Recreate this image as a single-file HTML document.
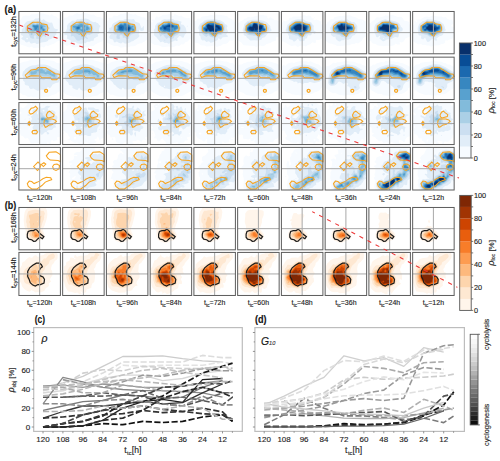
<!DOCTYPE html><html><head><meta charset="utf-8"><style>html,body{margin:0;padding:0;background:#fff;width:500px;height:461px;overflow:hidden}svg{display:block}text{stroke:#2a2a2a;stroke-width:0.14px}</style></head><body>
<svg width="500" height="461" viewBox="0 0 500 461" style="font-family:'Liberation Sans',sans-serif">
<rect width="500" height="461" fill="#fff"/>
<defs>
<clipPath id="cp0_0"><rect x="18.90" y="11.47" width="41.50" height="42.30"/></clipPath>
<clipPath id="cp0_1"><rect x="62.65" y="11.47" width="41.50" height="42.30"/></clipPath>
<clipPath id="cp0_2"><rect x="106.40" y="11.47" width="41.50" height="42.30"/></clipPath>
<clipPath id="cp0_3"><rect x="150.15" y="11.47" width="41.50" height="42.30"/></clipPath>
<clipPath id="cp0_4"><rect x="193.90" y="11.47" width="41.50" height="42.30"/></clipPath>
<clipPath id="cp0_5"><rect x="237.65" y="11.47" width="41.50" height="42.30"/></clipPath>
<clipPath id="cp0_6"><rect x="281.40" y="11.47" width="41.50" height="42.30"/></clipPath>
<clipPath id="cp0_7"><rect x="325.15" y="11.47" width="41.50" height="42.30"/></clipPath>
<clipPath id="cp0_8"><rect x="368.90" y="11.47" width="41.50" height="42.30"/></clipPath>
<clipPath id="cp0_9"><rect x="412.65" y="11.47" width="41.50" height="42.30"/></clipPath>
<clipPath id="cp1_0"><rect x="18.90" y="57.15" width="41.50" height="42.41"/></clipPath>
<clipPath id="cp1_1"><rect x="62.65" y="57.15" width="41.50" height="42.41"/></clipPath>
<clipPath id="cp1_2"><rect x="106.40" y="57.15" width="41.50" height="42.41"/></clipPath>
<clipPath id="cp1_3"><rect x="150.15" y="57.15" width="41.50" height="42.41"/></clipPath>
<clipPath id="cp1_4"><rect x="193.90" y="57.15" width="41.50" height="42.41"/></clipPath>
<clipPath id="cp1_5"><rect x="237.65" y="57.15" width="41.50" height="42.41"/></clipPath>
<clipPath id="cp1_6"><rect x="281.40" y="57.15" width="41.50" height="42.41"/></clipPath>
<clipPath id="cp1_7"><rect x="325.15" y="57.15" width="41.50" height="42.41"/></clipPath>
<clipPath id="cp1_8"><rect x="368.90" y="57.15" width="41.50" height="42.41"/></clipPath>
<clipPath id="cp1_9"><rect x="412.65" y="57.15" width="41.50" height="42.41"/></clipPath>
<clipPath id="cp2_0"><rect x="18.90" y="102.55" width="41.50" height="42.00"/></clipPath>
<clipPath id="cp2_1"><rect x="62.65" y="102.55" width="41.50" height="42.00"/></clipPath>
<clipPath id="cp2_2"><rect x="106.40" y="102.55" width="41.50" height="42.00"/></clipPath>
<clipPath id="cp2_3"><rect x="150.15" y="102.55" width="41.50" height="42.00"/></clipPath>
<clipPath id="cp2_4"><rect x="193.90" y="102.55" width="41.50" height="42.00"/></clipPath>
<clipPath id="cp2_5"><rect x="237.65" y="102.55" width="41.50" height="42.00"/></clipPath>
<clipPath id="cp2_6"><rect x="281.40" y="102.55" width="41.50" height="42.00"/></clipPath>
<clipPath id="cp2_7"><rect x="325.15" y="102.55" width="41.50" height="42.00"/></clipPath>
<clipPath id="cp2_8"><rect x="368.90" y="102.55" width="41.50" height="42.00"/></clipPath>
<clipPath id="cp2_9"><rect x="412.65" y="102.55" width="41.50" height="42.00"/></clipPath>
<clipPath id="cp3_0"><rect x="18.90" y="147.40" width="41.50" height="42.60"/></clipPath>
<clipPath id="cp3_1"><rect x="62.65" y="147.40" width="41.50" height="42.60"/></clipPath>
<clipPath id="cp3_2"><rect x="106.40" y="147.40" width="41.50" height="42.60"/></clipPath>
<clipPath id="cp3_3"><rect x="150.15" y="147.40" width="41.50" height="42.60"/></clipPath>
<clipPath id="cp3_4"><rect x="193.90" y="147.40" width="41.50" height="42.60"/></clipPath>
<clipPath id="cp3_5"><rect x="237.65" y="147.40" width="41.50" height="42.60"/></clipPath>
<clipPath id="cp3_6"><rect x="281.40" y="147.40" width="41.50" height="42.60"/></clipPath>
<clipPath id="cp3_7"><rect x="325.15" y="147.40" width="41.50" height="42.60"/></clipPath>
<clipPath id="cp3_8"><rect x="368.90" y="147.40" width="41.50" height="42.60"/></clipPath>
<clipPath id="cp3_9"><rect x="412.65" y="147.40" width="41.50" height="42.60"/></clipPath>
<clipPath id="cp4_0"><rect x="18.90" y="207.47" width="41.50" height="42.35"/></clipPath>
<clipPath id="cp4_1"><rect x="62.65" y="207.47" width="41.50" height="42.35"/></clipPath>
<clipPath id="cp4_2"><rect x="106.40" y="207.47" width="41.50" height="42.35"/></clipPath>
<clipPath id="cp4_3"><rect x="150.15" y="207.47" width="41.50" height="42.35"/></clipPath>
<clipPath id="cp4_4"><rect x="193.90" y="207.47" width="41.50" height="42.35"/></clipPath>
<clipPath id="cp4_5"><rect x="237.65" y="207.47" width="41.50" height="42.35"/></clipPath>
<clipPath id="cp4_6"><rect x="281.40" y="207.47" width="41.50" height="42.35"/></clipPath>
<clipPath id="cp4_7"><rect x="325.15" y="207.47" width="41.50" height="42.35"/></clipPath>
<clipPath id="cp4_8"><rect x="368.90" y="207.47" width="41.50" height="42.35"/></clipPath>
<clipPath id="cp4_9"><rect x="412.65" y="207.47" width="41.50" height="42.35"/></clipPath>
<clipPath id="cp5_0"><rect x="18.90" y="252.42" width="41.50" height="43.05"/></clipPath>
<clipPath id="cp5_1"><rect x="62.65" y="252.42" width="41.50" height="43.05"/></clipPath>
<clipPath id="cp5_2"><rect x="106.40" y="252.42" width="41.50" height="43.05"/></clipPath>
<clipPath id="cp5_3"><rect x="150.15" y="252.42" width="41.50" height="43.05"/></clipPath>
<clipPath id="cp5_4"><rect x="193.90" y="252.42" width="41.50" height="43.05"/></clipPath>
<clipPath id="cp5_5"><rect x="237.65" y="252.42" width="41.50" height="43.05"/></clipPath>
<clipPath id="cp5_6"><rect x="281.40" y="252.42" width="41.50" height="43.05"/></clipPath>
<clipPath id="cp5_7"><rect x="325.15" y="252.42" width="41.50" height="43.05"/></clipPath>
<clipPath id="cp5_8"><rect x="368.90" y="252.42" width="41.50" height="43.05"/></clipPath>
<clipPath id="cp5_9"><rect x="412.65" y="252.42" width="41.50" height="43.05"/></clipPath>
</defs>
<g clip-path="url(#cp0_0)"><g transform="translate(18.9 11.5)"><path d="M21 36.6l-.5 .2-2-.9-2 .7-2 0-2-1.5-2 .9-1-.2-4.6-1.8-2.9-.8-2-3.3-.3-3.9 .1-11.5 .4-2-.2-2.9 .5-.8 1.4-.8 1.3-2.5 .9-1 2.4-.6 4 .3 2-1.4 4 0 4-1 4.1 .2 2.2 1 2.7 .2 .7 .3 .8 1 .9-1.5 1.1-.3 2 1.9 2.5 .5 1.5 1.8 .5 .2 1.5-.2 .5 1.1 1.5 .9 0 2.9-.7 .7 .7 .4 .2 1.6-.2 12.5-1.1 2-4 1-2.4 2-5.5 1.9-1 .9-2-1-1 1.4-1 .7-1-.2-1.5-.7z" fill="#f7fbff"/><path d="M18.5 32.5l-1.5-.3-.5-1-2 .2-1.5 .5-1 0-.6-.4-.9-1.4-.5 0-2 .8-1.5-.3-.7-1.6-1.8-.5-1.6-1.5 .1-.5 1.5-.9 .3-.6-.3-.7-1.5-.6-.7-.7 0-.5 1.1-1.5-.1-2.5 .2-.9 1.2-1.1 .8-3.3 2.2-2.7 1.3-.8 6-1 2-1.6 2.5-.1 1.5-.8 .7 .3 .6 1.5 .7 .7 .5 0 1-.8 1-.2 1.9 1.8 3.2 1.5 .9 .3 2-.4 .4 .6 1.5 4.5 1.1 1.2 2.5 .5 .5 .3 .2 .5-2.1 2 .4 2-.2 .5-5.1 4.5-2.2 .5-.5 .3-.5 1.1-2.5 1.2-4 .3zM8.9 27.5l.2-.5-.6-.8-.5 0-.8 .8 .8 1 .5-.1z" fill="#e1edf8"/><path d="M20.5 28.1l-1.2-.6-2.2-.5 .5-2-.5-1-.6-.3-1 .3-.5 .5-.1 .5 .5 2-1.4 .2-2.2-.7-.5-.5-1.3-3.5-.5-.1-.3-1.4-.7-.6-2 .3-.4-.2 .5-1-.3-3 .3-1 3.3-3.5 2.1-1.5 2.5-.4 1 .2 1 .6 2-1.3 3 1.1 3.5 .4 2 .8 1 .7 1.3 1.4 .7 1.5 1.2 1-.2 .6-2 .9-.3 .5 .3 .5 1.1 .5 .5 1-1.6 1.8-2 .2 0 3-.5 .1-.5-.6-1-.4-1.6 .4-1.3 2-1.1 1zM16.6 21l-.1-.5-.1 .5z" fill="#ccdff1"/><path d="M19.5 24.1l-.5 0-.5-1.1-.6-.5 0-1.5-.2-.5-.7-.4-.5-.1-1 .3-1 .8-.9-.6-2.2-.5-.9-.5-2 0-.7-.5-.2-.5 .2-1 1.8-3 .9-1.1 2-1.5 2-.4 2 1.2 2-1.5 2 .7 2.5-.1 2 1 2 .5 1.2 1.2 .1 1.5-.8 3.8-1 .7-1.5 2.1-3 1.1zM12.5 23.7l-.9-.7 .1-1 .8-.6 .9 .1 .4 1-.2 .5z" fill="#abd0e6"/><path d="M21 22.6l-1.4-.6-.9-1.5-.7-.6-1.5-.4-2 .2-2-.3-1-.4-.4-.5 .4-.8 2-.6 .8-.6-.8-.5-.5-1 0-1 .5-.9 1-.4 2 .6 2-.9 2 .7 2-.7 .5 .1 1.5 1.2 2.2 .8-.2 1-1.5 .3-.5 .7 2 .8 .3 1.2-.5 1-1.3 1.3-2 .2-1 1.2z" fill="#82bbdb"/><path d="M21 21.6l-.5 0-.5-.4-1-1.9-3-.3-1.2-.5 .3-2-1.4-1.5-.1-.5 .4-.8 .5-.3 2 .4 2-.5 2 .9 2-.5 1.3 .8 .2 2.3 1.5 .8 .6 .9-.6 1-.5 .5-.5 0-.8-.5-.7-1.4-2.5-.1-.3 .5 1.2 1 .4 1zM13 18.5l-.6 0 .9 0z" fill="#58a1cf"/><path d="M16.5 18.5l-.5-.7-.5-2-1-.7-.4-.6 .4-.4 2 .2 2-.2 .8 .4-.2 1-.9 1-.2 1-.5 .6zM23 17l-.5 .1-.8-.6 .8-1.2 .5 .3 .1 .4zM25 19.3l-.8-.3-.2-.5 .3-.5 .7 0 .5 .5z" fill="#3787c0"/></g></g>
<polygon points="27.4,26.1 32.8,22.2 40.1,22.2 41.5,23.7 46.9,24.7 47.9,28.1 47.4,31.0 42.5,32.0 40.1,36.4 38.1,34.9 36.2,32.5 28.9,32.0 27.4,30.5" fill="none" stroke="#f7a41f" stroke-width="1.05" stroke-linejoin="miter"/>
<line x1="39.65" y1="11.47" x2="39.65" y2="53.77" stroke="#a8a8a8" stroke-width="1"/><line x1="18.90" y1="32.62" x2="60.40" y2="32.62" stroke="#a8a8a8" stroke-width="1"/><rect x="18.90" y="11.47" width="41.50" height="42.30" fill="none" stroke="#5c5c5c" stroke-width="1.0"/>
<g clip-path="url(#cp1_0)"><g transform="translate(18.9 57.1)"><path d="M24.5 40.5l-4 .4-4-.7-2 .2-2-.9-2 .4-2-.3-2.5-1.7-2 0-2-1.7-2-.5-.3-16.7 .3-12.5 5-1.8 3.5-.6 2-1 6-.3 8.5-.8 2 .7 8 1.2 2.5 1.7 4 .7 1.5 .9 .4 11.8-.4 14.3-3.8 1.7-2.2 1.9-4.8 1.6-3 1.5-2.2-.5-1.5 .8z" fill="#f7fbff"/><path d="M25 33.5l-1.8-1-.7-.1-2.5 1-1.5 .2-4-2.3-2 .7-1-.2-1-.8-.6-2-1.1-.5-1.8-.3-1-.7-.3-1 .2-1.5-1.4-1.2-.5-.8 .4-2.5-1.1-2 .7-3.8 1.5-1.2 1-1.6 3.5-2.3 3-1.1 3.5-.4 2.5-.7 6-.1 2 .3 4 1.4 1.9 1.5 4.6 1.7 2.7 1.8 2.8 3.3 0 3.8-2.2 1.9-1.3 2.3-2.5 .6-3.3 1.6-.8 1.5-1.6 2-.3 .2-.5-.2-1.5-1.4-2 2.7z" fill="#e1edf8"/><path d="M25 23.1l-2.5-.6-2 .3-2-2.1-2 .9-4-1.1-2 .6-.5-.1-1.1-1-.7-2-.1-1 .5-2 .6-1 1.2-1 6.1-2.7 6.5-.9 3 .6 5.5 1.8 6.7 4.2 1.2 1.5 .3 1.5-.4 1.5-1.2 1.5-1.1 .8-3 0-7-.9z" fill="#ccdff1"/><path d="M37 21.1l-1.5 .1-2.5-1.1-4-.8-4 .1-2-.2-2.5-1-2 .1-2 .6-5-.1-1-.8-.3-2.5 .4-1 .9-.8 5-2 6.5-1.3 2 1 2 .2 3.5 1 5 2.9 2.3 2.5 .2 1-.1 1z" fill="#abd0e6"/><path d="M36 19.7l-1-.1-2.7-1.1-3.3-1.9-2 .7-2.5-.8-4-.3-.8-.7 .5-1-1.2-.4-1.3 .4 .3 .5-.1 1-.4 .5-1.5 .6-3.5 .5-.8-.6-.3-1.5 .4-1 .7-.4 2 .2 4-2.2 2 .1 2.5-.8 2 2 1.4 .1-.7 1 .8 .5 .5 0 .7-.5-.2-1 1.5 0 1.5 .5 1.5 .9 1 2.1 1-.7 1-.1 .5 .4 .8 1.4 .1 1z" fill="#82bbdb"/><path d="M22.5 13.5l0-.7 .4 .2z" fill="#58a1cf"/></g></g>
<polygon points="25.3,75.2 31.1,70.0 36.3,69.2 38.3,67.5 45.5,67.5 49.4,70.0 55.2,73.7 59.5,74.3 60.4,76.5 58.5,77.8 56.5,79.8 52.0,79.8 50.7,77.8 41.6,77.5 40.3,75.9 31.1,75.7 26.6,77.5" fill="none" stroke="#f7a41f" stroke-width="1.05" stroke-linejoin="miter"/>
<ellipse cx="46.1" cy="90.8" rx="1.5" ry="1.5" fill="none" stroke="#f7a41f" stroke-width="1.3"/>
<line x1="39.65" y1="57.15" x2="39.65" y2="99.56" stroke="#a8a8a8" stroke-width="1"/><line x1="18.90" y1="78.35" x2="60.40" y2="78.35" stroke="#a8a8a8" stroke-width="1"/><rect x="18.90" y="57.15" width="41.50" height="42.41" fill="none" stroke="#5c5c5c" stroke-width="1.0"/>
<g clip-path="url(#cp2_0)"><g transform="translate(18.9 102.5)"><path d="M31 42l-.9-.5-.6-1.4-.5-.3-.5 .3-.7 1.4-.8 .4-4 .2-.5-.2-1-1.1-1-.2-4-.2-4 .7-1.5-1.5-.5-1.6-1.5-2.2-.5-.2-1.5 .3-1 0-2-2.4-2.2-.5-.4-2-1.4-1.4-.1-.6 .1-.4 2-1.6-.5-.9-1.1-1.1-.2-.5 .4-3 .4-.8 1.1-.2-2.1 0-.2-6 .2-1.3 2.6-2.7-.6-1.5-2 .7-.1-1.2 .1-1.2 1-.4 .5-.9 .5-2 0-2.1 .1 2.1 .7 1 1.2 .7 2-1.1 2.7-2.6-.7-2 .9 0 2.1 .6 .5 .5 .2 .9 .8 .4 .5-.4 .3-1.5 .8-.5 4.4-.3 18.2 .3 2.3 .7 .5 .5 .8 1.8 1.3 1 .4 1 1 .6 .1 8.9 .2 2-.3 17.3-.8-.3-.7-3.3-.5 .3-.2 .5 .4 3 .5 1-.2 .4-.9-.9-1.1-.1-1 .3-.5 .3-.1 .5 .7 1.5-.2 .5-2.4 .8-1 .6-2-1.7-.5 1.1-1.1 1.2 .5 1 0 1zM33.2 2.5l.6-.5-.8-.7-.8 .7zM20.9 2l-.4-.2-.2 .2zM37.7 4.5l.2-.5-.4-.3-.5 0-.3 .3 .3 .7zM10.5 8l0-.2-.5-.1-.2 .3 .2 .4zM41.8 12.5l-.3-.5-.6 .5 .6 .5zM10.7 27l-.2-2.2-1 2.2 1 .3zM35.8 33l-.8-.3-.2 .3 .2 .3zM17.5 35l-1.1 0 .1 .4z" fill="#f7fbff"/><path d="M25 2.5l-1-.5 1.5 0zM29 32l-1-.5-.2-1.5-.3-.4-.5 0-1.5 .4-1.5 1.7-1.5 .5-.5-.2-.8-2-.7-.5-1 .5-.5 1.3-.5 .5-2 .6-.8-.9-.6-2-1-.5 .6-2-.2-.5-.7-.5-.2-1 .3-1 1-1-.1-.5-.3-.2-3-.1-.9-.7 0-1 1.3-2.5 .7-.5 .5-1-.1-1-1.1-1 .2-.5 1.4-.7 .5-1.8 0-1.5-.8-1.5 1.8-1.7 3.5-.5 1-.6 .6-1.7 .4-.2 1.2 .2 .8 2 3.4-1 1.1-1.5 .5-.1 1.5-.1 2.5 .7-2.7 2-.1 .5 2.3 2.7 .7-1.2 1.3-.6 1 .3 1 1 1 .4 .5 .7 0 1.3-.5 .8-.9 .6 2.4 .6 1.1 1.4-.6 3-.7 1 .8 2-1.8 2.5 .7 1 0 1-2 .3-2 2.3-4 .1-.3 .3-.8 1 .1 .3 1.5 .5 .9 1.2-.4 .6zM25.3 9l.4-.5-.2-.8-.5-.4-1 .2-.3 .5 .1 .5 .7 .6zM18.9 11.5l.3-1.5-.2-.8-.5-.6-.5 2.4 .5 .9zM33.7 10.5l-.1-.5-.6-.3-1 .3 0 .5 1 .5zM11 13.3l-2-.2-.8-.6 2.3-1 1 1zM10.5 17.1l-.8-.6 .8-.7 .6 .7zM6.5 16.8l-.5 .1-.3-.4 .8-.2 .2 .2zM19.1 18.5l-.6-.2-.3 .2 .3 .3zM9 23l-.5 .4-.5-.6 0-2.2 .5-.5 1.4 .9-.2 1.5zM21.3 27.5l.4-.5-.7-.9-.5-.1-.5 1 .2 .5 .3 .5zM27 33.5l-.2-.5 .2-.1z" fill="#e1edf8"/><path d="M23 25l-.6-.5-.1-1.5-1.3-1.4-.5-.4-2-.1-.3-.6 1.7-.5 .6-.7 .2-.8-.2-1.3-2.1-.7 .6-.5 1.5 .2 1.2-3.7-.2-1.1-.6-.9 .6-.4 1-.1 1.1 .5 .4 2 2 1.3 .5 .7 4 .5 1 .4 .6 2.1 .9 1-2 1-.3 1.5 .3 .6 2 .8 .2 .6-.5 .5-1.7 .7-3-.8-1-.7-.5 .1-2.2 .7zM29 13.8l-.5-.4-.2-.9 .7-.7 .5 .7z" fill="#ccdff1"/><path d="M29 22.1l-2-1.1-4 .6-1-.6-.3-.5 .2-2-.6-2 .4-1 1.3-1.5 2 .2 1.1 .8 1.9 .6 2.2 1.4 .3 1.5-1 2.9z" fill="#abd0e6"/><path d="M29 20.6l-2.6-1.1-.6-1-.8-.7-2 .5-.5-.2-.6-1.6 .6-1 .5-.3 1.5-.1 3.5 1.4 1.1 1 .6 1z" fill="#82bbdb"/><path d="M29 18.6l-.5 .3-1-.3-2.5-1.9-2 .7-.6-.9 .6-.5 3.9 .5 .6 1.4z" fill="#58a1cf"/></g></g>
<polygon points="29.2,110.8 31.2,108.3 33.6,107.8 35.6,106.3 37.5,108.3 36.5,110.2 32.6,113.6 30.7,114.1 29.2,112.8" fill="none" stroke="#f7a41f" stroke-width="1.05" stroke-linejoin="miter"/>
<polygon points="46.3,115.1 47.8,112.2 49.7,111.2 51.7,112.8 54.1,114.6 53.6,116.6 50.2,117.5 48.2,118.0 46.8,117.0" fill="none" stroke="#f7a41f" stroke-width="1.05" stroke-linejoin="miter"/>
<polygon points="44.3,120.5 45.8,119.0 49.2,119.0 52.1,119.0 55.1,120.0 56.5,121.4 54.6,122.9 52.1,124.4 49.2,124.9 46.8,126.8 45.3,127.3 43.9,124.4" fill="none" stroke="#f7a41f" stroke-width="1.05" stroke-linejoin="miter"/>
<polygon points="27.8,123.4 29.2,121.4 30.7,123.4 29.2,125.3" fill="none" stroke="#f7a41f" stroke-width="1.05" stroke-linejoin="miter"/>
<polygon points="31.9,132.1 32.9,130.6 36.4,130.3 37.5,132.1 36.4,133.8 32.9,133.8" fill="none" stroke="#f7a41f" stroke-width="1.05" stroke-linejoin="miter"/>
<line x1="39.65" y1="102.55" x2="39.65" y2="144.55" stroke="#a8a8a8" stroke-width="1"/><line x1="18.90" y1="123.55" x2="60.40" y2="123.55" stroke="#a8a8a8" stroke-width="1"/><rect x="18.90" y="102.55" width="41.50" height="42.00" fill="none" stroke="#5c5c5c" stroke-width="1.0"/>
<g clip-path="url(#cp3_0)"><g transform="translate(18.9 147.4)"></g></g>
<polygon points="46.3,155.8 49.2,152.3 56.0,151.9 60.0,154.3 60.5,154.9 60.5,161.6 58.0,160.6 50.2,160.1 47.8,158.2" fill="none" stroke="#f7a41f" stroke-width="1.05" stroke-linejoin="miter"/>
<polygon points="27.3,183.6 29.2,181.1 31.7,181.6 34.1,183.6 37.5,182.1 39.5,181.1 42.9,178.7 46.3,177.2 50.7,177.7 51.7,179.7 49.2,180.6 45.3,182.1 41.9,185.5 39.0,187.5 37.0,188.9 31.7,188.9 28.3,186.5" fill="none" stroke="#f7a41f" stroke-width="1.05" stroke-linejoin="miter"/>
<polygon points="33.6,166.5 38.0,162.1 40.9,165.0 39.9,168.0 37.5,170.4" fill="none" stroke="#f7a41f" stroke-width="1.05" stroke-linejoin="miter"/>
<polygon points="41.4,164.5 43.9,162.6 45.8,164.0 43.4,166.5" fill="none" stroke="#f7a41f" stroke-width="1.05" stroke-linejoin="miter"/>
<polygon points="52.6,166.5 54.1,164.5 57.0,164.0 59.5,165.5 59.0,168.9 56.0,170.4 53.6,169.4" fill="none" stroke="#f7a41f" stroke-width="1.05" stroke-linejoin="miter"/>
<line x1="39.65" y1="147.40" x2="39.65" y2="190.00" stroke="#a8a8a8" stroke-width="1"/><line x1="18.90" y1="168.70" x2="60.40" y2="168.70" stroke="#a8a8a8" stroke-width="1"/><rect x="18.90" y="147.40" width="41.50" height="42.60" fill="none" stroke="#5c5c5c" stroke-width="1.0"/>
<g clip-path="url(#cp4_0)"><g transform="translate(18.9 207.5)"><path d="M17 34.5l-2 .2-3.5-.9-3.2-2.3-1.1-1.5-.6-3 .2-4-1.5-5-.5-5 .4-4.5 .6-4 1.2-2.6 2.3-1.9 5.2-.3 12 .3 1.6 3 .4 3.5-.4 3.5-.8 3-1.6 5-1.3 2.5-.2 1 .1 2 1.7 4.5 0 1.5-.8 1.5-1.2 .9z" fill="#fff5eb"/><path d="M17.5 32.6l-2 .2-3-.5-1.5-1.3-1-1.6-1.2-.9-.5-2 1-4-1.5-4 .1-2-.7-2 .6-6 1.4-4.5 1.3-.8 6-1.2 5.4 1 1.1 .6 .5-.3 1 0 .5 .5 1 2.2-.8 2.5 .1 1.5-.3 2-1.2 2.5-1.9 6.5 .2 2 1.6 3.5 .4 1.5 0 1-.7 1-1.9 1.2z" fill="#fee8d2"/><path d="M18 31l-3 .1-1.5-.5-1-.6-2-3 .2-1.5 1.5-3-.2-1-.8-1 .2-1.5-.2-2.5-.8-2 .8-2-1.3-4 .6-1.2 2-.3 4-1.4 2-.2 1.3 .6 .3 .5-.5 1.5 .1 .5 .8 .4 2-.7 .1 .3-1 3.5-.1 2.5-.6 2-2.4 3.9 0 .6 1.2 1.5 .9 2 1.4 1.5 .5 2-.2 1-1.1 1-1.2 .6zM19 14.5l-.5-1.4-.4 1.4 .4 .2z" fill="#fdd5ad"/><path d="M14.5 17.1l-.5-.6 .5-.6 .4 .6zM19 30l-2 .3-1.5-.3-2.1-2-.5-1 0-1 .4-1.5 .9-1 .3-.2 3 .6 1.2 1.1 1.3 .5 1 .8 .4 1.2-.2 1-1 1z" fill="#fdb97d"/><path d="M18 29.5l-1.5 .1-1-.6-.3-1 .2-1-.9-2 1-.4 1 0 3.8 2.4 .1 .5-.5 1-.5 .5z" fill="#fd9c51"/><path d="M18 28.6l-1.5 .3-.3-.9 .3-1 .5-.2 1.3 .7 .1 .5z" fill="#f87d29"/></g></g>
<polygon points="27.3,234.3 28.2,231.4 30.7,230.6 33.6,230.6 35.6,229.2 37.5,230.6 39.5,233.3 43.9,236.7 42.4,238.7 40.0,237.2 38.0,238.7 35.6,241.1 33.6,241.3 31.7,239.7 28.7,239.2 27.3,237.2" fill="none" stroke="#1a1a1a" stroke-width="1.2" stroke-linejoin="miter"/>
<line x1="39.65" y1="207.47" x2="39.65" y2="249.82" stroke="#a8a8a8" stroke-width="1"/><line x1="18.90" y1="228.65" x2="60.40" y2="228.65" stroke="#a8a8a8" stroke-width="1"/><rect x="18.90" y="207.47" width="41.50" height="42.35" fill="none" stroke="#5c5c5c" stroke-width="1.0"/>
<g clip-path="url(#cp5_0)"><g transform="translate(18.9 252.4)"><path d="M21 40l-2.5-.3-2 .4-2-1.4-1.5-.5-.5-.5-1 1.1-1 .5-2-.6-3.2-2.2-2.1-2.5-.9-3-1.2-2-.9-4 .9-4.5-.4-2 .1-2 2.3-4 .1-2 .8-.8 1.5-.7 2.8-3 2.2-1.5 1.5 .8 1 .1 .7-.4 1-1.5 1.8-.7 1 .2 1 1.4 2-.1 .7-.3 .3-.9 3-.6 2.5-1.6 3.1-.9 4.4-.3 3.5 .3 .8 2.5-.2 3.5-.6 1-2.1 1.5-.9 2-2 2-.8 3 0 1.5 1 1.5 .4 4-.1 .7-1.2 1.3-1.4 2.5 1.3 2-2.4 2 .3 2-.2 .5-.9 1-2 1.1-1.5 2.7-2.5 1.4zM21 3l-.5-.1-.5-.4 0-.5 .8 0zM21 37.5l-.5-.5 0 .6z" fill="#fff5eb"/><path d="M18 34.5l-2 .4-3.5-.8-1-.5-1-1.2-3.5-1.4-1-.6-.8-1.4-.9-5-.1-1 .8-4 1.3-2.5 3.4-2.5 2.3-.9 1.5-1.3 4-2.1 2-.5 3-.2 .5-.3 2-2.6 2 0 2.5-3.3 4-1.7 1 0 .5 .4 1.1 2-.4 1.5-.8 1-4 2-.9 3-1.4 1.5-2.4 2-.2 2-2.6 3.5-.2 1.5 .2 1 1.6 1.2 .9 1.3 .3 4-1 2-1.7 1.6-3 .8z" fill="#fee8d2"/><path d="M18 32.6l-2.5 .3-2.5-.9-.4-1-1.1-.6-.9-.9-1.1-2.4-1.5-1.1-1.1-3.5 1.7-2 .6-2 1.3-.7 2.7-2.3 1.7-3 1.6-.9 1 .2 .6 .7 .4 2.2 .4-.2-.1-1 .5-1.5 .7-.6 1-.1 1 .5 1.6 2.2-.2 1-1.6 1.5-.5 1-.6 2 .6 3.5 2.2 2 .1 1-.5 1-.2 2 .4 .5 .1 1-.1 .5-.8 .4-2 .2z" fill="#fdd5ad"/><path d="M16.5 31.7l-4.6-2.7 0-1 .3-1-1.3-1.5-.8-2.5 1.9-2.4 .4-1.6 .4-.5 3.7-1.2 1.2 1.2 .5 2-.2 1.5-1.1 1 1.1 .6 .5 1.4 .5 .5 1.5 .6 .6 1.4 .2 1.5-.3 .6-.5 .2-.5-.2-.6-.6-.4-1.1-.5-.3-1.1 1.4 .3 1-.1 1z" fill="#fdb97d"/><path d="M14.5 22.3l-.4-.8 .1-1 .3-.3 2-.2 .3 .5-.2 .5-1.6 .7zM12.5 25.2l-.3-.7 .3-.6 .6 .6-.1 .5z" fill="#fd9c51"/></g></g>
<polygon points="27.7,271.4 29.7,267.8 32.8,265.3 36.3,263.2 39.4,263.2 41.4,264.7 42.4,266.8 40.4,268.3 38.9,271.3 38.9,273.9 40.4,275.9 43.0,277.0 44.5,279.5 44.0,283.1 40.4,284.6 37.9,284.6 35.3,286.1 32.8,285.1 30.2,282.6 29.2,279.5 27.7,276.5" fill="none" stroke="#1a1a1a" stroke-width="1.2" stroke-linejoin="miter"/>
<line x1="39.65" y1="252.42" x2="39.65" y2="295.47" stroke="#a8a8a8" stroke-width="1"/><line x1="18.90" y1="273.94" x2="60.40" y2="273.94" stroke="#a8a8a8" stroke-width="1"/><rect x="18.90" y="252.42" width="41.50" height="43.05" fill="none" stroke="#5c5c5c" stroke-width="1.0"/>
<g clip-path="url(#cp0_1)"><g transform="translate(62.6 11.5)"><path d="M25 36.1l-2.5-.6-2 .3-2-.4-.7 .6-1.3 .3-2-.7-2 .3-2-.2-2-1.3-2-.8-1.5 .6-1 0-4-2.3-.3-13.4 .3-9.8 .8-.7 1.2-1.9 2.5-.1 1.4-1.5 1.1-.5 3.5 0 1-1 3-1.6 1.6 1.1 .9 .2 1.5-.1 1-1 1.5-.4 4 .7 1.5 .8 2 .6 2.5-.2 2 1.4 2 .9 2 .1 2.5 .9 2 2.1 1 .5 .4 .5 .3 7-.2 10.5-1 .8-1.5 .6-1 1.5-4 1.5-1 .7-1.5 .6-2 1.8-2 .2-2-.2z" fill="#f7fbff"/><path d="M18.5 32.6l-4-.8-2-1.6-2.5 .9-1.7-.1-.3-1 .1-1-3.8-2 .4-2-.2-1-.5-.5-2 .2-.3-1.2 .1-1.5 1.7-1.7 1.1-2.8-.3-2 1.5-2.5 1.7-1 1-1.1 1-.6 1-.3 2 .5 2-1.8 2 .4 2-.9 2 .4 2.5-.5 2 .3 1.4 .6 1.7 1.5 2.9 1.2 2-.4 .5 .8 2 .7 1 1.6 1.6 1.1-1.1 1.3-.3 .7-.4 2 .4 1.5 0 1.5-.2 .5-1.7 1 .8 1 .1 .5-.4 .5-1.4 .5-2.5 1.5-.4 2.3-2 0-2 .9-2.5 .1-1.5 1.4-.5 .1-2-.4z" fill="#e1edf8"/><path d="M17 29l-.5 .2-2-.2-1.4-1.5-.6-1.2-1.8-1.8-.7-.1-1.5 .6-.4-.5 .3-1-.1-1-.8-2.6-.7-1.4 .3-1 .9-1-.6-.5-.1-1.5 3.2-3.2 4-.2 1.5-1.3 2.5-.9 1 .3 1.5 1.3 1.5 .6 2.5-.5 4.4 2.9 .8 1 .5 4-.8 3.5-1.9 .8-1 .7-2-.6-.5 .5-.9 1.6 .4 .8 1 .4 .2 .3-.2 .9-.5 0-.9-.4-.6-.7-2.5 2-2-.2z" fill="#ccdff1"/><path d="M21 25.1l-1 .4-1.6-.5-.1-1 .9-1-.1-.5-.6-.3-.9 1.3-1.1 .1-1.5-1.2-2-.9-.5-1-2 1.1-.9-.6-.4-.5-.3-1 .2-3-.5-2 .4-.5 3-2 2.5-.1 2-1.4 2-.8 4 2.7 .5 .1 2-.6 1 1 .5 1.6 .5 .4 1-.4 1 0 .4 3.5-.4 2.8-2-1.2-.5 .3z" fill="#abd0e6"/><path d="M22.5 22.1l-1 .2-1-.2-2-1.4-2 0-.5 .4-1.5 .2-2-2-2-.2-.5-1.2-.6-3.4 1.1-.9 2-.9 2 0 1.5-.5 2.5-1.7 4 2.9 2-.3 .5 .1 .5 1.3 1.5 1.4 1 .5 0 1.1-.3 .5-1.7 1.1-1.3 1.4-1.2 .6zM18.9 17l.4-.5-.8-.5-.3 .5 .1 .5 .2 .2z" fill="#82bbdb"/><path d="M21 21.1l-.5-.1-1.5-1.5-2-1.2-1.2 .2-1.3 1.8-.6-1.3-1-1-.5-1.5-1.9-.7-.2-1.3 1.2-.3 3 .4 1.5-1.1 2.5-.9 1.5 .3 3 1.6-.5 .4-.8 1.6 .5 1.5 .8 .5 .5-.6 .1-2.9 .9-.2 .5 .2 1.4 1.5-.4 1-1 .9-2 .2-1.1 1.9zM19 18l.5-.5 .4-1-.7-1-.7-.3-.8 1.3 .1 1 .2 .5z" fill="#58a1cf"/><path d="M14.5 18.1l-1-1.1 0-1 1-.7 2-.6 .5 .2 .3 1.1-.3 1.3-.5 .3zM25 16.8l-.3-.3 .3-.2z" fill="#3787c0"/><path d="M16 17l-1.5 .1-.4-.6 .4-.4 2-.3 .3 .7-.3 .5z" fill="#1b69af"/></g></g>
<polygon points="71.2,26.1 76.5,22.2 83.8,22.2 85.2,23.7 90.7,24.7 91.7,28.1 91.2,31.0 86.2,32.0 83.8,36.4 81.8,34.9 80.0,32.5 72.7,32.0 71.2,30.5" fill="none" stroke="#f7a41f" stroke-width="1.05" stroke-linejoin="miter"/>
<line x1="83.40" y1="11.47" x2="83.40" y2="53.77" stroke="#a8a8a8" stroke-width="1"/><line x1="62.65" y1="32.62" x2="104.15" y2="32.62" stroke="#a8a8a8" stroke-width="1"/><rect x="62.65" y="11.47" width="41.50" height="42.30" fill="none" stroke="#5c5c5c" stroke-width="1.0"/>
<g clip-path="url(#cp1_1)"><g transform="translate(62.6 57.1)"><path d="M21.5 40.6l-1.5 .3-3.5-.5-2 .1-2-1.1-2 .2-.7-.1-4.8-1.7-3-1.5-2-2.2-.3-13.6 .3-13.4 2-1.6 2-.7 2-.2 2.5-1.1 6-1.1 4 .3 2-.5 2-.1 2.5 .6 2-.2 2 .2 7 1.7 2.5 1 3 .5 1.5 .6 .4 14-.5 12-1.9 2.5-1.5 .9-2.1 .6-2.4 2-5.7 1-2.3 .9-4-.2z" fill="#f7fbff"/><path d="M21.5 33.6l-1 .2-1-.4-2-1.2-.5-1.2-.5-.3-.4 .3-.4 1-.7 .6-.5 .2-2-.6-2.6-1.2-.1-2-.5-.5-2.8-.5-.9-2.5-2.3-2-1.3-3 1.5-3.8 .5-2.2 6.5-4.9 8-2.1 6-.3 2.5 .8 3.5 .7 2.5 1.7 2 .3 4 2.3 3.6 3.5 .2 1-.2 1 .4 .7 0 2-2.5 1.8-1.1 2-2.4 .5-2 1.4-1 1.4-1 .8-1 .5-3 .8-2 2.1-2 .8-2-.2z" fill="#e1edf8"/><path d="M35.5 23.1l-.5 .1-2-.6-4 .6-2-1-4 .9-1.5-.9-1-.2-2 1-2-1.7-2 .3-2-.1-1.3-1-2.2-.8-1.3-2.2 0-1.5 .8-1.5 1-.9 2.5-1.5 2.5-1.1 6-1.6 4.5 0 4 1.1 5.5 2.8 4.7 3.2 .4 1.5 0 2.5-2.1 1.7z" fill="#ccdff1"/><path d="M35.5 21.6l-1.5-.2-2.5-1.2-1.5-.5-3-.5-2.5 .1-1.5-.5-2.5 .5-2-.1-4-.8-2 .5-1.5 0-1-.6-.6-1.8 .4-1 1.5-1.5 4.7-2.2 5-1.3 4 .1 4 1.1 1.5 .8 5 3.3 2 1.1 .6 1.1-.1 1.6-1.2 1.4z" fill="#abd0e6"/><path d="M36 20.1l-1 .3-.8-.9-.1-1-.6-.4-.5-.2-2 .2-2-1.9-2 1.2-1-.4-1-1-.5-.1-2 .4-2-.3-4 1.3-2-.5-2.5 .4-.5-.2-.3-1 1.3-1.5 4-1.9 2-.2 2 .2 2.5-1.1 2 .2 3.3 .8 5.1 3 1.3 1.5 1.6 1 .3 1z" fill="#82bbdb"/><path d="M27 15.6l-1.5-1-4.5 .1-1.1-.2 .5-.5 2.6-.9 3.5 .2 1.1 .7-.1 1z" fill="#58a1cf"/></g></g>
<polygon points="69.0,75.2 74.8,70.0 80.0,69.2 82.0,67.5 89.2,67.5 93.2,70.0 98.9,73.7 103.2,74.3 104.2,76.5 102.2,77.8 100.2,79.8 95.8,79.8 94.5,77.8 85.3,77.5 84.0,75.9 74.8,75.7 70.3,77.5" fill="none" stroke="#f7a41f" stroke-width="1.05" stroke-linejoin="miter"/>
<ellipse cx="89.8" cy="90.8" rx="1.5" ry="1.5" fill="none" stroke="#f7a41f" stroke-width="1.3"/>
<line x1="83.40" y1="57.15" x2="83.40" y2="99.56" stroke="#a8a8a8" stroke-width="1"/><line x1="62.65" y1="78.35" x2="104.15" y2="78.35" stroke="#a8a8a8" stroke-width="1"/><rect x="62.65" y="57.15" width="41.50" height="42.41" fill="none" stroke="#5c5c5c" stroke-width="1.0"/>
<g clip-path="url(#cp2_1)"><g transform="translate(62.6 102.5)"><path d="M20.5 43l-.8-.5-.7-1-.1-2-.4-.4-.4 .4-.2 2-1.4 .5-1-1.5-.5-.3-1-.1-1.5 .5-2.3-1.1-2.2-1.7-2-.6-2-.2 2.5-.4 .9-1.1 0-.5-1.4-1.5-1-2.4-2-.8-.8-1.3-1.5-1-.5-1-.3-4.5 0-6 .1-.9 .7-1.1-.7-.5 0-3.5 .6-1 1.8-1 .6-1.1 1.5-1.1-.2-3.8 1.2-.5 .3-.5 .1-1.5 1.7 0 1.9 .7 1 .7 1-.9 1-.3 5.5-.4 5-.1 2 .4 4-.4 5 0 2.6 .3 .9 .5 .8-.5 2 0 1.4 2 .5 2-.1 2 .9 1.2 .1 .8-.1 1.7-.3 .8 .4 .5 .2 2-.3 19.4-1.9 .6 .6 2-.2 .3-2.5 .8-1.5 1.7-.5 .2-1.2-3.5-.3-.4-.5-.1-1 2.1-2.1 .9-.3 .5 2.3 1.5 0 .5-.9 .7-2 .8-2 0-2 1.5-.7-.5-.4-1.5-.4-.3-2.5-.2-1 .5-1 2.1zM27.1 8.5l-.3 0 .2 .2zM0 32.1l0-2.4 1.1 .3 .4 1zM12.5 37.5l.5-1.5 .7-1-1.2-1-1.1 1 .5 2zM25.3 37.5l-.3-.6-.5 .2-.1 .4 .6 .4zM27.4 39.5l-.4-.6-.5 .1-.2 .5 .7 .3z" fill="#f7fbff"/><path d="M27.5 33.5l-2 .1-2.5-1.1-2.5 .5-2-.3-1 .6-1 0-.3-.3 .2-2-.4-.7-1.5-.7-2 .3-1-.9 .3-1 1.4-1.5 .7-1.5-.9-1.4-2.5-1.5-1-1.6 .4-2 1.9-.5 .3-1-.9-3-1.1-1.5 .4-.6 2-.2 2.5-1.2 0-.6-1.2-.9-.3-1 .5-1 1.6-1.5 .9-1.4 2 2.7 2-.4 2-1.4 1.4 0 .9 3 2.2 2.8 2.2-.3 .4-.5 0-1.5-.3-.5-.8-.4-3.1-.6-.3-1 .4-.9 5.5-.2 2 1.7 2.5-.2 1.1 1.1 .2 1-.4 1-3.4 .4-.5 .6 1.8 .5 .7 .7 2-1.1 .5 .3 .6 1.1 .5 2.5-.8 1-.8 .4-2-.8-.8 .4-.2 1 2 1.7 .5 1.3 .9 1-.3 2-.6 1.1-1.5 1.4-.5 2 0 2-1.5 .9-2 .1-.5 .4-1.5 0-.4 .6 0 2zM17.3 9l1-1-.3-.7-1.5-.2-.9 .4-.3 1 .2 .7 1 .3zM14.8 20l.7-1 0-.5-.6-.5-1.9-.1-.8 .6 2.3 1.6zM19.1 25.5l.5-.5-.2-.5-.9-.6-.5 1.1 .5 .8zM27 25l0-.6-.2 .6zM31.2 25l-.2-.7 0 1.2zM37 27.5l-.5-.5 .5-.8 .5 .8zM19 29.5l.3-.5-.8-.8-1.1 .8 1.1 .9z" fill="#e1edf8"/><path d="M23.5 25.1l-1 .1-2-2.2-.2-.5 .4-.5 1.9-1.5-2.6-1.5-.4-.5 .2-2-.2-1-.2-.5-.8-.5 1.9-.3 2.3-1.7-.3-1.2-1-.8 1-1.4 .5 0 .4 .4 1.6 .4 1 1.6 .6 .5 3.4 1 .5 .5 1.6 3.5 0 1-.5 .5 .1 2-.2 .6-2.4 1.4-.1 .4-2-.8-2 2.2zM16.5 17.2l-.5-.4-1.6-.3 2.1-.4 .3 .4zM29 25.2l-.4-.7 .4-1.4 .3 1.4z" fill="#ccdff1"/><path d="M25 23.1l-2.2-.1-.1-.5 .9-1 .4-1-.5-.9-1.6-1.1-1-2 1.1-2 3-1.7 2 .8 2 .3 .6 .6-.2 1-.9 1 .8 2-.3 1.5-.5 .4-2 .3z" fill="#abd0e6"/><path d="M27.5 19.1l-1 .2-1.5-1.5-2-.1-.6-1.2 .6-1.2 1-.6 1-.2 2 .7 .3 .3 .5 2.5 .1 .5z" fill="#82bbdb"/><path d="M25.5 16.7l-1.3-.2 .8-.4 .7 .4z" fill="#58a1cf"/></g></g>
<polygon points="73.0,110.8 75.0,108.3 77.3,107.8 79.3,106.3 81.2,108.3 80.2,110.2 76.3,113.6 74.5,114.1 73.0,112.8" fill="none" stroke="#f7a41f" stroke-width="1.05" stroke-linejoin="miter"/>
<polygon points="90.0,115.1 91.5,112.2 93.5,111.2 95.4,112.8 97.8,114.6 97.3,116.6 94.0,117.5 92.0,118.0 90.5,117.0" fill="none" stroke="#f7a41f" stroke-width="1.05" stroke-linejoin="miter"/>
<polygon points="88.0,120.5 89.5,119.0 93.0,119.0 95.8,119.0 98.8,120.0 100.2,121.4 98.3,122.9 95.8,124.4 93.0,124.9 90.5,126.8 89.0,127.3 87.7,124.4" fill="none" stroke="#f7a41f" stroke-width="1.05" stroke-linejoin="miter"/>
<polygon points="71.5,123.4 73.0,121.4 74.5,123.4 73.0,125.3" fill="none" stroke="#f7a41f" stroke-width="1.05" stroke-linejoin="miter"/>
<polygon points="75.7,132.1 76.7,130.6 80.2,130.3 81.2,132.1 80.2,133.8 76.7,133.8" fill="none" stroke="#f7a41f" stroke-width="1.05" stroke-linejoin="miter"/>
<line x1="83.40" y1="102.55" x2="83.40" y2="144.55" stroke="#a8a8a8" stroke-width="1"/><line x1="62.65" y1="123.55" x2="104.15" y2="123.55" stroke="#a8a8a8" stroke-width="1"/><rect x="62.65" y="102.55" width="41.50" height="42.00" fill="none" stroke="#5c5c5c" stroke-width="1.0"/>
<g clip-path="url(#cp3_1)"><g transform="translate(62.6 147.4)"><path d="M43 43l-16 .3-4-.2-2.5 .2-12.6-.3 .1-1.5-.7-2.5 .4-4-.2-2 .2-2-.8-2 .8-2-.3-1-1.4-1 0-.4 2.9-3.6 0-.5-1.3-1-.3-.5 .2-1.5 2.7-1-1.7-.7-1.5 .1-.4-.4 0-1 .9-1.2 3.1-.8 .8-2 .1-1.8 3 .1 .3-.3-.3-1-2.5 .4-.5-.4 .2-1.5 .8-.6 2-.7 2 .1 .6-.3 2.4-2.1 .2-.4 .2-2 4.1 0 1 .5 .5-.5 4.1 0 .9 .6 1.9 .4 .1 1 .5 .7 2 .3 2.5-1.2 1.5 0 .6 .2 .7 1 2.7 .7 0 1.6-.9 .7 .9 .6 .2 1.9 0 28.5-.2 1.3-1 .5-.3 .7 .3 .8 1 .5zM33 .7l-.4-.2 0-.5 1.2 0zM11 8.6l-.6-.1 .6-.2 .3 .2zM14.6 22.5l-.1-.2 0 .5zM11.1 31.5l1-.5 .9-1.5 .2-.5-.7-.6-.5 .2-.5 1-1.5 .6-.9 .8 .9 .8z" fill="#f7fbff"/><path d="M25 41.7l-.5 0-1.5-1.1-1.5-.2-1-1.5-.3 .6 .3 1.5-.5 .4-1.5 .1-1.4-1.5-.2-.5 .3-.5 2.3-.7 .4-1.3-.4-.7-2-.6-.7-.7 2.2-1.5 .2-.5-1.7-2 1-2-.1-.5-.9-.9-1-.4-1.4-2.2 1-1.5 .4-1.7 .9-1.3 .4-2 1.7-1.4 1-2.1 2.5 .2 .7-.7 .3-1 1.3-1-.5-.5-1.9-.5-.5-1 .3-.5 1.8-.4 3.5-.1 1-2.3 4-.8 2 .6 2-1 .5 0 1.5 .9 1.7 2.1 .6 9.5-1 2 .3 .5 1.9 1 .3 .5-.2 .5-1.9 2.5-.4 2.5-.9 1-1.9 3.2-.5 .2-2-.2-1.5 2.3-1.2 .5 .2 .5 1 .8 .4 .7-.4 1.2-.5 .4-1.3 .4-5.2 1-.8 .5zM29.3 10.5l-.3-.5-.2 .5 .2 .4zM20.5 14l-2-1.5 1.5-.4 1.5 .2 .2 .2-.7 1.2zM29.1 16.5l.6-1 .8-.6 .5-.2 2 .3 .4-.5-1.4-.5-.5-.4-.5-1.4-4.5 2 0 .7 .5 .6 1.6 1 .4 .2zM22.6 19l.2-.5-.6 0 .2 .5zM20.5 23.5l.4-.5-.4-.8-.3 .8zM11.5 38l-.5-.1-.2-.4 .7-.2 .6 .2zM14.5 42.2l-.7-.7-.2-1 .2-2 .2-.4 .5-.2 1.1 1.6 .1 .5-.5 1.5z" fill="#e1edf8"/><path d="M35.5 29.6l-.5 .2-.3-.3-1.5-2.5 1-1 1.8-.6 .6-1.4 .4-.4 .5 .6 .1 .8-1 1-.3 2.5-.1 .5zM27 35.4l-.5-.4-.4-1.5 0-1.5 .3-1 3.1-1.3 .6-.7 1-.5 .5 .5-.1 1.3-.7 .2-.8 1.2-1.9 1.3zM23 31.7l-.5-.2-.4-.5 .9-.6 1 .6zM33 32.3l-1.1-1.3 .1-.3 1-.1 .7 .4z" fill="#ccdff1"/></g></g>
<polygon points="90.0,155.8 93.0,152.3 99.8,151.9 103.8,154.3 104.2,154.9 104.2,161.6 101.8,160.6 94.0,160.1 91.5,158.2" fill="none" stroke="#f7a41f" stroke-width="1.05" stroke-linejoin="miter"/>
<polygon points="71.0,183.6 73.0,181.1 75.5,181.6 77.8,183.6 81.2,182.1 83.2,181.1 86.7,178.7 90.0,177.2 94.5,177.7 95.4,179.7 93.0,180.6 89.0,182.1 85.7,185.5 82.8,187.5 80.8,188.9 75.5,188.9 72.0,186.5" fill="none" stroke="#f7a41f" stroke-width="1.05" stroke-linejoin="miter"/>
<polygon points="77.3,166.5 81.8,162.1 84.7,165.0 83.7,168.0 81.2,170.4" fill="none" stroke="#f7a41f" stroke-width="1.05" stroke-linejoin="miter"/>
<polygon points="85.2,164.5 87.7,162.6 89.5,164.0 87.2,166.5" fill="none" stroke="#f7a41f" stroke-width="1.05" stroke-linejoin="miter"/>
<polygon points="96.3,166.5 97.8,164.5 100.8,164.0 103.2,165.5 102.8,168.9 99.8,170.4 97.3,169.4" fill="none" stroke="#f7a41f" stroke-width="1.05" stroke-linejoin="miter"/>
<line x1="83.40" y1="147.40" x2="83.40" y2="190.00" stroke="#a8a8a8" stroke-width="1"/><line x1="62.65" y1="168.70" x2="104.15" y2="168.70" stroke="#a8a8a8" stroke-width="1"/><rect x="62.65" y="147.40" width="41.50" height="42.60" fill="none" stroke="#5c5c5c" stroke-width="1.0"/>
<g clip-path="url(#cp4_1)"><g transform="translate(62.6 207.5)"><path d="M17.5 34.5l-3 .5-4.5-1.9-2-1.6-1.1-2-.2-1.5 .1-5-.9-2.5-1-4-.2-3.5-.1-2.5 .9-6 .8-1.5 2.7-3 13.5-.3 4.1 .3 1.9 4-.2 4-.6 3-3.2 9.6-.3 1.9 .3 1.2 1.3 2.8 .4 2.5-.7 1.5-2 1.7-1 .5-2 .3z" fill="#fff5eb"/><path d="M17 33.1l-2 0-4.5-1.8-1-1.3-.6-1.5-.4-2 .5-4-.4-2 0-2-1.1-2-.1-1.5 .1-1.6 .6-.9-.6-2 .4-4 .7-1.5 1.4-1 .4-1 .6-.3 5.5-.6 4 .6 1.5-.6 1-.1 1 .5 .9 1 .7 2.5-.2 2.5-.6 2-.1 2-1.2 2 .3 2-.5 1-1 1-.4 3.5 .2 1 1.8 3.5 .4 2-.4 1-.9 .9z" fill="#fee8d2"/><path d="M16 31.6l-1.5 0-1.4-.6-.5-.5-1.2-2-.7-2.5 .3-3.5 1.6-2-1.1-1-.6-1-.8-2-.2-2 .9-2 .1-2 .6-1.3 1-.5 2.5-.2 .1-.5-.6-.4-2 0-1-.6-.4-.5 .4-.5 1-.4 2 .4 2-.2 .4 .2 .3 .5-.1 1-.6 .8-.6 .2 .6 2 .5-1.7 1-.2 .5 .1 1.4 .8 .7 .5 .2 .5-1.1 1.5-.5 1.5-1.2 1-.1 2 .3 1 .9 1 .2 2-.1 2 2.5 2.5 .9 3.5-.6 .9-.9 .6-2.6 1.1zM12.7 15l.3-.5-.2-.5-.3-.4-.5 0-.7 .9 .7 .6 .5 .1z" fill="#fdd5ad"/><path d="M18.5 30.1l-3 .2-1.1-.3-1.4-2.5-.3-2 .3-2.3 1.5 0 1-.7 1-.4 1 .8 1 1.5 1.8 .6 .4 1 0 1 .6 1-.1 1z" fill="#fdb97d"/><path d="M19 29.1l-2.5 .2-1.5-1-.6-.8-.3-1 0-1 .4-.7 2-.5 2.7 1.7 .8 2 0 .5z" fill="#fd9c51"/><path d="M18 28.2l-1 .1-.7-.3-.8-1 .1-.5 .9-.6 1.7 .6 .5 .5 0 .5z" fill="#f87d29"/></g></g>
<polygon points="71.0,234.3 72.0,231.4 74.5,230.6 77.3,230.6 79.3,229.2 81.2,230.6 83.2,233.3 87.7,236.7 86.2,238.7 83.8,237.2 81.8,238.7 79.3,241.1 77.3,241.3 75.5,239.7 72.5,239.2 71.0,237.2" fill="none" stroke="#1a1a1a" stroke-width="1.2" stroke-linejoin="miter"/>
<line x1="83.40" y1="207.47" x2="83.40" y2="249.82" stroke="#a8a8a8" stroke-width="1"/><line x1="62.65" y1="228.65" x2="104.15" y2="228.65" stroke="#a8a8a8" stroke-width="1"/><rect x="62.65" y="207.47" width="41.50" height="42.35" fill="none" stroke="#5c5c5c" stroke-width="1.0"/>
<g clip-path="url(#cp5_1)"><g transform="translate(62.6 252.4)"><path d="M18.5 41.7l-2 .1-1-1.2-1-.4-2 .3-4-1.1-2-.1-.8-.3-.9-1-2.4-4.5-.8-3.5-.9-1.5-.3-1-.4-2.6 0-3.9 1-1.5 .2-1 .3-2-.3-2 .8-1 1.5-1 0-2 .5-.8 3.2-1.7 .1-2 .7-.9 .5-.1 2.5 .7 .9 .8 .8 0 .2-.5-.4-.4-.8-.1-.2-.5 .2-1.5 .8-1.1 2 2.2 1.5-.8 2.5-.8 2 .7 3.5-.8 1-.5 2-2 1.3-.4 5.2-.3 4.7 .3 .4 1 .3 2.5-.4 2-1.5 3-2 1.6-1.8 2.4-.4 2-.5 1-1.3 1 .8 1 .4 2 .7 1.5-.5 1.5 0 2.5-.6 4-.6 1-1 .5-.4 .5-.9 2-.1 2-.4 .5-4.3 1.5-.3 .5-.3 2-1 .9-2.5-.1-.5-.3-.6-1-.8 0-.5 .5 1.5 1.5-.1 .5zM16.6 6l-.1-.2-.1 .2z" fill="#fff5eb"/><path d="M19 35l-1 .2-3.5-.3-2.7-.9-1.4-1-1.9-.8-2 .1-.5-.4-.7-1.4-1.8-5.5 .1-2.5 1.4-4.5 2.1-3.5 .9-.5 2.5-.6 2-1.5 2.8-1.4 1.2-1 6-1.4 2.5-1.3 2 .1 .8-1.9 .5-.5 .7-.4 2 .1 .3-.2 1.7-3.6 1.5 .2 2.2 1.4 0 1-.7 .7-1.1 .3 .1 1.5-.5 .9-2 1.3-4.9 5.3-.6 1.5-1.8 2-.2 2-.6 1 .1 2 1.3 3.5 1.2 2-.8 3.5-.7 1-1.5 1.2z" fill="#fee8d2"/><path d="M19 33.1l-.5 .3-2-.3-1 .4-1.5-.1-1-.5-1.4-1.4-1.3-.5-.8-1-1.9-1-1.1-2.3-.1-1.7-1-2 .3-1 .8-1 2-3.5 2.3-1 1-1.5 1.4-1 .7-1.5 3.6-1.6 1.5-.4 3 .6 1 .6 .7 1.3 .2 1.5-.5 2-1.9 1.7-.6 2.3 3.6 5.6 .5 1.4-.3 2-.7 1.2-2 1.3z" fill="#fdd5ad"/><path d="M16 32.2l-1.5 .3-.7-.5-1.2-1.5-1.6-1-1.1-3-1.2-1.5 .2-2.5-.6-2 1.9-2 1.3-.8 1.9-.7 .3-.5 1.8-1.2 .8-.8 .5-1.5 .7-.5 1.5-.7 1.5 0 1 .5 .5 .7-.1 2-.4 .3-1 0-.8 .7-1.3 .5 1.3 1.5 .1 3 2 3.5 .2 1.5-.3 1 1.3 1.1 .3 .9-.7 1-1.6 1.3-1 .1-1.5-.8-1 1zM14.5 19.5l.5-1-.5-1-.5 .3-.1 .7z" fill="#fdb97d"/><path d="M18.5 15.1l-.6-.6 .6-.9 .5-.1 .5 .5 0 .5zM15.5 31.2l-1 .2-.9-1.4-1.1-.4-.8-.6-.9-4-1-1.5-.2-1 .4-1.3 1-.3 1.5 .6 1.2 1.5 .8 .4 .5-.4 .5-1.5 1.9-1-.9-.9-.2-.6-.2-2.5 .4-.4 .4 .4 .4 1.5 .6 .5 .4 2 2.5 4.5-.3 .5-2 .5-.5 2-.5 .5-3 .2-.4 .3 .3 .5 1.2 .5 .2 1z" fill="#fd9c51"/><path d="M11 23l-.5 0 0-.5zM12.5 28.6l-.9-3.1 0-2 .9-.1 2 .7 .5 0 1-.4 .5-1.4 1.9 .2 .2 .5-.4 .5-1.9 1 .9 1.5 .1 1-.3 .4-.5 .4z" fill="#f87d29"/><path d="M16 27l-1.5 .3-1-.3-1-1.5 0-.9 2 .4 1.6 1.5z" fill="#e95e0d"/></g></g>
<polygon points="71.5,271.4 73.5,267.8 76.5,265.3 80.0,263.2 83.2,263.2 85.2,264.7 86.2,266.8 84.2,268.3 82.7,271.3 82.7,273.9 84.2,275.9 86.8,277.0 88.2,279.5 87.8,283.1 84.2,284.6 81.7,284.6 79.0,286.1 76.5,285.1 74.0,282.6 73.0,279.5 71.5,276.5" fill="none" stroke="#1a1a1a" stroke-width="1.2" stroke-linejoin="miter"/>
<line x1="83.40" y1="252.42" x2="83.40" y2="295.47" stroke="#a8a8a8" stroke-width="1"/><line x1="62.65" y1="273.94" x2="104.15" y2="273.94" stroke="#a8a8a8" stroke-width="1"/><rect x="62.65" y="252.42" width="41.50" height="43.05" fill="none" stroke="#5c5c5c" stroke-width="1.0"/>
<g clip-path="url(#cp0_2)"><g transform="translate(106.4 11.5)"><path d="M16 36l-1.5 .2-1-.5-1-.8-2-.5-2.5 .1-3-.9-5-2.7-.3-5.9 .3-15.7 2-.4 .3-.4 .1-.5-.4-1.5 4-.5 .5-1.5 .9-.5 1.1 0 2 .8 4-2.5 2 .3 2-.8 2 0 4.5 .7 2 .8 2-.7 2 1.3 3 1 1 .9 2-.1 2 .5 .3 .3 .2 1.7 1.5 .1 1 1 1 .3 .2 13.4-.2 1.1-1.1 .9 .5 1.5-.4 1-.5 .5-2 .8-1 1.2-2.4 1-.6 .7-2.5 .3-2 .7-2 1.6-2 .5-2.5-.1-3.5 1.2-1-.1-1.5-.7-1 .6z" fill="#f7fbff"/><path d="M22 31.5l-1.5 .4-2 .1-1-.4-1-1.2-1 1.1-1 .4-2.7-.9-1.3-.9-2 .8-.5-.1-.8-.8-.1-1-.6-.9-2-.6-1.5-.8 .1-2.2 1.2-1.5 0-.5-2.3-.7-.6-.8-.1-.5 1.7-2-.3-2 1.8-.5 .5-.5 1-2.7 1.4-1.3 5.6-2.9 1.5-.2 2 .1 2-.8 1.5-.2 5 .4 2-.5 1.3 1.1 .2 1.5 4.5 1.5 2 5 .6 0 1.4-2 .5 .3 0 3.2-.5 1.2-2 .4-1-.4-.5-.9-.5-.1-.4 .3 .3 3-.4 .8-.5 .2 .9 1 0 1.5-.4 .6-2.5 1.8-2 1-1 1.1-2 .4-1.4 1.1zM35 24.8l-.9-.3 .9-.3 .2 .3z" fill="#e1edf8"/><path d="M21.5 27.6l-1 .1-.5-.3-1.5-1.4-1 .1-1 .4-.2-2-.3-.5-1.5-.4-1 .3-.3 .6 .3 2.5-.5 .4-.5 .2-2.3-.6-.2-2 .6-2-2.1 0-1.4-.5 .3-1.5-.6-1.5-.1-1.5 .4-3 2.7-3 3.7-2 5.5-.7 4.5 1.4 1.5 .8 2 .2 2.3 1.8 .8 2 .4 3-.5 2-1 1-4 1.6-2 1.9-.3 2z" fill="#ccdff1"/><path d="M19.5 24.1l-1 .2-2-2.4-2 .6-2-2.2-2 1.2-1-.5-1.5-2.5-.2-2 .4-1 2.3-2.9 2-.1 .6-1 1.4-.8 2-.5 2-.1 2.3 .9 2.2 .3 2 1.6 2-.3 2 1.9 .6 2.5-.2 1.5-.5 1.5-.9 .7-3 .9-2.5 1.9-2 0z" fill="#abd0e6"/><path d="M19.5 23l-1 .2-.8-1.7-.7-.5-2.5 .3-.8-.8-1.2-.7-2 .7-.5-.5-.7-2 .2-.4 1-.3 .4-.8-.7-1.5 .3-1 .5-.5 1.6-.5 1.9-1.6 2-.1 2-.6 2 1 2.5 .3 2 2 1.5-.6 .5 .1 .6 .5 1.5 2.5-.4 2-.6 1-1.1 .6-2 .5-2.5 1.7-1-.1-1-.7-.4 1z" fill="#82bbdb"/><path d="M23 21.1l-.5 .2-1.5-.9-2.5-.8-1 .4-3 .4-1.5-.9-2-.4-.3-.6 .7-2-.4-2 3.5-2.4 2 .7 1-1.1 1-.4 2 1.3 2.1-.1 1.5 2 .9 .6 1-.6 1-.1 0 .6-.6 .5-.5 1 .5 .5 1.3 .5 .3 1-.3 .5-.7 .5-1-.1-1-1.5-.7 .6-.5 2z" fill="#58a1cf"/><path d="M23 20.2l-.5 .1-2.6-.8-.7-.5-.7-1.1-.9 1.1-1.1 .4-2 .1-2.5-.8-.3-.2 .3-2-.2-2 2.7-1.7 2 .7 .5-.1 1.5-1.5 1 .5 1 1.1 2 .1 2.5 2.9zM18.6 15l.6-.5-.7-.3-.3 .3zM27 18.9l-.8-.4 .3-.4 .5-.1 .3 .5z" fill="#3787c0"/><path d="M16.5 18.7l-2.5-.3-1.2-.4-.3-2.5 .4-1 1.6-.7 2.5 .7 .4 1.5-.1 1-.3 1.1zM23 19.1l-.5 .4-1.5-.2-1.4-.8-.2-2 1.1-1.8 2.5 .4 1.2 1.4z" fill="#1b69af"/><path d="M14.5 17.2l-.5-.7 .5-1.2 .5 .3 .3 .9zM22.5 18.5l-1.5 .2-.6-.2 .1-1.2 .5-1 1.5-.6 1 .8z" fill="#084d96"/></g></g>
<polygon points="114.9,26.1 120.3,22.2 127.6,22.2 129.0,23.7 134.4,24.7 135.4,28.1 134.9,31.0 130.0,32.0 127.6,36.4 125.6,34.9 123.7,32.5 116.4,32.0 114.9,30.5" fill="none" stroke="#f7a41f" stroke-width="1.05" stroke-linejoin="miter"/>
<line x1="127.15" y1="11.47" x2="127.15" y2="53.77" stroke="#a8a8a8" stroke-width="1"/><line x1="106.40" y1="32.62" x2="147.90" y2="32.62" stroke="#a8a8a8" stroke-width="1"/><rect x="106.40" y="11.47" width="41.50" height="42.30" fill="none" stroke="#5c5c5c" stroke-width="1.0"/>
<g clip-path="url(#cp1_2)"><g transform="translate(106.4 57.1)"><path d="M21.5 40.1l-1 .1-2-.7-2 .5-6-.5-4-1.8-2.5 0-4-3.7-.3-13.5 .3-12.9 2-1.2 4-1.8 2.5-.4 2-.8 4.5-.5 8-.3 4 .1 2 .5 4 .4 2 1.2 4.5 1.1 2 1.4 1.5 .2 .4 11-.4 13.2-2 2.3-2 .8-2 2.1-2 .2-2 1.4-2 .7-2-.2z" fill="#f7fbff"/><path d="M22.5 32.5l-4.5-.4-.5-.3-.3-.8-.7-.4-.8 .4-.2 .8-.5 .5-.5 .1-1.5-.7-2.5-1.7-1.5-1.9-1.5-.7-1.4-2.4-2.5-2-.2-.5 .3-5 1-3 1.3-1.7 2.5-1.4 2-1.6 4-1 2 0 4.5-1.5 3 0 3 .5 3 .8 3 1.7 2 .7 1 1 2.5 1.2 1 1.3 2.7 2 .8 .9 0 2.6-3.5 4.3-2 1.6-.5 .2-2-.3-4.5 2.3-.7 .9-.5 2-.3 .4-2.5 .1z" fill="#e1edf8"/><path d="M31.5 23.1l-4.5-.2-1-.9-1-.3-2.5 .9-2 .1-.3-.2-.4-1.5-.5-.5-.8-.2-2 1.6-2-1.1-2 .1-2.5-.5-1-.5-.9-.9-.6-1.5 .1-1.5 .9-1.5 2-1.9 2-.3 1.5-.8 4.5-1.6 4.5-.7 6 1.4 3.5 1.5 2.5 2.1 2 .4 .5 .4 1.2 1.5 1.1 2-1.3 2.7-1 1.1-1.5 .5-3-.2z" fill="#ccdff1"/><path d="M37 21l-1 .4-1.5 0-1.5-.5-2-1.1-2 .1-2-.6-4-.2-2.5-.9-4 .8-5-.1-1.7-.9-.7-1.5 .4-1 2-1.7 7-2.7 2-.3 2.5-.7 8 2.3 2 2.3 2 1 2 .4 .5 .4 .7 1.5 0 1-.4 1z" fill="#abd0e6"/><path d="M36 20.2l-1 .1-4-2.4-2 0-.5-.3-1.5-.1-2-1.1-6.5 .1-2 .9-2.5 .2-2.5-.1-.8-.5-.3-.5 .6-1 2.5-1.5 3-1.3 2-.5 2 0 2.5-1.2 7.5 2.5 2.5 2.9 2 .9 1.5 .3 .4 .4 0 1z" fill="#82bbdb"/><path d="M15 16l-.7 0-.2-.5 .3-.5 2.1-1.1 2-.4 2.5-.1 2.5-.9 1.5 .1 1.3 .9 0 .5-.4 .5-.9 .5-6.5 0-2 .8z" fill="#58a1cf"/></g></g>
<polygon points="112.8,75.2 118.6,70.0 123.8,69.2 125.8,67.5 133.0,67.5 136.9,70.0 142.7,73.7 147.0,74.3 147.9,76.5 146.0,77.8 144.0,79.8 139.5,79.8 138.2,77.8 129.1,77.5 127.8,75.9 118.6,75.7 114.1,77.5" fill="none" stroke="#f7a41f" stroke-width="1.05" stroke-linejoin="miter"/>
<ellipse cx="133.6" cy="90.8" rx="1.5" ry="1.5" fill="none" stroke="#f7a41f" stroke-width="1.3"/>
<line x1="127.15" y1="57.15" x2="127.15" y2="99.56" stroke="#a8a8a8" stroke-width="1"/><line x1="106.40" y1="78.35" x2="147.90" y2="78.35" stroke="#a8a8a8" stroke-width="1"/><rect x="106.40" y="57.15" width="41.50" height="42.41" fill="none" stroke="#5c5c5c" stroke-width="1.0"/>
<g clip-path="url(#cp2_2)"><g transform="translate(106.4 102.5)"><path d="M21.5 43l-1-.2-.7-2.8-.3-.2-1-.1-1 .5-1 1-2 .4-4.5-1.8-.5-.8-.6-4-.9-.4-3.5 .3-.5-.2-.5-1.7-2.8-2-.2-1.1-.5-.5 0-.7 1.5-.4 .8-1.3-2.3-1.5-.1-.5 .3-4-.3-2 .1-2.5 1.1-2-.2-.5-.9-.6-.1-.9 .1-3.4 .6-.6 0-.5-.6-.6 0-1.8 .7-.6 .5-1 3.3-1.2 1.5-1.7 1-.6 .4-.5 .6-.1 1.2 .1 .5 1.5 .8 .5 .6-.5 .2-1.5 .7-.1 12.5-.2 8.9 .3 1.6 .7 3 .4 1.5 1.5 .5-.8 1-.5 2 .6 0 .7-1.6 1.4 1.6 1.4 .1 .6 .2 12.5-.3 15.3-4.4 1.2 0 .5 1.3 1.5-.3 .5-.6 .1-2-.5-1.2 .9-.8 1.6-2-1.7-2-.6-.8 .7-1.2 .6-2-.1-.8 .5-.2 .7 .5 .7 .8 .6 .2 .5-3 .3-2 1.1zM2.1 12.5l-.1-2-.1 1.5zM14.7 31.5l.2-.5-.4-.4-1 .4 1 .8zM6.5 37.8l-.5 0-.8-.8 .1-1 .7-.6 .8 .6 .3 1zM14.5 38l0-.9-.2 .4zM31 41.8l-.9-.3 .3-.5 .6-.2 .3 .2 .1 .5z" fill="#f7fbff"/><path d="M25 33.1l-1-.4-.8-1.7-.7-.4-2 1.3-2 .1-2-.4-1-1.6-2.2-1 0-.5-.1-1.5 2.3-1 0-1.5-.4-1-.6-.3-2 .6-.8-.3-.3-2 .1-.5 .5 .4 .7-.4 .1-.5-.3-.4-.9 .4-.1 .5-.5 .4-1.5-.3-.5-.6 1.5-1.4 2-2.6 .5-4 1.5-2 1.1-2 .3-2 .6-.2 1 1.1 1 .5 .5-.4 1.4-3.5 .1-1.7 .1 1.7 .9 1 1 .5 2.5-.1 .6-.4 .5-1.5 .9-.4 .8 .9-.8 2 .1 .5 1.4 .7 .5 .1 .6-.3 1.4-2 1.3 .5 2.6 3-.2 1-.7 1 .5 2 .5 .8 .5 0 .4-.8 0-2.5 .4-1 2.1-1 .7 0 .4 .5-1.5 .6-.2 .9 .2 1 1.7 1.5-.7 .7-2.3 1.3 .8 1 1.3 2.5 .4 2.5-2.2 1.2-1.5-.4-.5 .4-.2 .8 .2 .8 1.8 .7 .2 .5-.1 1-.4 .5-2 .8-1 2.2-.5 .4-2-.8-2 .1-2-1.1-.5 .3-.4 1.1 .5 2-.6 1.4zM11 15.2l-1 .1-.8-.3-1-2.5 2.3-.7 1.3 .7-.1 2zM41.5 18.8l-.5 .1-.6-.4 .6-.4 .5 .1zM10.5 25.1l-.4-.6 .4-.2 .4 .2zM17.1 27l-.6-.5-.5 .1-.2 .4 .7 .3zM29 34.4l-1.3-3.4 .5-1 .8-.6 .5 .7 .1 1.9z" fill="#e1edf8"/><path d="M27 25.3l-2 .2-1.8-.5-.3-.5 .3-.5 1.8-1-.4-.5-1.6 0-1 1.4-1.5 0-.9-.4-.5-1-1.3-1-.5-1 .7-1.2 2-.8 .5-.7 .5-1.4-.5-.8-1.5-.7-.5-.1-2 .8-1-.5-.4-.6 1.4-.8 2-.1 .3-1.1 1.2-.8 3-.6 1 .4 .5 .6 1-.9 2 0 .6 .3 .9 1.7 2-.1 .9 1.4-.2 2 .6 3 .2 .4 .5 .1 .2 .5 0 2-.2 .4-.6-.4-.4-2-1-.3-.7 .8-.2 1.5-.3 .5-1.8 1zM21 27.1l-.6-.1 .1-.3z" fill="#ccdff1"/><path d="M27.5 13.6l-.5 .3-1-.3-.2-1.1 .7-.6 .8 .1 .4 .5zM26 21.3l-2.5-.1-1-.2-.5-.4-.2-5.1 .2-1 .5-.5 1 .1 3 .9 2-.6 1 .1 .2 4-.7 .8-2 .7zM19 21l-.5-.1 0-.6 .9 .2zM21 22.8l-.5 0 0-.8 .5 0 .2 .5z" fill="#abd0e6"/><path d="M25.5 20.2l-.5 .3-1-.2-.8-.8-.4-2 .2-1.3 .5 .5 1 .2 1-.2 1.5-.8 1 .6-.3 1-.7 .4-.8 1.6z" fill="#82bbdb"/><path d="M25 19.8l-.9-.3-.5-1 .4-.8 .5-.2 1 0 .5 .6-.1 .9z" fill="#58a1cf"/><path d="M25 19.2l-.5-.1-.3-.6 .3-.4 .5-.1 .5 .5z" fill="#3787c0"/></g></g>
<polygon points="116.7,110.8 118.7,108.3 121.1,107.8 123.1,106.3 125.0,108.3 124.0,110.2 120.1,113.6 118.2,114.1 116.7,112.8" fill="none" stroke="#f7a41f" stroke-width="1.05" stroke-linejoin="miter"/>
<polygon points="133.8,115.1 135.3,112.2 137.2,111.2 139.2,112.8 141.6,114.6 141.1,116.6 137.7,117.5 135.7,118.0 134.3,117.0" fill="none" stroke="#f7a41f" stroke-width="1.05" stroke-linejoin="miter"/>
<polygon points="131.8,120.5 133.3,119.0 136.7,119.0 139.6,119.0 142.6,120.0 144.0,121.4 142.1,122.9 139.6,124.4 136.7,124.9 134.3,126.8 132.8,127.3 131.4,124.4" fill="none" stroke="#f7a41f" stroke-width="1.05" stroke-linejoin="miter"/>
<polygon points="115.3,123.4 116.7,121.4 118.2,123.4 116.7,125.3" fill="none" stroke="#f7a41f" stroke-width="1.05" stroke-linejoin="miter"/>
<polygon points="119.4,132.1 120.4,130.6 123.9,130.3 125.0,132.1 123.9,133.8 120.4,133.8" fill="none" stroke="#f7a41f" stroke-width="1.05" stroke-linejoin="miter"/>
<line x1="127.15" y1="102.55" x2="127.15" y2="144.55" stroke="#a8a8a8" stroke-width="1"/><line x1="106.40" y1="123.55" x2="147.90" y2="123.55" stroke="#a8a8a8" stroke-width="1"/><rect x="106.40" y="102.55" width="41.50" height="42.00" fill="none" stroke="#5c5c5c" stroke-width="1.0"/>
<g clip-path="url(#cp3_2)"><g transform="translate(106.4 147.4)"><path d="M43 43l-26.5 .4-7.9-.4-.4-1.5-1.2-.9-.5-1.1 .7-2.5-.2-2 .4-2-.9-.8-2.4-1.2 1.1-2 .4-2.5 1.5-1.5-.1-.7-1.7-1.3 0-.5 1.3-1.5 .2-.5-1-1-.3-1 1.2-.5 .6-1 0-.5-.9-2 .3-.5 1.3-1.4 2.5-.2 .8-1.9 .2-2.5 1.2-1.5 1.8-1 .5 .1 1.5 1.6 .7-.7 0-.5-1.2-1.2-.3-.8-1.7-1-.3-.5-.1-.5 .8-1 2.1 .6 2-.5 2 0 1-1.1 3.5-.2 10.7 .2 1.8 2.3 2 1.1 1-.2 .5 .3-.2 .5 2.2 1.1 .3 2.9 .1 4.5zM27.4 2l-.4-.3-.3 .3zM41 3.5l-.3-.5 0-1 .8-.4 0 1.2z" fill="#f7fbff"/><path d="M17 43.1l-2-.1-4-2.1-1.4-1.4-.2-1.5 .2-1 .3-.5 2.6-1.7 1-.3 .5-.5 .5-1.5 1-.4 3.5-.5 .9-.6-.4-2-.5-.8-1.5-1.7-1.5-.9-.5-.6 .4-2 2-2 .8-2 0-.5-1.2-1-.5-1 .5-.5 1.5-.7 2.5-1.8 .4-.5 .1-1-.8-1.5 .4-.5 1.4-.6 2 1.3 .9-.7 .6-1.5 .5-.4 2 1.1 .8-3.2 1.2-1 1.4 .5 .6 .7 .9-.7 1.1-.4 2 .6 2.5 0 2 2 1.2 .8 .3 3.5 0 1.1-.6 .9-.2 1 .1 1.5 .7 1.4 0 1.3-1.1 1.3 .3 2-.7 6.1-1.5 4.8-2 1.2-2.5 3.4-2.5 1.2-2 .3-3 1-1 .8-1-.9-1-.4-2.5 1.4-2-.7-3 2.3zM31.5 10.5l-.5-.4-.7 .4 .7 .3zM15.5 12.6l-1 .1-.2-.2 .2-.2 1.2 .2zM29.6 14.5l-.6-.3-.6 .3 .6 .4zM27.7 23l.2-.5-.9-.9-1.2 .9-.2 .5 1.4 .3zM31.3 23l.3-.5-.6-1-.7 1 .2 .5 .5 .2z" fill="#e1edf8"/><path d="M38 15.3l-1 .2-1-.3-1.8-2.7 0-3 .8-1.7 .5 .1 .5 .6 1 2.1 .5-.3 .5-1 1-.5 1 .4 .6 .8 .1 .5-.6 1-1.2 1zM37 21l-.6-.5 0-2 .6-.7 1-.1 .5 .3 .2 .5-1.2 2.2zM25 21l-.5-.1-.2-.4 .7-.7 .3 .7zM22.5 38.6l-2-.5-1.5 .3-2.5 0-.4-.9 .4-1.7 4.5-1.8 1.5-1.5 2.5-.8 1.5-1.4 2.8-.8 .4-.5-.1-.5-.8-1.5 .3-.5 .9-.5 2.1-.5 .9-.7 .8 1.2 1.2 .5 2.5-1.8 1.5 .7 .4 1.6-1.9 2.8-2.5 .2-.5 .6-1.5 .8-1 2-.5 .5-.5 .3-2-.2-.5 .4-.5 .6 0 1.5-.5 .3z" fill="#ccdff1"/><path d="M31.5 30.1l-.5 .1-.2-.2 .2-1.7 2-.1 .5 .4 .2 .4-.4 .5zM31 33.1l-3-.9 0-1.2 1-.4 1 .1 1 1.3zM27 33.6l-.4-.6 .4-.3 .3 .3z" fill="#abd0e6"/></g></g>
<polygon points="133.8,155.8 136.7,152.3 143.5,151.9 147.5,154.3 148.0,154.9 148.0,161.6 145.5,160.6 137.7,160.1 135.3,158.2" fill="none" stroke="#f7a41f" stroke-width="1.05" stroke-linejoin="miter"/>
<polygon points="114.8,183.6 116.7,181.1 119.2,181.6 121.6,183.6 125.0,182.1 127.0,181.1 130.4,178.7 133.8,177.2 138.2,177.7 139.2,179.7 136.7,180.6 132.8,182.1 129.4,185.5 126.5,187.5 124.5,188.9 119.2,188.9 115.8,186.5" fill="none" stroke="#f7a41f" stroke-width="1.05" stroke-linejoin="miter"/>
<polygon points="121.1,166.5 125.5,162.1 128.4,165.0 127.4,168.0 125.0,170.4" fill="none" stroke="#f7a41f" stroke-width="1.05" stroke-linejoin="miter"/>
<polygon points="128.9,164.5 131.4,162.6 133.3,164.0 130.9,166.5" fill="none" stroke="#f7a41f" stroke-width="1.05" stroke-linejoin="miter"/>
<polygon points="140.1,166.5 141.6,164.5 144.5,164.0 147.0,165.5 146.5,168.9 143.5,170.4 141.1,169.4" fill="none" stroke="#f7a41f" stroke-width="1.05" stroke-linejoin="miter"/>
<line x1="127.15" y1="147.40" x2="127.15" y2="190.00" stroke="#a8a8a8" stroke-width="1"/><line x1="106.40" y1="168.70" x2="147.90" y2="168.70" stroke="#a8a8a8" stroke-width="1"/><rect x="106.40" y="147.40" width="41.50" height="42.60" fill="none" stroke="#5c5c5c" stroke-width="1.0"/>
<g clip-path="url(#cp4_2)"><g transform="translate(106.4 207.5)"><path d="M16.5 35.1l-2.5 .1-4.5-1.9-1.7-1.3-1.4-3-.2-2 .2-4-1.1-4.5-.8-6 .1-2 .6-2.5 .4-4 1.4-2.4 2.2-1.6 11.8-.3 6.4 .3 .9 3.5 .3 3-2.4 10-1.7 4.5 .5 3 1.5 3-.4 3-.6 1.2-1 .9z" fill="#fff5eb"/><path d="M16 33.6l-1.5 .2-3.5-1.5-1.9-1.3-.5-1-.7-3.5 .8-5.5-.8-4.5-.9-2 .7-2-.9-2 .9-2 0-2.5 .6-1.5 1.2-1.4 4-1.4 1-.2 2 .5 4 .2 2-.2 1 .1 1 .5 1.1 1.9 .2 2-.8 3.5-.2 2.5-.9 2-1.8 7 .6 2 2 3.5 0 2-.7 1.4-1 .8z" fill="#fee8d2"/><path d="M17 32.1l-2.5 .2-2.5-1.1-1.8-1.7-.7-2 .1-1.5 .6-1 .4-2 .9-.9 1-.5 .4-1.1-.4-.8-1-.4-1-.9-.8-1.9 0-2.5 .3-2 .8-2 .1-3.5 .3-.5 .8-.4 4.5-.4 2.5 .2 1 .5 1 1 .6 .1 .8 .5 .4 1.5 0 1.5-1.6 4-1.1 2 .6 2-1.4 2 .8 2 3.2 4 .1 1.5-.7 1.5-1.1 1-1.6 .8z" fill="#fdd5ad"/><path d="M16.5 10.6l-.3-.1 .3-.2 .3 .2zM12.5 16.6l-.3-.1 .3-.3 .4 .3zM18.5 31.1l-2.5 .2-2.5-.9-.6-.4-1.9-2.5 0-1 .5-2 .5-.7 2.5-1.8 2.5 0 1.5 .5 3 2.8 .9 1.2 .2 1-.5 1-1.4 1.5z" fill="#fdb97d"/><path d="M18 30.6l-2 0-2.4-1.6-.6-1-.7-2-.1-1 .3-.4 2-1.1 2.5 0 1.5 .4 2.5 1.8 .9 1.3-.3 1-2.1 2z" fill="#fd9c51"/><path d="M17.5 30.1l-1.5-.2-1.7-1.4-.7-2 .1-1.5 1.3-.5 3 .3 2 .8 1 .9 .2 .5-.4 1-1.8 1.6z" fill="#f87d29"/><path d="M17.5 29.5l-1 .1-1.4-1.1-.5-1.5 .4-1.3 1-.3 2 .1 1.5 .5 1 .9-1.1 1.6z" fill="#e95e0d"/><path d="M17 29l-.5 0-.9-1-.3-1 .2-.5 .9-.5 1.1 0 2 1-1.1 1.5z" fill="#cd4401"/><path d="M17.5 28l-1 .2-.2-.2-.2-1 .4-.4 1.4 .4 .1 .5z" fill="#a13403"/></g></g>
<polygon points="114.8,234.3 115.7,231.4 118.2,230.6 121.1,230.6 123.1,229.2 125.0,230.6 127.0,233.3 131.4,236.7 129.9,238.7 127.5,237.2 125.5,238.7 123.1,241.1 121.1,241.3 119.2,239.7 116.2,239.2 114.8,237.2" fill="none" stroke="#1a1a1a" stroke-width="1.2" stroke-linejoin="miter"/>
<line x1="127.15" y1="207.47" x2="127.15" y2="249.82" stroke="#a8a8a8" stroke-width="1"/><line x1="106.40" y1="228.65" x2="147.90" y2="228.65" stroke="#a8a8a8" stroke-width="1"/><rect x="106.40" y="207.47" width="41.50" height="42.35" fill="none" stroke="#5c5c5c" stroke-width="1.0"/>
<g clip-path="url(#cp5_2)"><g transform="translate(106.4 252.4)"><path d="M18.5 40.2l-2-.2-4 .4-3.5-1-3.5-1.4-3.4-3-1.3-4-.6-3 .3-5-.3-4 1.5-6.5 1.6-2.5 2.7-2.4 2.5-1.7 2-.4 1.4-1.5 2.6-1.7 1 .8 1 1.7 2-1.3 2 .3 2.5-.2 .8-.6 1.2-1.4 2-.4 1.3-1.2 6.2-.3 4 .3 .7 3-.1 1.5-3.5 4.5-.6 1.3-2 1.2-.6 1-.3 5-.4 1 .1 .5 1.2 1.5 .2 4-.2 .8-2.6 3.7-.4 2 1.3 2-.3 .4-2 .3-.5 .3-2 2-.7 1.5-.8 .6-2 .5-2.5-.3z" fill="#fff5eb"/><path d="M17.5 35.6l-3 .3-2-1-3-.8-3-.1-1.4-1-1.6-4.5-.6-5 .1-2 1.3-5 2.2-2.6 2 .1 1.5-1.5 2.5-1.6 6-2.2 2 .4 1.5-.4 4.4-2.2 1.2-2 1.4-1.1 4.5-2.1 1-.1 .8 .3 1 1 0 1.5-2 1.5-4.3 5.3-1.5 1.3-1 2.4-1 1-1.5 3.3-.9 1.2 .1 1 2.3 4.5 .7 2 .2 1.5-.4 1-1.5 1.9-2.5 1.7-2.5 1.2z" fill="#fee8d2"/><path d="M18 34.1l-2 .4-1.5-.3-3.5-2-2.7-.7-2.3-1.5-.9-1-.6-6.5 .8-2.5 2.5-3.5 3-2 1.7-1.8 2-.7 1-.9 3-1.2 2.5 .5 3.5 0-.5 2.1 .5 2-.2 1-.3 1-2 1.5-.3 1 .7 2.5 1.7 2.5 1.3 2.5 .4 2.5-1.3 2.2-3.5 2z" fill="#fdd5ad"/><path d="M17 33.6l-1.5-.1-2.1-1-1.4-1.2-1.5-.3-1.1-1.5-.4-2.5-.4-.5-2.1-.6-.5-.4-.2-1 .8-2 0-2 2.5-3.5 4.4-3.2 1-.4 1.5-1.7 2.5-1 .5 0 3 .8 .8 .5 .2 .5 0 1-.6 1 .1 1.5-1.4 2-.1 1.5 .6 2.5 2.5 4 .3 2-.4 2-.5 .6-3 1.8zM6.5 29l0-.4 .3 .4z" fill="#fdb97d"/><path d="M16.5 33l-2.5-1-1.5-1.4-1.5-.7-1.2-1.9-.5-1.5-.8-.8-1.5-.7 0-.5 1-1.7 .2-2.3 1.8-3 2-1.6 2.5-1 2-2.8 2.5-.5 2.8 .9 .2 .5-.5 2.5-1 2-.4 2.5 1 3.5-.1 1.1 1.5 .5 .5 .5 .5 1.4 .1 1-.5 1.5-.6 .5-2 1.2z" fill="#fd9c51"/><path d="M15 31.5l-.5 0-3-2.1-1-1.4-1-2.3-1.2-.7-.2-.5 1.1-3 1.4-1-.6-1.5 .5-.8 2-1.3 2 .3 1-.3 .4-.4 .5-3 .6-.5 3-.1 .5 .4 0 .7-.9 2.5-.1 2-1.5 2.1 .5 .9 1 .5 .4 .5-.1 2.5 .3 .5 .4 .6 1.5 .6 .4 .3-.1 .5-.4 .5-3.4 .9-.3 1.6-1.7 .3-1 .7zM14.7 21l.3-.5-.5-.6-.5 .6 .3 .5z" fill="#f87d29"/><path d="M15 30.6l-.5 .1-2.7-1.7-1.3-2.5-.1-1.5-1-1 .1-1.5 .5-.7 1.4-.8 .4-1.5 .7-.4 .5 .4 .5 1.9 .5 .2 1.3-.1 .7-1.5 .5-.3 .5 .3 .1 1.5-1 1-.1 2 .3 .5 .7 0 .5-.5 .2-2 .8-.1 .6 .6-.1 2 .2 2-.7 .6-1 2-.5 .4zM12.9 23l0-.5-.3-.5-.6 .2 0 .9 .5 .4z" fill="#e95e0d"/><path d="M10.5 23.6l-.5-.6 .5-.7 .5 .7zM16.5 29.6l-2 .1-1.9-.7-.3-.5-.5-3.5 1.3-1 .7-1.5 .7-.3 .7 .3 .1 .5-.2 2 2.4 .9 .5 .6 .1 .5-1 2z" fill="#cd4401"/><path d="M16.5 28.9l-1-.2-.6-.7-.3-1 .4-.7 1.5-.1 .6 .3 .3 .5z" fill="#a13403"/><path d="M16.5 27.3l-.3-.3 .3-.1z" fill="#7f2704"/></g></g>
<polygon points="115.2,271.4 117.2,267.8 120.3,265.3 123.8,263.2 126.9,263.2 128.9,264.7 129.9,266.8 127.9,268.3 126.4,271.3 126.4,273.9 127.9,275.9 130.5,277.0 132.0,279.5 131.5,283.1 127.9,284.6 125.4,284.6 122.8,286.1 120.3,285.1 117.7,282.6 116.7,279.5 115.2,276.5" fill="none" stroke="#1a1a1a" stroke-width="1.2" stroke-linejoin="miter"/>
<line x1="127.15" y1="252.42" x2="127.15" y2="295.47" stroke="#a8a8a8" stroke-width="1"/><line x1="106.40" y1="273.94" x2="147.90" y2="273.94" stroke="#a8a8a8" stroke-width="1"/><rect x="106.40" y="252.42" width="41.50" height="43.05" fill="none" stroke="#5c5c5c" stroke-width="1.0"/>
<g clip-path="url(#cp0_3)"><g transform="translate(150.2 11.5)"><path d="M23.5 35.6l-1 .2-4-.9-6 .9-2-1.1-2.5-1-3.5-.2-4.2-2.5-.1-1 .3-1-.5-.3-.3-3.7 .3-15.5 .5 .1 .5 .9 1 .7 .5-.7 0-.6-1.1-1.4 .6-.7 2 .5 1.3-.3-.3-.5-.1-1 1.1-1.6 1 .1 1 .9 .5 .1 .5-.6 2-.9 1.5-1.3 4 .1 3-.9 1.5 .2 .5 .4 .5 1.2 .5 .3 .5 0 .6-.5 .4-1 .5-.4 .5 .1 4 1.9 2-.5 2 1.4 1.3 .5 2.7 .7 2-.2 .5 .3 1.1 2.2 1.9 1.5 .5 1.5 .1 2.5 0 8.5-.3 2.5-1.3 1.5-2 .7-2 2.4-2.5 .6-.7 1.3-.8 .7-.5 .3-2-.2-2 1.7-2-.5-.5 .1z" fill="#f7fbff"/><path d="M19 32.2l-.5 .1-2-1-2 .1-2-1.3-2 .6-.5-.2-1-1.6-1.5-1.3-1-1.6-1.9-1.5-1-1.5 .8-2-.9-2.5 1.4-2-.1-2 2.2-3 2.9-1 1.9-2 2.7-.7 2 .1 2-.2 2 .3 2-.4 2.5 1.5 2-.2 2 .7 2 .3 .3 .6-.7 2 .4 .5 2 .2 .5 .3 2.1 3 .8 4-.4 1.3-1.5 1.5-.9 2.2-.6 .7-1.5-.5-.5-.9-2-.2-1 1.4-1.2 1 .7 1.5 0 .5-.5 .4-1 0-1-.6-.5 .2-.5 .6-3.5 1.1zM37 15.2l-.5-.7 .5-.2 .5 .1 0 .4zM2.5 24.7l-.5-.2 .5-.3 .5 .3z" fill="#e1edf8"/><path d="M23 27.1l-2.5 .3-2-1.6-2 1.7-2-2.1-.9-1.4-1.1-.6-1.1 .6-.9 .9-.5-.2-1.1-2.7-1.4-1.5-.8-3 .1-2.5 1.1-2.5 2.6-.9 3.5-2 4.5-.6 2 .5 2 .2 2.5 1 2 .2 1.5 1.3 2.5 4.3-1.3 3-.9 1-.5 2-1.3 1-2.5 .9zM15 29.1l-.5 .1-.4-.2 .4-.8 .6 .3z" fill="#ccdff1"/><path d="M21.5 25.6l-1 .1-.5-.3-1.5-1.7-.7-.2-1.3-1.3-2 .3-2-.3-1.5 .1-.4-.3-.1-1-.5-.5-1-.4-.4-.6-.8-2.5 0-2.5 .7-1.2 2-.4 .5-.5 3.5-1.9 4-.9 7.5 2.4 2 1.2 .6 .8 1 2.5-.6 2.2-1.1 .8-1.4 2.2-2 1.3z" fill="#abd0e6"/><path d="M21 24.7l-.7-.2-1.8-2.1-1.8-1.4-2.2 .7-2-.3-2.7-1.9-1.1-2-.2-1.5 .2-1 1.8-.1 .4-.4 .3-1 .8-.9 2.5-.7 2.6-1.4 1.4-.3 8.9 3.3 .7 1 .5 1.5-.2 1.5-2.2 1 .1 1.5-.4 1z" fill="#82bbdb"/><path d="M21.5 23.2l-1 .2-2-2.3-1.5-.8-.5-.1-2 .8-2-.4-2.7-2.1-.7-1.5 .1-1 1.8-1 .9-1.5 .6-.5 4-.2 .5-.3 .5-1.1 1-.6 4.5 1.9 4 1.1 .6 .7 .3 1 .1 1-.2 .5-2.4 1.5 .1 1.5-.5 1-2 .2-.5 1.3z" fill="#58a1cf"/><path d="M21 21.8l-.5 0-1.2-1.3-1.3-.6-1.5-.4-2 .6-1.2-.6-.8-1.3-2 .2-.7-.9-.2-1 1.9-1.4 1-1.5 2 .2 2-.5 1.4-.8 .6-.8 2.5 .7 4 2 1-.1 1 .2 .4 2-2.9 1.8-.7-.3-.3-.4-.1-1.1-.4-.2-.9 .2 .2 2z" fill="#3787c0"/><path d="M20.5 19.2l-5-.4-1.5-.5-.9-.8-.9-2 0-1 .3-.3 2 .4 4.5-1.9 1.5 .1 2.5 1.2 .7 .5-.2 .7-3 1.2-2.2 .1 2.2 .6 .4 1.4zM11 17.4l-.5 .1-.4-1 .4-.3 1 .1 0 .7z" fill="#1b69af"/><path d="M15.5 17.7l-1 .2-.5-.4-.5-1 .3-1 2-.5 .5-.5 2.7-1.1 1.5 .2 2.1 .9-2.1 1.1-4 0-.5 1.8z" fill="#084d96"/><path d="M20 14.6l-1 .1-.9-.2 .9-.2 1.4 .2zM14.5 17.1l-.4-.6 .4-.6 .7 .6z" fill="#08306b"/></g></g>
<polygon points="158.7,26.1 164.1,22.2 171.3,22.2 172.8,23.7 178.2,24.7 179.2,28.1 178.7,31.0 173.8,32.0 171.3,36.4 169.3,34.9 167.5,32.5 160.2,32.0 158.7,30.5" fill="none" stroke="#f7a41f" stroke-width="1.05" stroke-linejoin="miter"/>
<line x1="170.90" y1="11.47" x2="170.90" y2="53.77" stroke="#a8a8a8" stroke-width="1"/><line x1="150.15" y1="32.62" x2="191.65" y2="32.62" stroke="#a8a8a8" stroke-width="1"/><rect x="150.15" y="11.47" width="41.50" height="42.30" fill="none" stroke="#5c5c5c" stroke-width="1.0"/>
<g clip-path="url(#cp1_3)"><g transform="translate(150.2 57.1)"><path d="M19.5 40.6l-1 .3-.9-.9-1.1-.5-4.5-.1-2-.3-8.1-4.1-1.9-2-.3-12.5 .3-13 2.1-.5 3.9-2.4 2.5-.2 6-1.4 9-.2 8 1.1 3.5 1.3 2 .2 2 1.2 2.8 .9 1.2 .7 .4 11.3-.4 12.9-5.5 3.6-2 .8-2.5 1.6-1.3 .6-.7 .2-4-.3-4 1.4-2.5-.1z" fill="#f7fbff"/><path d="M22 32l-1.5 .4-4-1-2-.1-.7-.3-.3-.6-2.3-.9-2.7-2.2-.4-2.3-1.6-1.2-1.7-2.8-.1-2.5-.9-2 1.6-2 .6-2.1 7.5-3.4 3-1.1 6.5-.5 4 .7 2-.1 2 1.7 2 0 2.5 1.8 2 .6 3.5 2.8 1.9 3.1 .1 2.1-.9 1.4-1.6 1.5-1 1.6-2.5 1.4-4 .4-1.5 1.4-1.5 .8-1.5 1.4zM14.6 30l.5-1-.6-.7-.7 .7 .2 .8zM21.1 29l-.7 0 .1 .2z" fill="#e1edf8"/><path d="M35.5 23l-2.5-.1-2-.9-2 1.2-2-1.5-4.5 1-1.1-.2-1.4-1.3-1.5-.2-2-.7-2 .6-4.5-.5-1-.6-.9-1.8-.3-1 .1-1.5 .4-1 2.2-2 2-.7 2-1.3 2-.2 2-.6 4-.4 5.5 1 3.5 1.3 1.5 1 3 1.3 3.2 3.1 .6 2-.4 1.5-1.9 1.9z" fill="#ccdff1"/><path d="M35.5 21.6l-6.5-1.6-2-.8-2.5 .4-1.5-1.5-2.5 .8-2-.4-5.5 .5-2 0-.5-.2-.8-.8-.4-1 .1-1 2.1-2.5 3.5-1.8 4-.9 3.5-.4 3.5 .6 5 1.4 2 1.3 2 .7 .5 .5 2.2 2.6 .4 1.5-.2 1-.4 .6-1 .7z" fill="#abd0e6"/><path d="M36 20.3l-1 .2-4-1.5-1-.6-1.2-1.9-1.8-.6-4 0-2.5 1.3-2-.7-1.9 0-1.8 1-2.3 .5-1.5-.3-.7-1.2 .5-1 1.2-1.3 3.6-1.7 7.4-1.2 7.5 1.8 3.2 1.9 2.9 3 .1 1.5z" fill="#82bbdb"/><path d="M20.5 15.5l-4.5-.4-.2-.1 .1-1 1.1-.7 3.5-.3 2.5-.7 2.5 .7 .9 1-.3 .5-.6 .2-2.5-.1zM35.5 19.2l-.5 .2-2-1.3-2-.9-1.5-2-1.7-.7 .2-.4 1-.2 2 .6 1.1 1 .9 1.3 2.5 1.2 .2 .5zM12.5 17.1l-.6-.1-.5-.5 1-1.5 1 0 .8 .5 .1 .5-.3 .5z" fill="#58a1cf"/></g></g>
<polygon points="156.6,75.2 162.3,70.0 167.6,69.2 169.6,67.5 176.8,67.5 180.7,70.0 186.4,73.7 190.8,74.3 191.7,76.5 189.8,77.8 187.8,79.8 183.2,79.8 182.0,77.8 172.8,77.5 171.6,75.9 162.3,75.7 157.8,77.5" fill="none" stroke="#f7a41f" stroke-width="1.05" stroke-linejoin="miter"/>
<ellipse cx="177.3" cy="90.8" rx="1.5" ry="1.5" fill="none" stroke="#f7a41f" stroke-width="1.3"/>
<line x1="170.90" y1="57.15" x2="170.90" y2="99.56" stroke="#a8a8a8" stroke-width="1"/><line x1="150.15" y1="78.35" x2="191.65" y2="78.35" stroke="#a8a8a8" stroke-width="1"/><rect x="150.15" y="57.15" width="41.50" height="42.41" fill="none" stroke="#5c5c5c" stroke-width="1.0"/>
<g clip-path="url(#cp2_3)"><g transform="translate(150.2 102.5)"><path d="M20.5 42.5l-2 .2-2-.9-.6-.8-.8-2-2.1-1.8-.5-1.5-2 1.2-.5 1.9-1.5 .1-1.2-.4-1-2.5-.3-.2-1.5 .1-.5-.4 0-.7 1.3-1.8-1.7-4-1.6-1.3-2 .9 0-2.9 2 .4 .8-1.1-.8-1-2-.8-.1-2.7 .4-4-.2-2 1.4-2-.5-.5-1-.4 0-2.2 3.5-1.4 1-.8 .3-1.2-1.5-2 1.7-2 1-.4 1-.1 .5 .1 .5 .8 .5 .1 .5-.8 1.5-.5 1-1.2 .5-.1 15-.2 9.4 .3 1.1 .7 1.5-.2 2 1.6 2-.2 .3 18.6-.3 10.8-2.1 1.2-1.4 1.8-2.5 .4-.4 .3 0 .5 1.1 1.5-.1 .5-.6 .5-2 .1-1.5 1.8-3 .5-1.5 1.6-.8-.5-.4-1-.8-.8-2 .6-2 .2-2.1 1zM33.3 2l-.3-.8-.3 .8 .3 .3zM7 4.5l.3-.5-.8-.6-.9 .1-.3 .5 .1 .5 .6 .3zM10.6 7l.2-1-.3-.4-.5 0-.8 .4 0 .5 .8 .8 .5 0zM10.7 16.5l-.2-.5-.3 .5 .3 .3zM3 31.1l-1 .1-.4-.2 .4-.7 .5 0 .5 .2zM40 31.5l.1-.5-.6-.4-1.2 .4 1.2 .9zM31.1 36l.4-1-.5-.5-.3 .5zM10.5 41.1l-.6-.1 .1-.5 .5-.1z" fill="#f7fbff"/><path d="M23 33.6l-.6-.1-.3-.5 0-.5 .4-.7 1.2-.3 .1-.5-1.3-1.9-2 1.5-3 .2-.6 .7-.4 .2-1-1.4-1.5-.9-1.1-2.4-.4-.3-1 .9-1 .4-1-.2-1.3-.8-.5-2 .3-.5 1.4-.5 .3-1.5 .8-.8 .5 .4 .3 .9 .7 .4 2.5 .2 1.6-.6 .2-.5-.2-.5-.6-.4-3-.6-.4-.5 .8-1.5-.6-2 .1-1 .6-.9 2.2-.6 0-3 .3-1.8 3.5-1.1 .5-2.1 1.5-1.1 .5-.7 .2-.7-1.2-1.5-.1-.5 .6-.3 1.5-.1 .8 .4 .6 1.5 .6 .5-.8 2 .1 .5 .7 .6 .5 .1 1.2-.7 .2-.5-.9-1.5-.1-.5 1.6-.7 .8 .7 .5 2 .7 .5 .5-1.4 .5-.6 1-.4 .5 .4 1.5 3.9 2 .1 3.5 4.4 1.5 1.5-.6 4.1 .3 1 1.8 .4 .8 .6-.2 .5-.6 .4-1.5 .4-.5 1.7-.5 .5-1.5 0-1 .3-1 1.3-2 1.5-.7-.1-1.8-2.2-1.5 .2-.4 .5-.6 3.5 .5 .3 .8-.8 1.4 0 .3 .5-.2 2-1.3 .9-1 1.5-1.3-1.4-.7-.3-1 0-2 .3-.1 1zM35 8.2l-.6-.7 0-1 .6-.7 .8 .2 .1 .5zM13 14.1l-1-.1-1.4-1-.4-.5-.7-2 1-.8 3.4-.7 .6-1.1 .8 .6 0 .5-.3 .3-.8 .2-.2 3.5-.5 .9zM33.6 14l.2-1.5-.3-.6-.5-.2-.4 .8 .4 1.8 .5 0zM33.7 16.5l-.2-1.2-.5-.1-.3 1.3zM9.5 19.5l-1.5 .2-.7-.7-.1-.5 .8-2.3 .5 0 .6 1.3 1 1 0 .5zM10.3 25l.2-.5-.5-.3-.4 .3 .3 .5zM19 33.7l-.5 .2-1.1-.9 .1-.7 1-.3 .5 .3 .3 .7z" fill="#e1edf8"/><path d="M26 25.6l-1.5 .2-.9-.3-.4-.5 .4-2-.2-.5-.9-.9-1.5 .5-.6-1.1 .8-1.5 .1-1-.3-.4-.5-.2-2 .2-2-1-2-.1-.2-.5 .2-.2 2-.2 1.9-1.6-.7-2 .8-2 .5 .2 1.2 1.8 1.8 .5 .4 2 .6 .3 .5-.8-.5-1.5-.6-1-.2-1.5 .3-.4 .5 0 .5 .9 1 .5 1-.2 1.5-1.3 1.5-.2 1.5 .2 1 1 .9 3.5-.1 .5-.8 1.1-2 0-.3 .4 .3 .4 2 .3 1 .8 1.5 .6 .5 .4 0 1.5-.5 .7-3 1.9-1.5 .6-1-.5-.8-1.7-.2-.2-.5 .3-1 .9-.1 .5 1.8 1.5 0 .5zM29.3 12.5l-.3-.6-.2 .6z" fill="#ccdff1"/><path d="M25 21.5l-.5 0-2-2-.4-1.5 .1-.5 1.3-1 1.5-3 1-.5 1-.1 3.3 1.1 .7 .5-2 .8-.8 1.2 .8 1.2 1.2 .8 .4 1.5 .5 .5-1.6 .1-2.5-.3zM21.5 16.5l-2 .3-1.2-.3 1.6-1 .6-1.2 .6 .2z" fill="#abd0e6"/><path d="M26 20l-1 .4-.5-.1-1-.9-.6-.9 .7-1 1.4-1 .3-1 .7-.8 1-.4 1 .2-.3 2 .4 1 .9 1-.2 .5z" fill="#82bbdb"/><path d="M25 19.6l-.5-.1-.8-1 2.8-2.8 .5-.1 .7 2.9z" fill="#58a1cf"/><path d="M25.5 18.6l-.5 .2-.3-.3 .8-.3 .5 .3z" fill="#3787c0"/></g></g>
<polygon points="160.5,110.8 162.5,108.3 164.8,107.8 166.8,106.3 168.8,108.3 167.8,110.2 163.8,113.6 162.0,114.1 160.5,112.8" fill="none" stroke="#f7a41f" stroke-width="1.05" stroke-linejoin="miter"/>
<polygon points="177.6,115.1 179.1,112.2 181.0,111.2 182.9,112.8 185.4,114.6 184.9,116.6 181.5,117.5 179.5,118.0 178.1,117.0" fill="none" stroke="#f7a41f" stroke-width="1.05" stroke-linejoin="miter"/>
<polygon points="175.6,120.5 177.1,119.0 180.5,119.0 183.4,119.0 186.4,120.0 187.8,121.4 185.9,122.9 183.4,124.4 180.5,124.9 178.1,126.8 176.6,127.3 175.2,124.4" fill="none" stroke="#f7a41f" stroke-width="1.05" stroke-linejoin="miter"/>
<polygon points="159.1,123.4 160.5,121.4 162.0,123.4 160.5,125.3" fill="none" stroke="#f7a41f" stroke-width="1.05" stroke-linejoin="miter"/>
<polygon points="163.2,132.1 164.2,130.6 167.7,130.3 168.8,132.1 167.7,133.8 164.2,133.8" fill="none" stroke="#f7a41f" stroke-width="1.05" stroke-linejoin="miter"/>
<line x1="170.90" y1="102.55" x2="170.90" y2="144.55" stroke="#a8a8a8" stroke-width="1"/><line x1="150.15" y1="123.55" x2="191.65" y2="123.55" stroke="#a8a8a8" stroke-width="1"/><rect x="150.15" y="102.55" width="41.50" height="42.00" fill="none" stroke="#5c5c5c" stroke-width="1.0"/>
<g clip-path="url(#cp3_3)"><g transform="translate(150.2 147.4)"><path d="M43 43.1l-30 .3-5.6-.4-1.4-3.5 .4-2.5-.4-2 .7-1 .1-1-1.3-1.5-.9-2.5 .4-1.1 1-.6 .1-.8-.1-.3-1.5-.2-.6-1 1.1-1.2 .6-1.8 1-1 .1-3 .9-1.5 .4-1.8 2 1.1 .5-.2 .5-1.1-.5-.7-2.5 .6-.5-.7 0-1.9 1.4-1.3 .5-3 1.6-1.5 .5-2 .5-.4 1.5-.2 .5-.4 .3-1.5 1-1.5 4.1 0 1.1 .4 4-.6 2.5 .3 4-.3 2 .4 1.5-.3 3 0 .5 .1 1 2 .5 .2 2-.5 1.5 1.2 .4 11.6-.2 26.5zM14.8 4l-.3-.4-.2 .4 .2 .4z" fill="#f7fbff"/><path d="M17 43l-6.2 0-1.5-1.5-.8-2 .1-1 2.1-3.5 4.5-3.5 .5-2.5-1.2-1.6-1.2-.4 .2-.4 1.5-.7 3.2-.9 1.6-2 0-.5-1.3-.9-3 .4-1 1.2-.4-.2 0-.5 .9-.7 .4-2.3 1.3-1-.7-.9-.5-2.6-.9-.5 1.9-.3 .5 .2 1.5 2.3 2-4.2 1.5-.8 2-.5 1-2.4 1.5-.5-.2-1.8 .7-1.7 3 .5 1 1.1 1-1.9 1-.8 2 1.1 2-.8 .5 .1 2 1.5 1.6 .4 .5 .5 .8 2 .6 .8 .1 1.2-.3 10 .2 2.5-.6 2 .6 4.6-1 2.3-1 .8-2.7 .3-.1 .5 .3 1.5-.4 .5-2.6 1-3.3 .5-.6 .5 1.4 .2 1.1 .8 .2 1-.8 .5-1 .1-1.5-.4-1 .6-2.5 .7-.5 1-2-.3-6 .7zM29.1 11l-.1-.8-.3 .3 .3 .7zM25.3 12.5l-.3-.5-.2 .5zM42.1 29l-.8 0 .2 .3zM20.6 31.5l.7-.5-.8-.5-.5 .5z" fill="#e1edf8"/><path d="M13 42l-1.4-.5-.7-1.5 .2-1.5 .9-1.7 2.5-1 2 .7 2 0 2-.5 .7-1-.4-1 0-1 2.4-2 1.3-2.6 .5-.2 1.1 1.3 .9 .6 .7-1.1 .1-2 1.2-.8 1.3-.2 .7-1.8 2-1.4 1.4-1.8 .1-.5-.3-.5-1.2-.5-1 .1-1 .7-.5-1.8 .5-.5 3-.7 .7-.8-.2-.5-1-.8-2.5-.1-.5-.6 .5-1.1 2-.3 .4-.6-1.4-2.5 .1-1.5 .3-.5 .6-.6 2-.9 2-.4 .5 .2 2 1.8 .5 .9-.2 2-.8 .7-.3 .8 1.3 1 .1 1.5 1.4 .8 .4 .7-.4 1.2-.9 .8 .2 2.5-.9 1.5 .6 2.5-1 1-2.5 1 1 .9 .3 .6 0 1-.3 1-1 .4-2 0 .3 2.1-.3 .6-.8 .4-3.2 .6-2-.2-.6 .6 .1 .4 .7 .6 .4 1-.6 1.2-2-.9-3 2.2-1.5 .8-2 .3-2-.2-1.2 1.1-.8 .4-2-.5zM41 12.6l-.7-.1 .2-.3 .5 .1zM39.7 17l-.2-1.2-.5 .7 .5 .9zM25 17l-1.7-.5 3.2-.4 .2 .4zM29.5 23.2l-1.5 .2-1.5-.3-.7-2.1 .2-.5 1-.1 1 1.1 1.5 .7 .3 .3 0 .5zM37.7 21l-.2-.7-1 .2 .5 .8 .5 0zM23 23.3l-.7-.3 .2-.7 .5-.1 .4 .3 0 .5z" fill="#ccdff1"/><path d="M36 12.1l-1 .1-1-1.7 .2-1 .8-.8 1 .2 .5 .8 0 1.6zM37.5 18.6l-1-.1-.1-2 .6-1 .5 .1 .4 .9zM36 23.3l-1-.1-.2-.2 .2-.7 .9 .2 .3 .5zM38 25.2l-1 .1-.4-.3 0-1 .9-.2 1 .6 0 .6zM36 29.2l-1.5 .1-1.9-1.3-.3-1 .7-1.3 1.5 .8 1.9 2.5zM33 32.3l-1 0-.5-.3-.1-.5 .1-.5 1.5-1 .3 1zM25 37.6l-.5 .1-1-.2-.5-1-.1-1.5-.6-1 0-1 2.7-1.6 3.4 .6 .4 1zM21.5 39.2l-1 .1-.3-.3 .3-.5 1-.2 .3 .2 .2 .5z" fill="#abd0e6"/><path d="M35.5 10.6l-.5 .1 0-.7 .5 .2zM26 33.6l-1 .2-.3-.3 .1-.5 1.8 0z" fill="#82bbdb"/></g></g>
<polygon points="177.6,155.8 180.5,152.3 187.2,151.9 191.2,154.3 191.8,154.9 191.8,161.6 189.2,160.6 181.5,160.1 179.1,158.2" fill="none" stroke="#f7a41f" stroke-width="1.05" stroke-linejoin="miter"/>
<polygon points="158.6,183.6 160.5,181.1 163.0,181.6 165.3,183.6 168.8,182.1 170.8,181.1 174.2,178.7 177.6,177.2 182.0,177.7 182.9,179.7 180.5,180.6 176.6,182.1 173.2,185.5 170.2,187.5 168.2,188.9 163.0,188.9 159.6,186.5" fill="none" stroke="#f7a41f" stroke-width="1.05" stroke-linejoin="miter"/>
<polygon points="164.8,166.5 169.2,162.1 172.2,165.0 171.2,168.0 168.8,170.4" fill="none" stroke="#f7a41f" stroke-width="1.05" stroke-linejoin="miter"/>
<polygon points="172.7,164.5 175.2,162.6 177.1,164.0 174.7,166.5" fill="none" stroke="#f7a41f" stroke-width="1.05" stroke-linejoin="miter"/>
<polygon points="183.9,166.5 185.4,164.5 188.2,164.0 190.8,165.5 190.2,168.9 187.2,170.4 184.9,169.4" fill="none" stroke="#f7a41f" stroke-width="1.05" stroke-linejoin="miter"/>
<line x1="170.90" y1="147.40" x2="170.90" y2="190.00" stroke="#a8a8a8" stroke-width="1"/><line x1="150.15" y1="168.70" x2="191.65" y2="168.70" stroke="#a8a8a8" stroke-width="1"/><rect x="150.15" y="147.40" width="41.50" height="42.60" fill="none" stroke="#5c5c5c" stroke-width="1.0"/>
<g clip-path="url(#cp4_3)"><g transform="translate(150.2 207.5)"><path d="M17 35.1l-1.5 .3-1.5-.2-5-2-1.3-1.2-1.3-2.5-.2-1 .1-4.5-.2-3-1.4-4.5-.2-2 .4-4-.1-2.5 .5-3 1.3-3 1.9-1.4 .4-.6 10.1-.3 7.9 .3 .2 1 1.8 3-.3 4-1.5 6.5-1 2-1.7 5.5 .1 1 2 4 .2 1.5-.1 1-.7 1.5-1.4 1.2z" fill="#fff5eb"/><path d="M16 33.5l-2-.1-3.5-1.3-1.9-1.6-.6-1.5-.2-2 .9-5.5-1.9-7 .6-2.5 .1-5.5 1.4-2.5 1.1-1.1 2.5-.1 2-1 2 0 2 .5 2-1 1 .4 1.5 1.2 2 .7 .8 .9 .2 1-.3 2.5-1.2 2.5-.1 2 .4 2-.9 1-1.2 3-.6 3.5 .3 1 1.9 3 .5 1.5 .1 1.5-.7 1.5-1.2 .9-4.5 1.6z" fill="#fee8d2"/><path d="M17.5 32l-3 .2-3-1.4-1.5-1.3-.5-1-.4-1.5 .6-3 1.4-3.5-.5-4-1.2-2 .6-4 1.3-1 .4-1-.2-.9-1.2-1.1 0-.5 .7-.3 3.5 .3 .5-.8 1.5-.4 .7 .7 .6 1.5 .7 1 2.3-1.5 .7-.8 1.5 .1 .4 .7-.9 3.7-1 .4-.5-.1-.2 2 .3 1 0 3-.6 1.1-1.2 .9 0 .5 .4 2.5 .4 1 2.9 3.5 .6 2-.1 1-.5 1-1 .7z" fill="#fdd5ad"/><path d="M12.5 12.7l-.3-.2 .3-.2 .3 .2zM14.5 17l-1-.1-.9-.4 1.9-.9 1.3 .9zM18 31.1l-2.5 .3-1.5-.3-2.6-1.6-1.3-2.5 .4-2.5 2.5-2.8 1.5-.6 2-1.8 1.2 1.2 1 2 2.8 3 1.1 2.5-.1 1-.9 1-1.1 .5z" fill="#fdb97d"/><path d="M17.5 30.5l-2.6 0-2.9-1.5-.3-1.5 .1-1.5 1.2-2.3 1.5-1 1.5 0 2.5 .9 1.6 1.4 1.5 2.5 .1 1.5-.7 .7z" fill="#fd9c51"/><path d="M17 30l-1.5-.2-1-.8-1-.3-.5-.5 .2-3.2 1.3-1.4 2.5 .2 2 1 1 1 1 2.2-.1 1-.4 .3z" fill="#f87d29"/><path d="M17 29.5l-1.5-.5-1.5-1.5-.2-2 .7-1.2 1.5 .1 2 .5 1.1 .6 .7 1 .5 1.5-.3 .8z" fill="#e95e0d"/><path d="M19 28.6l-2 .4-1-.4-1.5-2.1 .1-1 .9-.4 3 .5 1 1.4 .1 1z" fill="#cd4401"/><path d="M18.5 28.1l-1 .2-.8-.3-.3-.5 .3-1 .8-.4 1 .1 .6 .8-.1 .6z" fill="#a13403"/></g></g>
<polygon points="158.6,234.3 159.5,231.4 162.0,230.6 164.8,230.6 166.8,229.2 168.8,230.6 170.8,233.3 175.2,236.7 173.7,238.7 171.2,237.2 169.2,238.7 166.8,241.1 164.8,241.3 163.0,239.7 160.0,239.2 158.6,237.2" fill="none" stroke="#1a1a1a" stroke-width="1.2" stroke-linejoin="miter"/>
<line x1="170.90" y1="207.47" x2="170.90" y2="249.82" stroke="#a8a8a8" stroke-width="1"/><line x1="150.15" y1="228.65" x2="191.65" y2="228.65" stroke="#a8a8a8" stroke-width="1"/><rect x="150.15" y="207.47" width="41.50" height="42.35" fill="none" stroke="#5c5c5c" stroke-width="1.0"/>
<g clip-path="url(#cp5_3)"><g transform="translate(150.2 252.4)"><path d="M17.5 41.5l-1 .1-1-.9-1-.5-1.4 .3-.7 1-.3-.5 .1-1.5-1.1-.5-.7 0-1.9 1-1.5-.2-1.5-1-1.2-1.8-1.8-1.5-1.1-2.5-.2-2-1.2-1.2 0-2.3 .2-.5-.2-2 0-8.8 2-1.3 .8-3.4 .8-1.5 .4-1.6 .5-.4 2-.8 1.5-2.4 1.5-.9 1-2 1 2.1 1.9 1 1.1 .3 1.5-.8 .5-.6 2 .7 1.5-1.2 3-1.3 1.5 .3 1.7-.4 2.9-2 3.9-.3 5 .3 1.5 2 0 1.5-.4 1.5-.8 1.5-3.5 4-.8 2-1.9 2 .2 1 .8 1-.8 2 .2 .7 1.1 1.3-.1 .8-.5 .6-2 0-.3 .6 0 .5 .9 1 .2 1-1.2 1.5-.1 .5 1.1 1.5 .3 2.5-.9 .8-2-.5-.7 1.7-.2 2-.7 1-2.9 1.7-2 1.7-1.5 .5-2 1.2z" fill="#fff5eb"/><path d="M17.5 35.7l-3 .3-2.5-.9-5-.4-1-.4-.8-.8-1.9-5-.4-2 0-6 .3-2 1.8-3.2 1.3-.8 .8-1 3.9-1.1 2.5-1.6 3.5-1.8 8-1.6 3.1-3.4 1.4-.5 1.5 .3 1.8-2.8 .2-.2 1 .2 1.6 1.5-.1 1.8-2.7 2.7-1.3 1.8-1.6 1.2-.9 1.5-2 1.8-.6 1.2-.3 2-2.1 3.5 .3 1 2.2 2 .5 1.8 .4 2.7-.7 3.5-1 1-2.7 1.8z" fill="#fee8d2"/><path d="M17 34.5l-2.5 .1-5-2.4-1.1-1.2-1.9-.2-.5-.4-.7-1.4-1-6 .7-2.5 .1-2 .9-2.1 .5-.2 1.5 .4 .5-.2 1.3-1.4 4.7-3.4 3-1.7 2-.3 3.5 .7 1 .5 .4 .7 .1 2-.3 2-.4 1-1.5 2-.4 2 .5 1 1.6 1.6 1.5 2.4 .4 1 .2 1.5-.4 2-.5 1-.6 .5-2.1 1.3z" fill="#fdd5ad"/><path d="M17.5 33.6l-2.5 .1-2-.7-2.5-1.5-1.5-1.3-2.4-1.2 .2-2-.8-2-.3-2 1.3-4 1.5-1.2 1.5-2 4.5-3.3 2-1 1.5-1.2 1-.2 3.5 1.2 1 1.2 .1 1.5-.3 1.5-1.6 2.5-.8 2.5 .3 1 1.9 2 1.3 2 .6 1.5 .1 1.5-.4 1.5-.7 1-2 1.1z" fill="#fdb97d"/><path d="M18.5 32.7l-3 .2-5-2.4-2-1.6-.4-1.9-.9-1.5-.2-1 .4-1 .8-.5 .2-.5-.6-2 1.7-2.5 .7-1.5 6.1-4 1.2-.2 1.2 .2-.5-1 .3-.5 .5-.1 3 1 .9 1.1-.1 2-1.8 3-.7 1.5-.1 1 .4 1.5 1.9 2 1 1.5 .7 2.5-.2 1.5-.8 1-1.5 1z" fill="#fd9c51"/><path d="M18 32l-2 .2-.5-.3-1-1.2-1.5-.1-2.5-1.1-1.4-1.5-1.3-3 1.1-2 0-2.5 1.9-2 0-1 .6-1 3.6-1.3 1.1 .3 .4 1 .5-2.6 .5-.4 1-.2 2-1.3 1 .3 .6 .7 .2 1-.2 1-1.6 2.4-1 .5-1-.1-.3 .7 1.2 1.5 .6 2.5 2.3 2.5 .5 1.5 .2 2-1.7 2.5zM21.9 29l-.9-.3-.3 .3 .3 .4z" fill="#f87d29"/><path d="M20 16.6l-1 0-.5-.3-.6-1.8 2.6-1.8 .5 .2 .5 .6 .1 1-.6 1.2zM17 31.5l-.5 .1-2-1.4-1.5-.2-2.5-1.3-1-1.2-.9-2.5 .7-2 .4-2 1.3-1.5 1.5-.8 2-.2 .5-.6 1.5-.4 .8 .5 .7 1.5 .9 1 .2 2 2.3 2.5 .3 1.5-.2 .8-1 .8-.5 2.4z" fill="#e95e0d"/><path d="M18.5 30.5l-2 .3-1.5-.9-2-.6-1-.8-1.5-.5-.5-.6-.7-2.9 1-3 1.7-1.7 3-.6 1.5-.9 1.5 2.2 .4 2.5 2 2 .2 1-.9 3.5-.2 .5z" fill="#cd4401"/><path d="M18.5 30.1l-1.3-.1-3.4-1-.3-.5 .1-1.5-.5-2-.6-.8-.7 .3-.3 .5 .1 2-.6 .3-.7-.3-.4-2 .4-2 .2-.7 1.6-1.8 1.4-.4 2 0 .5 .1 1 1 .6 1.8 1.5 2 .4 1.1 0 2.9-.5 .8z" fill="#a13403"/><path d="M16 26l-1.5-.2-1.1-1.8-1.9-1 .1-.5 .9-1 2-.8 .6 .3 1.3 1.5 1.1 2.5 0 .5-.5 .4zM18.5 29.7l-1.5-.6-.1-.6 .4-1 1.2-.9 .5 .9 .2 1 0 .5z" fill="#7f2704"/></g></g>
<polygon points="159.0,271.4 161.0,267.8 164.1,265.3 167.6,263.2 170.7,263.2 172.7,264.7 173.7,266.8 171.7,268.3 170.2,271.3 170.2,273.9 171.7,275.9 174.2,277.0 175.8,279.5 175.2,283.1 171.7,284.6 169.2,284.6 166.6,286.1 164.1,285.1 161.5,282.6 160.5,279.5 159.0,276.5" fill="none" stroke="#1a1a1a" stroke-width="1.2" stroke-linejoin="miter"/>
<line x1="170.90" y1="252.42" x2="170.90" y2="295.47" stroke="#a8a8a8" stroke-width="1"/><line x1="150.15" y1="273.94" x2="191.65" y2="273.94" stroke="#a8a8a8" stroke-width="1"/><rect x="150.15" y="252.42" width="41.50" height="43.05" fill="none" stroke="#5c5c5c" stroke-width="1.0"/>
<g clip-path="url(#cp0_4)"><g transform="translate(193.9 11.5)"><path d="M24 35l-1 .4-1-.3-1-2-1.5 1.1-3 .5-4 .4-2-1-2.5-.1-1.5-.6-2.5-1.8-2 .2-1-.8-1-2.1-.2-1.9 0-8.5 .2-1.3 .4-.7-.5-2 .1-4.7 2-.3 .6-.5 .9-1.6 .5-.3 2 .1 .5-.3 1.1-1.4 .9-.5 5-.4 3-1 2-.2 1.5 .5 .5 .9 1-1.6 1.5-.3 2 .6 2 0 3.4 .5 .6 .3 2 .2 2 2 1.7 .5 3.3 1.9 .6 1.6 2.4 2.4 .1 1.6-.3 2 .3 4.5-.6 3.4-1.9 1.6-.9 2.5-.4 .5-3.8-.1-1.2 2.1-1.3 1-2 .6-2 .1-2 1.5z" fill="#f7fbff"/><path d="M18 31.1l-1.5 .1-1-1.1-1-.3-2 .7-2-1.7-2 .1-1-.9-.6-1-.4-2.5-1.1-.5-.2-.5 0-5-.9-2 .7-2 1.5-2.4 2-1 2-2.1 2.5-.8 8-.4 6 1.1 3 2.1 1 1.6 2 1 .5 .8-.2 1.1-.6 1 1.6 4-.3 .6-1.5 1.2-.2 .7 1.9 1.5-.1 .5-1.1 .5-4 .3-.5 .2-1.5 2-1-.2-1-1.2-.5 .3-.5 1.1-1 1z" fill="#e1edf8"/><path d="M22 26l-1.5 .2-3-.4-1-.4-2-1.7-2 1.7-3-2-2.3-2.4-.6-1.5-.1-5 1.5-1.8 2.7-2.2 4.3-1.4 2-.2 3.5 .1 5.5 1.5 3 1.7 1.9 2.3 0 4-.3 1-3.1 3.8-1 .3-1.5-.4-2 2.3z" fill="#ccdff1"/><path d="M19 25.1l-.7-.1-3.8-2.8-2 .5-2-.2-2.5-2.2-.6-1.8 .3-3.5 .8-1.2 3-2.6 5-1.7 3 .1 6 1.8 1.3 1.1 1.7 .6 1 1.4 .3 1 .3 2.5-.2 1-2.1 2-.8 1.3-2.5 0-2 2-2 .2zM10.6 14.5l-.1-.3-.5-.1-.3 .4z" fill="#abd0e6"/><path d="M19.5 24.1l-1-.1-2.6-2-1.4-.7-2 .6-1-.2-1.2-1.2-1.8-.9-.5-1.1 .6-3 .4-.4 1.5 0 .6-.6-.2-1 .2-1 .9-.7 4.5-1.9 2.5 .1 2 .8 4 1.1 3.3 2.1 .8 2 .4 2.5-.7 1-2.3 1.5-2.5 .9-2 1.6z" fill="#82bbdb"/><path d="M20.5 23l-1 .2-.9-.2-1.1-1.2-3-1.3-1.5 .7-1 0-1.5-1.4-1.5-.9-.3-.9 .3-1.6 .5-.6 1.7-.8 .3-.5 0-1 .5-1 4.5-2.2 2 0 2 1 4.5 1.3 2.9 1.9 1 3 .1 1-.4 .5-1.6 1.1-3.6 1.4-1.9 1.3z" fill="#58a1cf"/><path d="M21.5 22.1l-1 .3-1-.3-.4-1.6-.6-.4-2 .6-2-.9-1.5 .8-.5 .2-.5-.2-2.3-2.6-.2-1.5 2-1.1 1-2.5 4-2 2 0 2 1.1 4.5 1.1 2.6 1.9 .7 2 .1 1.5-1.4 1-4 1.5z" fill="#3787c0"/><path d="M21 21.7l-.9-.2-1.1-1.6-.5-.2-2 .6-1.5-.8-.5-.6-2 1.4-1.4-1.3-.9-2.5 1.3-.2 1 .3-.3-1.1 .3-1.6 .7-.9 1.3-.6 2 .5 2.5-.4 1.5 .4 2 0 2.1 .6 1.7 1 1 1 .5 2-.1 1-.7 .5-4 1.2z" fill="#1b69af"/><path d="M21 21.1l-.5 0-.7-1.1-.8-.6-.5-.1-2 .6-1-.5-1-1.2-2 1.6-.5-.4-.6-.9 0-.5 .2-.5 1.2-.5 .4-.5-.5-2 .6-1 1.2-.7 2 .6 2.5 .1 .7 .5 .8 1.6 1-1.9 1.5-.3 2 .9 1.5 1.2 .7 1.5-.2 1.3-.5 .3-2-.1-2 1.2zM23 16.5l-2-.5-.3 .5 1.8 .4z" fill="#084d96"/><path d="M21 20l-.5 0-.5-.8-1-.3-2.5 .7-.9-.6-1.1-1.4-.6-.1-.7-2.5 .2-1 1.1-.8 3.9 1.3 .6 .6 .4 1.4 .8 1 2.7 1-1.4 .9zM26 17.3l-1.5 .1-.9-1.4-1.2-.5-.6-1 .7-.6 1.6 .6 1.9 1.7 .2 .8zM12.5 19.2l-.5-.8 .5-.6 .5 .1 .2 .6z" fill="#08306b"/></g></g>
<polygon points="202.4,26.1 207.8,22.2 215.1,22.2 216.5,23.7 221.9,24.7 222.9,28.1 222.4,31.0 217.5,32.0 215.1,36.4 213.1,34.9 211.2,32.5 203.9,32.0 202.4,30.5" fill="none" stroke="#f7a41f" stroke-width="1.05" stroke-linejoin="miter"/>
<line x1="214.65" y1="11.47" x2="214.65" y2="53.77" stroke="#a8a8a8" stroke-width="1"/><line x1="193.90" y1="32.62" x2="235.40" y2="32.62" stroke="#a8a8a8" stroke-width="1"/><rect x="193.90" y="11.47" width="41.50" height="42.30" fill="none" stroke="#5c5c5c" stroke-width="1.0"/>
<g clip-path="url(#cp1_4)"><g transform="translate(193.9 57.1)"><path d="M23 40.1l-2.5-.5-2 .4-2-.7-4-.2-2-1.1-2.5 .3-5.5-3-2.5-1.7-.3-12.6 .3-12.5 1.1-.5 1.4-1.4 1.5-.3 2.5-1.1 2-.1 2-.8 4-1 2 .3 4-.5 2.5 .6 3.5-.3 3.8 1.1 2.7 0 2.5 1.2 3.5 .5 .6 .3 1.4 1.6 2 .5 .4 10.4-.4 12.2-1.5 .9-1.7 1.9-2.4 1-2 1.5-2.4 .4-2 1.2-3.5 .4z" fill="#f7fbff"/><path d="M23 31.7l-2.5-.2-2-1-2-.5-1.3 1-.7 .2-.8-.2-1.5-3.5-2.2-.5-.7-.5-1-1.5-1.8-.6-1.7-2.9-1.1-3 1.1-2 .9-2.5 1.3-1.5 3.5-2.3 4.5-1.6 7.5-1.3 2.5 0 4 1 4 1.7 2 1.5 2 .9 1.5 1.6 2 1.4 1 1.5 1.5 1 0 2.2-4.5 5-1.5 .7-5.5 1.2-3 1.4-1.5 1.4-2-.2-.5 .2-.7 1.2z" fill="#e1edf8"/><path d="M37 22.7l-2.5 .3-3.5-.4-2.5-.6-5-.2-3-.9-6-.3-2 .4-2-.2-1.5-.7-1-1.1-.2-1 .5-3 .5-1 1.2-1.2 6.5-2.8 6-.8 2.5 0 6.5 2.3 7.3 5 1 2 0 2-.8 1z" fill="#ccdff1"/><path d="M36.5 21.5l-1.5 .1-2-.9-2 .4-2-1.5-2.5 0-1.5-1.1-.5-.1-3.5 .8-2.5-.5-3.5 0-2.5 .6-1.5 0-1-.4-.6-.9 0-2.5 1.1-1.6 2-.8 2-1.1 7.5-1.7 3 .1 6.5 2.4 6 3.8 1 1.4 .2 1.5-.7 1.3z" fill="#abd0e6"/><path d="M36.5 20.6l-1.5 0-4-2.1-2-.4-2.5-1.1-3.5-.6-2.5 1.2-4-.5-5 1.1-1.2-.7-.2-1.5 .5-1 1.9-.8 2-1.3 2 0 4-1.5 3-.3 1.5 .6 2 .1 1 .4 4 1.8 4.3 2.5 1 1 .5 1-.3 1.3z" fill="#82bbdb"/><path d="M19.5 16.1l-1 0-1.5-.6-.4-.5 .3-1 1.1-.8 2.5-1.1 2-.2 1 .3 1.1 1.3 .1 .5-.7 1.1zM36.5 19.2l-1 .1-3.5-1.7-3.4-1.1-.6-.6-2.1-.9-.6-1 .1-.5 .6-.5 1-.2 1 .7 .4 1 .6 .4 2-.1 1.3 .7 .7 .9 2 0 1.8 2.1zM14.5 16.5l-1.5-.1-.5-.4 .7-1 1.1-1 1.3 0 .7 .5 .1 .5-.8 1z" fill="#58a1cf"/><path d="M23 14.6l-1.2-.1-.7-1 .9-.5 .7 0 .5 .5z" fill="#3787c0"/></g></g>
<polygon points="200.3,75.2 206.1,70.0 211.3,69.2 213.3,67.5 220.5,67.5 224.4,70.0 230.2,73.7 234.5,74.3 235.4,76.5 233.5,77.8 231.5,79.8 227.0,79.8 225.7,77.8 216.6,77.5 215.3,75.9 206.1,75.7 201.6,77.5" fill="none" stroke="#f7a41f" stroke-width="1.05" stroke-linejoin="miter"/>
<ellipse cx="221.1" cy="90.8" rx="1.5" ry="1.5" fill="none" stroke="#f7a41f" stroke-width="1.3"/>
<line x1="214.65" y1="57.15" x2="214.65" y2="99.56" stroke="#a8a8a8" stroke-width="1"/><line x1="193.90" y1="78.35" x2="235.40" y2="78.35" stroke="#a8a8a8" stroke-width="1"/><rect x="193.90" y="57.15" width="41.50" height="42.41" fill="none" stroke="#5c5c5c" stroke-width="1.0"/>
<g clip-path="url(#cp2_4)"><g transform="translate(193.9 102.5)"><path d="M27 43l-.5 0-.5-1.5-.5-.8-1-.5-.6 .3-.9 1.1-2.5-.2-1.5 .7-2.5 .6-2-.9-.9-.8-.7-1.5 .2-2.5-.6-.7-.7 .7-.3 1.1-.5 .7-1 .2-1-.2-1-1.4-2-.6-2.2-1.3-2-2.5 .6-2-.9-1.2-1.5-.8 .2-2-.3-1-.1-3.5 .2-1.6 .5-.4 .2-2-.7-4 .6-2-.2-2 1.5-4 1.6-.6 .2-.4 0-3.5 .3-.2 4.5 1.8 2.5-1.6-.8-2 2.3-.2 2 .4 2-.4 2 .1 4.5-.2 12 .2 1.3 .1 1.4 1 1.3 2.1 .5 .2 2-.3 .5 .5 .5 2.1 .5 .4 .2 2.5 0 22.5-.2 2.9-1.5 .2-2.5 1.3-1.6-.4-.3 .5 .4 .9 1.5-.4 .3 1-.3 .8-3.6-.8-.4 .5 .6 1.5-.6 .7-4 .8-1-.3-1-1.4-.5 .7-.1 2-1 1.5zM16.7 4.5l.2-.5-.4-.3-2.1 .3 2.1 .7zM4.6 8.5l.3-.5-.9-1.4-.6 .4-.3 1 .4 .5zM8.6 13l.1-.5-.2-.4-.5 0-.4 .4 .4 .6zM39.6 14.5l-.1-.2-.4 .2 .4 .4zM8.8 19l.1-.5-.4-.3-.8 .3 .3 .8 .5 .1zM4.4 29l-.4-.3-.3 .3 .3 .2zM6.9 32l.8-1-1.1-1-1 0-.5 1 .2 .5 .7 .8z" fill="#f7fbff"/><path d="M23.5 33l-1 .3-1.2-.3 1.2-2-.6-2-1.4-.4-2 0-.6 .4 .4 .5 1 .5 .5 1-.3 1.4-.5 .2-.9-.1-.4-.5-.4-1.5-1.3-.8-1.1-2.2-.4-.5-1.3-.5-.7-1.7-1.4-1.3-.8-2.5 .1-.5 .1-.2 1 1 1 0 .8-.3 .1-.5-1.6-1.5-1-2.5 .7-1.5 1.2-.5-1.3-.5-.8-1.5 1.1-1 .8-1.4 1.6-.1-.1-3.5 .5-.7 1 .7 .1 2 .9 .3 2-.6 2.5 .1 2-1.1 2-.2 2-1.3 1 .9 .5 2.4 .5 .4 .8-.4 .2-.4-.3-2.6 .6-.5 .7-.2 .8 .2 1.2 1.7 2-.9 .8 .7 .7 1.5-.4 1-.9 .5-.3 .5 1.6 1 .9 1.5 .3 1.5-.6 1-1.1 1 .3 2-.3 2 .1 .5 .9 .7 1.6-.2 .4-1-.4-2 .9-.1 .2 .6-.4 3.5-.3 .5-2.8 1-1.2 1.9-1.8 1.1 .3 2-1 .9-1 1.6-.5 .3-2-.4-2 .5-.8-.4-1.2-1.1-.5-.1-.8 .2-.5 .5zM27.3 10.5l-.3-.3-.5 .3 .5 .3zM31.2 10.5l-.2-.5-.2 .5 .2 .3zM21 18.5l-.5-.5-.3 .5 .3 .4zM31.2 24l.3-1-.5-.7-.3 .7 .3 1.3zM31.9 27l-.9-.8 0 .9z" fill="#e1edf8"/><path d="M27 9l-1-.2-.3-.3 .3-.5 1-.4 .3 .9zM26 27.1l-1 .3-1.4-.4-1.1-1.7-.5-2.3-.5-.6-1-.3-2 .8-.4-.4-.4-4-.7-1-1-.5-.3-.5 .8-.8 2.5-.3 1-1.5 3-1.4 .3-.5-.2-1-.8-.5 1.7 0 1.5 1.3 1.5 .3 4 1.6 .5 .8 .6 2-.6 1-2.2 1 1.7 1 2 0 .9 1-.2 1-.7 .8-1.5-.9-.5-.1-.5 .3-.5 .6-1 2.6-2 .4-.5 .5zM35 15l-.5-.5 .5-.5 .7 .5zM20.6 19.5l.4-.1 .5-.9-.5-1.6-.5-.3-.8 .9-.3 1 .6 .8z" fill="#ccdff1"/><path d="M29 22.6l-1.1-.1-.9-.6-1.5 .1-1-.2-1.5-1.5-.5 0-1.5 .9-1-.2-.3-.5 1.8-.4 .4-.6 0-4 .3-1 1.8-1 2-.3 3 .6 1 .7-.4 1-.6 .3-.5 .7-.6 2 .2 1 1 1z" fill="#abd0e6"/><path d="M23.5 19.3l-.5 .1-.5-.3-.1-1.1 .9-2.5 .7-1 1.5-.4 3.1 .4-1 3-.6 .8-2.5-.1z" fill="#82bbdb"/><path d="M26.5 17.6l-2.5-.4-.2-.7 .7-1.1 1-.3 1.5 .4 .3 1-.3 .8z" fill="#58a1cf"/><path d="M26 16.6l-1 .1-.3-.2 .3-.3 1.4 .3z" fill="#3787c0"/></g></g>
<polygon points="204.2,110.8 206.2,108.3 208.6,107.8 210.6,106.3 212.5,108.3 211.5,110.2 207.6,113.6 205.7,114.1 204.2,112.8" fill="none" stroke="#f7a41f" stroke-width="1.05" stroke-linejoin="miter"/>
<polygon points="221.3,115.1 222.8,112.2 224.7,111.2 226.7,112.8 229.1,114.6 228.6,116.6 225.2,117.5 223.2,118.0 221.8,117.0" fill="none" stroke="#f7a41f" stroke-width="1.05" stroke-linejoin="miter"/>
<polygon points="219.3,120.5 220.8,119.0 224.2,119.0 227.1,119.0 230.1,120.0 231.5,121.4 229.6,122.9 227.1,124.4 224.2,124.9 221.8,126.8 220.3,127.3 218.9,124.4" fill="none" stroke="#f7a41f" stroke-width="1.05" stroke-linejoin="miter"/>
<polygon points="202.8,123.4 204.2,121.4 205.7,123.4 204.2,125.3" fill="none" stroke="#f7a41f" stroke-width="1.05" stroke-linejoin="miter"/>
<polygon points="206.9,132.1 207.9,130.6 211.4,130.3 212.5,132.1 211.4,133.8 207.9,133.8" fill="none" stroke="#f7a41f" stroke-width="1.05" stroke-linejoin="miter"/>
<line x1="214.65" y1="102.55" x2="214.65" y2="144.55" stroke="#a8a8a8" stroke-width="1"/><line x1="193.90" y1="123.55" x2="235.40" y2="123.55" stroke="#a8a8a8" stroke-width="1"/><rect x="193.90" y="102.55" width="41.50" height="42.00" fill="none" stroke="#5c5c5c" stroke-width="1.0"/>
<g clip-path="url(#cp3_4)"><g transform="translate(193.9 147.4)"><path d="M43 43.1l-28.5 .3-5.5-.1-1.9-.3-.3-1.5 .1-2-.9-1.5-.3-1 0-4 .6-2-.4-1.5-.9-1-.2-2.5-.4-1 1-1 .4-1-.3-.8-1.3-1.7 .8-2.1 2-1.2 1-2.2 2.4-.5-1.4-.3-.5-.4-.4-1.3-.1-2.1 .5-1 3.5-1.9 .8-1.5 1.5-1.5 .3-.5-.7-1-.2-1 .8-.8 1 .2 1 .9 .7-1.3 2.1-1 18.2-.1 .7 .1 .5 1 .8 .5 1.5-.5 .5 .1 .8 1.4 .7 .6 .4 3.9 0 13zM9 27l-.5-1.4-.5-.4-.1 1.8 .6 .3z" fill="#f7fbff"/><path d="M21.5 43l-5 0-2 .2-4-.2-1.4-1.5 .2-1 .8-1-1.2-3.5 .1-1.2 3.5-1.6 2 .7 2-1.7 1.8 1.3 .8-.5-.6-2.2-2.5-.8-1.1-2-1-1-.2-4 .3-.7 .5-.5 2 .3 3.3-1.1-.8-.5-1.7-.5-.8-.9-2 .3-.7-.4-.3-.5 .5-2 1.8-1 .7-1.1 1 1.3 1 .3 1-.5 .3-1-.2-1-2-1 .4-.5 2-.1 .5 .6 .5-2.5 1.5-.7 1.9-1.3 2.6 0 2-3.6 2 .2 2-.7 2 .1 2.1 1 2.9 .3 2 .9 1 .7 .1 2.1-.1 16-1.1 2 .6 2 .1 2-.2 .5-.7 1-.7 .5-.8 1.5-.7 .6-2.5-.8-2.2 .7-.2 .5 1 1.5-.1 .5-.5 .4-2 .4-2 2.3-2.5 .4-1.5 .8-2-.1-1.5 .9zM31.2 12.5l-.2-.6-.2 .6 .2 .2zM29.2 15l.3-.5-.5-.5-2 .1-.8 .4 2.3 .7 .5 .1zM27.1 21l-.1-.7-1.1 .2 .6 .6zM39.6 30l.4-1-.5-.2-.6 .2 .6 1.3z" fill="#e1edf8"/><path d="M14.5 42.6l-.5-.4-.6-1.2-1.9-1.1-.6-2.4 .1-1 .5-.6 1-.2 1.5 .7 .5 .6 .6-1 1.4-1.3 2-.4 1-.6 1.5-3.5 3.6-.7 .8-.5 1.1-1.6 .5-.1 2 .7 1-.3 .8-.7 .2-1 .5-.4 2-.6-.5-.9-2 .6-.5 1.1-1.5 .1-.7-.4-.3-.5 .5-.9 1.3-.6 .5-1.5 .7-.2 2 .2 .5-.4 1.1-2.6 .1-.5-.6-.5-.3-1 .2-2.5-1.5-1.4-.5-3.1 .5-.8 1.2-.7 0-2 .8-.9 1 0 1.5 .8 2-.2 .8 .3 1.7 1.4 .3 .6-.6 2 .2 2-.9 1-1 .2-.9 .8 .4 .7 1.5 1.3 1.6 4-.5 1-1 1 .1 2.5-.9 2-2 1.5-.7 2-1.7 2.5-2.4 1.6-2-.4-.3 .3-.5 1 .6 1.5-1.8 .5-2-.9-.6 .4-.4 1.6-.5 .8-.5 .3-1 .1-2.5-.6-.1-2.2-.9-.5-.7 .5 0 .5 1 1.5 0 .5-1.4 2-.9 .5-2.2 0zM29.5 21.6l-.5 .1-.5-.7 0-.5 .5-.5 .7 .5 .2 .5zM39.7 21l0-.5-.8 0 .3 .5z" fill="#ccdff1"/><path d="M37 13.6l-1 .3-1-.1-1.5-1.3-.1-.5 .6-1 1.5-.6 .6-2.4 .4-.4 1-.1 1 .5 .2 .5-.3 2 .2 1.5-.2 .5zM36.5 17.1l-1 .3-.5-.2-.4-.7 .4-.9 .5-.3 1 .2 .8 1zM39 19l-.4-.5 .4-.6 .5 .1 .3 .5-.3 .5zM38.5 24.4l-2.5-.2-1-.5-.4-.7 0-.5 .9-1.6 1.5-.3 .5 .4 1.3 2zM18.5 41.1l-1.9-.1-.8-.5 .3-1-.4-1 .1-1 .7-1.2 1.8-1.3 1.5-.5 1.2-1.8 2-.9 1-.1 .4 .3-.2 1 .3 .3 .5-.3-.4-.5 0-.5 .4-1 2-1.4 1.1 .4 .9 1.6 .6-1.6 .9-.5 2.5-.3 1.2 .8 .2 1.5-.5 1.5-.4 .4-.5 .3-2-.5-1 .8-1 1.6-2-.4-1 .1-.5 .3-1 2-.5 .2-1 .2-.5-.3-.5-.9-1-.9-.5-.1-1 .4-.7 .8 .8 1.5 .2 1zM13 39.5l-.5 .1-.5-.7-.1-1.4 .6-.6 .7 .6 .2 1 0 .5z" fill="#abd0e6"/><path d="M35.5 12.7l-.7-.2 .2-.5 .8 0 .2 .5zM33 32.6l-2.5-.3-.4-.3-.1-1 1-.9 2 .1 .6 .8zM27.5 34l-1-.1-.5-.9 .1-1.5 .3-.5 .6-.3 1.8 2.3-.3 .7zM23 36.4l-1.6-1.4 .6-.6 1 0 .5 .5 .1 .6zM18.5 40l-.7-.5 0-.5 .7-.7 .5 .7z" fill="#82bbdb"/><path d="M32 31.1l-1 .3-.2-.4 .7-.2 .7 .2z" fill="#58a1cf"/></g></g>
<polygon points="221.3,155.8 224.2,152.3 231.0,151.9 235.0,154.3 235.5,154.9 235.5,161.6 233.0,160.6 225.2,160.1 222.8,158.2" fill="none" stroke="#f7a41f" stroke-width="1.05" stroke-linejoin="miter"/>
<polygon points="202.3,183.6 204.2,181.1 206.7,181.6 209.1,183.6 212.5,182.1 214.5,181.1 217.9,178.7 221.3,177.2 225.7,177.7 226.7,179.7 224.2,180.6 220.3,182.1 216.9,185.5 214.0,187.5 212.0,188.9 206.7,188.9 203.3,186.5" fill="none" stroke="#f7a41f" stroke-width="1.05" stroke-linejoin="miter"/>
<polygon points="208.6,166.5 213.0,162.1 215.9,165.0 214.9,168.0 212.5,170.4" fill="none" stroke="#f7a41f" stroke-width="1.05" stroke-linejoin="miter"/>
<polygon points="216.4,164.5 218.9,162.6 220.8,164.0 218.4,166.5" fill="none" stroke="#f7a41f" stroke-width="1.05" stroke-linejoin="miter"/>
<polygon points="227.6,166.5 229.1,164.5 232.0,164.0 234.5,165.5 234.0,168.9 231.0,170.4 228.6,169.4" fill="none" stroke="#f7a41f" stroke-width="1.05" stroke-linejoin="miter"/>
<line x1="214.65" y1="147.40" x2="214.65" y2="190.00" stroke="#a8a8a8" stroke-width="1"/><line x1="193.90" y1="168.70" x2="235.40" y2="168.70" stroke="#a8a8a8" stroke-width="1"/><rect x="193.90" y="147.40" width="41.50" height="42.60" fill="none" stroke="#5c5c5c" stroke-width="1.0"/>
<g clip-path="url(#cp4_4)"><g transform="translate(193.9 207.5)"><path d="M16.5 35.1l-2.5 0-4-2-2.1-1.6-1.1-2-.5-2.5 .4-5-1-3.5-1-6 .6-5.5 .9-3 2.7-4 11.6-.2 5.8 .2 1.4 2 .8 2.5-.9 6-.8 2-.3 2-1.1 2 0 2-1 2-.3 1.5 .4 2.1 1.7 3.4 0 2.5-.4 1-1.3 1.1z" fill="#fff5eb"/><path d="M16 33.1l-1.5 .2-1-.4-3.5-2-1.8-1.9-.4-2 1.4-5-.1-1.5-.5-2 .4-2-1.5-2-.1-2.5 .4-3.5 1.4-3.5 .9-1.5 .4-.3 2 .1 2-.5 4-.2 3 .6 1 1.1 .5 .1 1.5-.5 .3 .6-.3 3.5 .5 2.5-1.5 2-.2 2-.8 2-.7 5 .4 1.5 2.2 4 .3 1.5-.2 1-1 1-3 1.5z" fill="#fee8d2"/><path d="M16.5 8.8l-.6-1.3 0-1 1.1-.3 1.5 .2 0 .3zM17.5 31.6l-2.5 .3-1-.2-1.5-1.7-1.5-1-.6-1-.3-1 .6-2 .1-2 1.1-2 .6-2 0-.5-.8-1.5 0-1.5 .8-1.6 1.1-3.9 .2-.5 .7-.3 1 0 .3 .3 .3 1 1.4 .8 .7 1.2 0 2-.9 2-.1 2.5-1.6 1-.4 .5 .2 .5 1.1 .7 1.5-1.3 .5-.2 .5 .3 .8 2 2.6 3 .8 2.5 0 1-1.7 1.3-1 .5zM11.5 12.6l-1 .2-.2-.3 .2-1.8z" fill="#fdd5ad"/><path d="M18 30.6l-3.5 .4-2.9-3.5-.2-.5 .3-1 1.8-2.3 2.5-.7 2 0 1 .5 2.5 2.5 .6 2-.4 1-1.5 1z" fill="#fdb97d"/><path d="M17.5 30l-3 0-2.2-3 .2-.6 1-1 2.5-1.3 1.5-.1 1.5 .8 1.9 1.7 .2 1.5-1.1 1.2z" fill="#fd9c51"/><path d="M18.5 29.2l-2.5 .3-1.5-.4-1.3-2.1 .2-.5 1.1-.9 1.5-.7 1-.1 1 .3 1.4 .9 .8 1-.2 1z" fill="#f87d29"/><path d="M18 28.5l-1.5 .3-1.3-.3-.7-.4-.4-1.1 .4-.6 1-.5 1-.3 1 .2 1.5 1.2-.3 1z" fill="#e95e0d"/><path d="M17 27.7l-1-.1-.6-.6 1.1-.5 .5 .2 .5 .3z" fill="#cd4401"/></g></g>
<polygon points="202.3,234.3 203.2,231.4 205.7,230.6 208.6,230.6 210.6,229.2 212.5,230.6 214.5,233.3 218.9,236.7 217.4,238.7 215.0,237.2 213.0,238.7 210.6,241.1 208.6,241.3 206.7,239.7 203.7,239.2 202.3,237.2" fill="none" stroke="#1a1a1a" stroke-width="1.2" stroke-linejoin="miter"/>
<line x1="214.65" y1="207.47" x2="214.65" y2="249.82" stroke="#a8a8a8" stroke-width="1"/><line x1="193.90" y1="228.65" x2="235.40" y2="228.65" stroke="#a8a8a8" stroke-width="1"/><rect x="193.90" y="207.47" width="41.50" height="42.35" fill="none" stroke="#5c5c5c" stroke-width="1.0"/>
<g clip-path="url(#cp5_4)"><g transform="translate(193.9 252.4)"><path d="M16.5 41.1l-2-.3-2 0-4-1.4-1.5 .7-1-.1-4-5.5-.7-1.5-1.1-4-.3-4 .1-4.9 .6-1.6 0-2 .8-1 .4-1 0-2.5 1.7-2 5-4 1.5-2 .5-.2 1 .9 1 .4 2-.8 2-.3 2 .4 2-1 2-.1 3.4-1.3 2.9-2 6.2-.3 3 .3 .6 1 .8 2.5-.1 1.5-.8 1.3-5.7 6.7-.8 3.5-1 1.4 0 .9 1 2.2 1.5 1.5 0 .5-1.4 1.5-.1 .5 .4 2-1.4 3.5-2-.2-.2 .7 1 1.5-.1 2.5-.7 .3-2-.1-1 2.1-2 1-2.2 .7-.8 1.1-.5 .2-2-.1z" fill="#fff5eb"/><path d="M18.5 35.7l-2-.1-2 .4-4-1.1-2.5 .4-.9-.3-3.1-2-1.3-4.5 .1-7 .8-3 0-2 .7-1 1.7-1 1-1.1 1-.3 1.5-.1 2-.8 2.3-1.7 2.2-1.1 4.5-1.2 4-.3 .5-.3 .7-1.6 .5-.5 8.8-4.2 .1 .7 .9 1.5-.4 1.5-.6 .8-1 .1-1-.4-.5 .5-.5 2.5-.8 1.5-2.2 1.4-1.5 2.2-1 2.2-1.5 .1-.5 .3-1 2.6 .4 2.2 2.6 3 1.2 2.5 .1 .5-1.5 4.5-.8 .9-2 1.3z" fill="#fee8d2"/><path d="M16 34.5l-2.5-.2-3-1.1-2-1.5-2-.6-2-1.6-.4-.5 .4-2-.3-2.5 1-5 1.2-2.5 1.6-1.5 2.5-.7 1.3-1.3 1.9-1 1.6-1.5 1.2-.7 4-.8 2.5 .8 2-.1 .5 .3-.6 1.5-.3 2.5-2.6 3.8-.2 1.2 .9 2 2.7 3 1.1 2 .1 .5-.9 3-1 1.5-2.7 1.6-3.5 1.2z" fill="#fdd5ad"/><path d="M18 33.5l-3 .4-1.5-.3-2-1.1-1.5-1.6-2.5-1.4-1.9-2.5-.4-2 0-2 .6-2.5 2.2-3.5 2.5-1.3 1.9-1.7 2.1-1.1 2-1.9 4-.8 1 .4 1.3 .9 .8 1.5-.2 1.5-2.2 4-.2 2 2.5 3.2 1.4 1.3 .8 2-.6 2.5-.6 1.1-3 2z" fill="#fdb97d"/><path d="M16 33.1l-1.5 .3-1-.4-1.5-1.1-2-2.1-1.5-.9-1-1.9-1-1.1-.6-1.9 0-1.5 1.9-4 .7-.9 2-1.2 2-1.8 2-1 2-2 4-.7 1.8 1.1 .5 1.5-1 3-1.4 2.5 0 2 2.6 3.4 1.5 1.5 .3 1.1-.1 1-.7 1.6-1 .7-1.5 1.7-1 .5z" fill="#fd9c51"/><path d="M15.5 32.6l-1 .1-.4-.2-1.6-1-1.5-1.5-1.7-2.5-.6-2.5-1.6-1.5-.1-1 1.2-1.5 .5-2.5 1.8-1.1 2-2.1 2-1 2-2.1 2-.1 2-.7 1.4 1.1 .1 1-.6 3-1.5 2 .1 2.5 2.4 4 1.5 1.5 0 1-.4 .8-.9 .7-.7 2-.9 .8-2.5 .6-2-.1z" fill="#f87d29"/><path d="M20.5 31.7l-2 .2-3-.2-.5-.1-.5-.7-2-.1-1.2-1.3-1.1-2-.3-1 .2-1.5-1.4-1.5-.3-1 1.2-3 2.4-3.1 .5-.3 .5 0 1.5 1 .3-.1 .5-.5 0-2 1.2-1.6 1 0 .5 .3 .5 1.8 .8-.5-.4-1 .4-1 1.2-.4 .7 .4 .1 .5-.1 1-.4 .5 .2 .5-.1 1.5-1.2 1-.6 1 .5 2-.1 1.8-1.2 .2-.2 .5 .4 .4 1-.7 1 .2 2.5 4.1-1.4 2 .1 1-.3 1zM16.6 20l.6-1.5-.7-.6-.4 .6 .4 1.9z" fill="#e95e0d"/><path d="M16.5 16.5l0-2.2 .4 1.2zM20.5 31.3l-3 0-3-.9-1.5-.1-.5-.1-1-1.2-.8-2-.1-2.5-1.1-1.1-.3-.9 1.4-2 .7-2 1.2-1.5 2.2 1 .5 .5 .7 1.5 .6 2.7 1.3 .8 .7 .9 1.5-.4 .5 .1 .3 .4 .3 1.5-.6 3 .5 .6 .1 .9-.2 .5zM19 21.5l-1 .4-.5-.2-.4-.7 .4-1.2 1-.7 .7 1.4z" fill="#cd4401"/><path d="M16 29.6l-2 .3-1.5-.4-.8-1.5-.7-3.5-.9-1.5-.1-.5 .5-.6 1.8-1.4-.2-1.5 .4-.8 2 .5 .3 .3 .8 1.5 0 2 .3 .5 1.6 .9 1 1.6 1 1-.1 1-.8 1-2.1 .4zM18.5 21.2l-.5-.2-.1-.5 .6-.5 .3 .5zM18.5 30.1l-.2-.1 .4 0z" fill="#a13403"/><path d="M15 29.1l-1.5 .1-1-.5-1.6-5.7 .1-.5 1.6-1 1-1.5 .9-.4 .7 1.4-.5 2 .2 .5-.4 .2-.2 1.3 .3 0 .4-1.4 1.5 .1 1 .8 1 2.5-1 1z" fill="#7f2704"/></g></g>
<polygon points="202.7,271.4 204.7,267.8 207.8,265.3 211.3,263.2 214.4,263.2 216.4,264.7 217.4,266.8 215.4,268.3 213.9,271.3 213.9,273.9 215.4,275.9 218.0,277.0 219.5,279.5 219.0,283.1 215.4,284.6 212.9,284.6 210.3,286.1 207.8,285.1 205.2,282.6 204.2,279.5 202.7,276.5" fill="none" stroke="#1a1a1a" stroke-width="1.2" stroke-linejoin="miter"/>
<line x1="214.65" y1="252.42" x2="214.65" y2="295.47" stroke="#a8a8a8" stroke-width="1"/><line x1="193.90" y1="273.94" x2="235.40" y2="273.94" stroke="#a8a8a8" stroke-width="1"/><rect x="193.90" y="252.42" width="41.50" height="43.05" fill="none" stroke="#5c5c5c" stroke-width="1.0"/>
<g clip-path="url(#cp0_5)"><g transform="translate(237.7 11.5)"><path d="M19.5 35l-1 .4-2-1-10.5-.7-.8-.7-1.5-2-1.7-1-2-.7-.2-10.8 .2-6.7 1.2-.3 1.3-1.6 3-1.4 1-1.2 2-.4 1.5-1.4 1.9 0 .6 .6 2-.4 2.5-1 1.6-.2 1.9-1.1 2 .3 2.5-.4 2 .7 2 .3 .5 .2 .2 .5-.2 1 1.5 1.2 1-1.1 1-.4 4 3 2-.2 2.8 1.5 .3 .5-.6 2 1.5 .7 .2 1.3-.2 8.9-1.5 1.8-2.1 .3-.9 .5-.5 1 .4 2-3.9 1.3-1.5 1-2 .7-2 .5-2 1.4-2 .8-2.5-.7zM42.3 20.5l-.8-.2-.5 .2 .5 .4z" fill="#f7fbff"/><path d="M21 29l-4.5-.3-4 .2-2-1.8-1.1-.6-.9-1.7-1.8-.8-.9-1 .5-2-1.2-1.5-.2-1 1.4-4 .2-1.5 .1-.5 3.4-2.9 4.5-1.3 6.5-.1 5 1.1 3 1.5 .9 .7 1.1 1.6 1.3 .9 .4 1 0 1.5 1.2 2-.1 .5-.8 .8-2 .8-3.2 4.4-.8 .7-2.4 .8-.4 .5-.2 1.1z" fill="#e1edf8"/><path d="M21 27l-.5 .1-1-.4-.2-1.7-.8-.7-2 .3-1.5-.6-4.5-.5-1.5-1-1.2-2-1.4-1.5-.1-1 1.5-4.5 1.2-1.5 1.5-1.4 2-.1 2-1.1 5.5 .2 5 1.1 2 1.8 1.5 .3 .8 .7 1.8 3-.1 2-4 4.2-2.7 1.3z" fill="#ccdff1"/><path d="M21 25.1l-.5 0-1.5-1.3-2.5-1-4-.1-1-.3-4-3.2-.4-.7 .9-3.5 2-3.1 1-.5 1.5-.2 2-1.1 2 0 6 .7 2 .6 .9 .6 .9 1 .7 1.6 1-.2 .5 .2 1 2.9-.1 1-.9 1.5-1.5 1.3-3.1 1.7z" fill="#abd0e6"/><path d="M21 24.1l-.5 .1-4-2.4-4.5-.2-4-2.6-.2-1 .7-2.5 1.7-3 .8-.5 2.5-.5 1.5-.8 1.5-.1 2.5 .3 1.5 .5 2.5 0 2.7 1.6 1.3 2.7 .6 .3 .7 1 .3 1-.1 1-1 1.2-2.5 1.1z" fill="#82bbdb"/><path d="M21.5 23l-1 .4-2.9-1.9-1.1-.4-4 0-3.8-2.1-.4-.5 .1-.5 .5-2 .6-.9 .9-.6 .1-1 .3-.5 .7-.5 1.5-.2 1.5 .4 .5-1.2 1.5-.5 2.5 .3 1.5 .8 2.5-.2 2 1.1 .9 1 .8 2.5 1.3 1 .2 1-1.2 1.5-2 .5z" fill="#58a1cf"/><path d="M21 22.5l-1 0-1.4-1.5-.6-.3-1.5-.3-4 0-2.9-1.4-.6-.5 0-.5 .6-2 1.8-1.5 .5-1 .6-.3 1 .2 1 .8 .7-2.2 1.3-.7 2.5 .4 1 .6 .5 .6 2-.7 2 .9 .6 .4 .6 1 .3 2 1.4 1 .4 1-.8 1.1-2 .1-2 1.7z" fill="#3787c0"/><path d="M22.5 21.2l-1.5 .3-.5-.1-.9-.9-1.1-.5-2-.2-2 .3-2-.4-2.6-1.2-.2-1 .3-1 .8-1 1.2-.7 .5-.2 2 .3 .8-2.4 1.2-.9 2.5 .5 .6 .4 .9 1.4 .5 0 1.5-1.2 .5 .1 2.1 1.2 .3 .5 .1 2.3 1.5 .8 .4 .9-.4 .7-.5 .1-2-.7-1.1 1.9z" fill="#1b69af"/><path d="M22.5 20.5l-.5 0-.2-.5 .6-1-.3-.5-1.1-.3-.5 0-1.5 1-2.5-.1-2 .6-1-.3-2.5-1.1-.5-.8 .1-1 .9-.9 1-.5 2 .2 1.2-2.8 .8-.6 2.6 .6 1.4 2.3 .9-.3 1.1-1.1 .5 0 2 1 0 1.1-.6 2-1.8 1.5 .2 .5zM27 18.7l-.5 .1-.7-.3 .7-.5 .5 .3z" fill="#084d96"/><path d="M15 19.1l-1-.1-2-1.2-.5-.4-.2-.9 1.2-.9 2 .2 .4-.3 .9-2.5 .7-.8 2 .4 2 3 2.5-1.3 1.4 .7-.4 2-1 1-.5 0-2-.6-1.5 .9-1 .2-1.1-.5-.1-1.5-.3-.1-.3 .1 .2 1-.2 1z" fill="#08306b"/></g></g>
<polygon points="246.2,26.1 251.6,22.2 258.9,22.2 260.2,23.7 265.6,24.7 266.6,28.1 266.1,31.0 261.2,32.0 258.9,36.4 256.9,34.9 255.0,32.5 247.7,32.0 246.2,30.5" fill="none" stroke="#f7a41f" stroke-width="1.05" stroke-linejoin="miter"/>
<line x1="258.40" y1="11.47" x2="258.40" y2="53.77" stroke="#a8a8a8" stroke-width="1"/><line x1="237.65" y1="32.62" x2="279.15" y2="32.62" stroke="#a8a8a8" stroke-width="1"/><rect x="237.65" y="11.47" width="41.50" height="42.30" fill="none" stroke="#5c5c5c" stroke-width="1.0"/>
<g clip-path="url(#cp1_5)"><g transform="translate(237.7 57.1)"><path d="M21 39.5l-2.5-.4-2 .6-2-.8-6-1.1-2.5-1.7-2-.9-1.5-.3-1.7-1.9-.8-.4-.3-12.1 .3-11.6 2-1.4 2-.1 2-1.3 2-.5 2-1 2.5 0 2-.8 6-.5 2.5 .6 3-.1 7 .8 4 1.4 2 .3 1.5 1 2 .8 .5 .4 .3 8-.3 13.6-1.5 .4-.7 .5-.7 2-.6 .6-2.5 .9-2 1.7-4 1.2-2 1.1-4 .1z" fill="#f7fbff"/><path d="M25.5 29.6l-1 0-.7-.6-1.3-.3-2 .4-2-.4-2 .7-4-1.9-.7-.5-1.5-2.5-2.7-1.5-2.5-2.5-.9-4 3.7-4.5 2.1-1.3 4.5-1.8 4.5-1.3 5.5-.3 2.5 .5 6.5 2.6 2.4 2.1 3.6 1.8 3.5 2.5 0 3.1-.7 .6-1.7 2.5-2.1 1.7-2.5 1-3.9 .3-1.1 .5-2 .3-1 .7-1.2 1.5z" fill="#e1edf8"/><path d="M36.5 23.1l-1.5 .1-2-.6-6-.7-2.5 .3-3.5-.8-7-.8-4 .1-1-.7-1.1-1.5 0-2.5 .6-1.5 1.5-1.7 4.5-2 2-.2 4.5-1.5 4.5 .2 7.5 2.9 2.3 1.8 4 2.5 .8 1.5 .1 1-.3 1.5-1.4 1.6z" fill="#ccdff1"/><path d="M37 21.7l-1.5 0-5.5-1.2-.5-.5-.5-1.6-1.5 .9-1.5 .2-1.5-.1-1.3-.9-.7-.1-6 .7-2-.6-1.5 .8-1.5 .1-1-.4-.9-1-.3-1 .2-1.5 1.5-2 3.5-1.6 7-1.7 1.5-.2 2 .2 4 1.2 4 1.9 5 3.7 .6 1 .1 2-.5 1z" fill="#abd0e6"/><path d="M37 20.7l-1 .1-1.5-.6-4.5-2.6-1-.2-2.5 .2-1.5-.6-10.5 .7-2 .9-.5 0-1-.6-.3-.5-.1-2 .4-1 1.5-1 8-2.3 2.5-.4 1.5 .1 4.5 1.1 2 1.4 2.4 1.1 4.1 3.5 .3 1.5-.3 .8z" fill="#82bbdb"/><path d="M36 19.2l-3.5-1.7-1.5-2.3-.5 .8-1.5 .6-1.3-.1-2.7-.9-2-.2-4 1.2-2.5-.6-4 1.5-.7-.5-.4-1.5 .5-1 .6-.4 2-.1 6.5-2.1 2-.3 1.5 .1 4.5 1.2 2 2.1 2 .3 2 1.9 1 1.3 .2 .5z" fill="#58a1cf"/><path d="M25.5 14.1l-.5 .4-.5-.1-1.1-.9-.2-.5 1.8-.4 .9 .9z" fill="#3787c0"/></g></g>
<polygon points="244.1,75.2 249.8,70.0 255.1,69.2 257.1,67.5 264.2,67.5 268.1,70.0 273.9,73.7 278.2,74.3 279.1,76.5 277.2,77.8 275.2,79.8 270.8,79.8 269.4,77.8 260.4,77.5 259.1,75.9 249.8,75.7 245.3,77.5" fill="none" stroke="#f7a41f" stroke-width="1.05" stroke-linejoin="miter"/>
<ellipse cx="264.9" cy="90.8" rx="1.5" ry="1.5" fill="none" stroke="#f7a41f" stroke-width="1.3"/>
<line x1="258.40" y1="57.15" x2="258.40" y2="99.56" stroke="#a8a8a8" stroke-width="1"/><line x1="237.65" y1="78.35" x2="279.15" y2="78.35" stroke="#a8a8a8" stroke-width="1"/><rect x="237.65" y="57.15" width="41.50" height="42.41" fill="none" stroke="#5c5c5c" stroke-width="1.0"/>
<g clip-path="url(#cp2_5)"><g transform="translate(237.7 102.5)"><path d="M27.5 42.1l-1.5 0-1.5-.9-1.5 .6-.5-.1-.5-.8-1-.2-2.5 .9-2-2.1 .6-2-.1-.5-.5-.4-.4 .4-.4 1.5-1.2 .2-1-.1-.5-.4-.2-1.7-.3-.7-1 .9-1 .3-2.5-.4-1.5 .1-.5-.3-.6-.9-.2-2.5-.7-.9-.5-.2-1 .2-.7 .4-.3 .5-.5-1.5-1.1-.5-.3-2 .9-2-1-.7 0-2.7 1.5-.2 .6-.4-.5-.5-1.6-.6-.1-.9 .1-8.4 1.2-2.1-.5-2 .3-.5 1-.5 1.5 .2 .5 .6 .1-2.3-.9-1.5-.1-.5 1.4-.8 4-.6 1.4-.6-1.2-2 7.8-.3 17 .1 2.5 .2 3 1.5 2 .2 .7 .3-.9 2 .7 1.3 1.5 .6 .3 4.6 0 4-.3 2 .3 6-.3 9.5-.9 .5-.5 1-1 .5-1.1 2.2-1.6 .3-1.8 1.5-.5 1.5-.4 .5-2.2-.7zM4.1 21l-.1-.6-.2 .6zM4.5 25.5l2-.5-.5-.6-2.9 .1-.2 .5 1.1 .6zM14.9 35.5l.1-.5-.5-.5-1.2 .5-.1 .5 1.3 .2zM23.2 40l.2-.5-.4-.3-.5 .1 0 .9 .5 .1z" fill="#f7fbff"/><path d="M24 32.5l-1.5 .2-1.1-1.2-.4-.5 .5-2-.5-1-.5-.1-.5 1.6-.5 .5-1 .3-2-.2-.5 .9-1.5 .7-.3-.2-.3-.5 .2-2 .4-.6 2-.5 .5-.9-.3-.5-2.2-1.8-2 .6-.3-.8 .1-1.5-1.3-.7-1-.9-1.5 .2-.9-1.6-1.1-.8-.4-.7 2.4-.6 2-.1 .5-.3 .7-3.5 .8-1 .5-2.1 1.1-2.4-.1-1-1.5-.2-.6-.3-.2-1 .8-1.3 1.4 .8 .6 1.7 .3-1.2 .5-.5 2.7-.7 2-1.3 1-.2 .7 .7 .8 2.3 .5 .3 .7-.1 .6-.5-.8-1 0-1 .2-.5 1.3-.8 1.5 .2 1.1 1.6 1.4 1.2 2-.7 .5 .5 1.5 .2 .4 .3 .1 .5-.2 1.5-1.3 1.3-.3 1.2 1.3 1.1 .6-.6 .4-1.6 1-.5 1 .5 .7 1.1-.8 2.5-1 1.5 2.1 1.3 2.5 .2 .9 .5-.3 2-1.1 3.5-2 .4-2 1.2-.4 .9-.3 2.5 1.2 .8 .4 1.2-.9 .4-2-.3-2 .6-1-.4-1-1.1-4 .4-.8 .4 1.5 1 .2 1.5-.4 .6zM16.5 11.5l1.1-1-1.1-2-.9 .5-.4 1 .2 .5zM27.8 10.5l.9-.5-.2-.3-1.5-.2-.3 .5 .2 .5zM39.5 11l-.5 .1-.4-.6 .4-.5 .5 .2zM8.5 12.7l-.4-.2 .4-.2 .2 .2zM14.6 15l.1-.5-.2 0 0 .9zM16.6 21l-.1-.9-1.5-.6-1-1.5-2.8 0-.1 .5 .4 .2 2.5 .4 .5 2zM35.4 18.5l-2.5 0 .6 .3zM27.3 25l-.3-.5-.5 0-1 .5 1.5 .4zM23 35l-.5 .1 0-.6z" fill="#e1edf8"/><path d="M21 25.5l-1-.3-.7-1.2-1.3-.7-.6-.8 .5-6 .7-2 .3-2 .5-.5 1.6-.5 1 .3 1 .7 .8-.5-.1-1.5 .3-.4 .5-.4 .5 .1 1 1.4 3.9 1.3 0 3-.3 .5-1 .5 2.9 .8 0 2.3-.2 .4-2.3 1.2-.3 2.3-.2 .3-2-.1-1-.4-.5-.6-.5 0-1 1.1zM14.5 12.8l-.2-.3 .2-.5 .4 .5zM34 16.6l-1.5 .4-.5-.1-.2-.4 .8-2 .4-.3 1.2 2.3zM21 22.5l.5-.6 2-.5 .4-.4-.1-.5-1.3-.5-1.5 .1-.5 .8 0 2.1zM35 21.1l-2.1-.1 .6-.5 1.5-.2 .4 .2zM29 25.2l-.2-.7 .2-.6 .3 .6z" fill="#ccdff1"/><path d="M27 23.1l-1-.6-1.1-2-1.4-.8-2.2-.7-.5-.5-.1-.5 .6-2 1.3-1.5 .9-.7 3.5-1.7 .7 .4 .3 2-1.7 2 .7 .7 2 .7 .9 .6-1.9 1.9-.3 2.1zM19 21.7l-.5 .1-.4-.8 .4-1.5 .6 0 .4 .5 0 1z" fill="#abd0e6"/><path d="M25 16.3l-.5 .1-.5-.9 .1-1 .9-.4 .8 .4zM26.5 19.9l-4-1.2-.3-.2 .1-.5 1.2-1.1 1-.4 .5 .2 1.8 1.8 .2 1z" fill="#82bbdb"/></g></g>
<polygon points="248.0,110.8 250.0,108.3 252.3,107.8 254.3,106.3 256.2,108.3 255.2,110.2 251.3,113.6 249.5,114.1 248.0,112.8" fill="none" stroke="#f7a41f" stroke-width="1.05" stroke-linejoin="miter"/>
<polygon points="265.1,115.1 266.6,112.2 268.4,111.2 270.4,112.8 272.9,114.6 272.4,116.6 268.9,117.5 266.9,118.0 265.6,117.0" fill="none" stroke="#f7a41f" stroke-width="1.05" stroke-linejoin="miter"/>
<polygon points="263.1,120.5 264.6,119.0 267.9,119.0 270.9,119.0 273.9,120.0 275.2,121.4 273.4,122.9 270.9,124.4 267.9,124.9 265.6,126.8 264.1,127.3 262.6,124.4" fill="none" stroke="#f7a41f" stroke-width="1.05" stroke-linejoin="miter"/>
<polygon points="246.6,123.4 248.0,121.4 249.5,123.4 248.0,125.3" fill="none" stroke="#f7a41f" stroke-width="1.05" stroke-linejoin="miter"/>
<polygon points="250.7,132.1 251.7,130.6 255.2,130.3 256.2,132.1 255.2,133.8 251.7,133.8" fill="none" stroke="#f7a41f" stroke-width="1.05" stroke-linejoin="miter"/>
<line x1="258.40" y1="102.55" x2="258.40" y2="144.55" stroke="#a8a8a8" stroke-width="1"/><line x1="237.65" y1="123.55" x2="279.15" y2="123.55" stroke="#a8a8a8" stroke-width="1"/><rect x="237.65" y="102.55" width="41.50" height="42.00" fill="none" stroke="#5c5c5c" stroke-width="1.0"/>
<g clip-path="url(#cp3_5)"><g transform="translate(237.7 147.4)"><path d="M42.5 43l-11.5 .3-20.5 .1-2.9-.4-1.4-1.5-.5-2 .4-8.5-1.2-4 .6-4-.1-.5-1.4-.5-.5-1.5 .5-1.2 .9-.8 1.3-2-.6-2 .4-4.3 2-2.1 .5-.2 2 1.1 1.5-.5 .2-.5-.2-2 .5-2-.3-2 .9 0 .2 .5-.7 1.5 .3 .5 1.6 .3 2.3-4.8 3.7 0 2 1.1 .5-.2 .3-.9 1.2-.2 13 .1 .7 .1 1.3 .9 2 .4 .5 .5 1 2 .4 6.2-.2 29-.2 3.3zM10.6 12.5l-.1-.4-.5 .1-.2 .3z" fill="#f7fbff"/><path d="M27 43l-.8 0-.7-1.5-.5-.2-.7 .2-.7 1-.6 .3-6.5 .4-6.7-.2-1-1.5 0-2-.7-2 .7-2 2.2-2.3 1.5-1 2 .2 1.6-.4 .3-1-.4-.4-2.5-1-.5-.6 1-.9 2.5-.4 1-.7-1.7-1.5-.6-1-.6-2 .4-2-.3-2-1.7-2 1.5-2.5 1.3-.5 .7-2 5 1.5 1.5 .1 1-.6-.4-2 .9-2 2.5-2 4-1.5 2-1.2 4-.3 1.5 .3 1 .5 1.5 2.2 2 .3 .2 3.7-.2 15.6-1 .9-.8 5.5-.2 .5-2 1.2-1.5 1.5-1 .1-.5-.3-.5-1-.5-.1-.4 .6 .4 .7 .9 .3 .2 2 .6 1-.2 .5-5.8 1-1.7 1.2-1.1 .3zM23.2 17l.3-.5-.2-.5-.3-.6-.5-.1-.6 1.2 .6 .8zM31.2 18.5l-.3 0 .1 .3zM18.9 32l.3-1-.7-1.5-1.5 1.5 0 .5 .4 .5 1.1 .5z" fill="#e1edf8"/><path d="M17.5 42.6l-1 .2-2-.7-1.5 .3-2.5-.4-.5-1 .9-1.5 0-.5-.9-1.2-.1-.8 1.6-2 1-.7 4 .7 3.4-1.5 1.9-2.5 .1-1-.5-1 .2-.5 5.5 0 1.1-3.5 0-2.5 .8-3.4 1 2.6 1 1.2 2.5-2.5 1.5-.6 .5-1.3-.2-1.5-1.2-2.5-1.1-1.3-2 .8-.8-1.5-.2-2-1.5-1.3-.3-.7 .8-.7 2-.2 2-2.2 1.2 .6 .2 1-.1 1 .7 .7 .6-.2 .3-2 .6-.9 .5-.3 1 .3 1.5 1.3 2.3 1.1 .6 2-.9 2.5 .8 1.5 0 1.5-1 1-.4 1.5-.6 .5 .8 1.5 .2 4.5-1.4 2-.6 3.5-.3 .6-2-.2-1 1.5-1.5 .9-3 3.4-3 .5-2.4 .8-.5 1.5-.6 .7-4.5 1-1.5 1.3zM27.5 17.7l-.5 .3-1.5-.4-.5-.3-.1-.8 1.1-.5 1.1 0 .7 .5zM23.5 21.5l-.9 0-.4-.5 0-.5 .3-.6 1-.2 1.5 .2 .2 .6-.2 .5zM33.9 25l0-.5-.9-.8-.7 .3-.3 .5 .3 .5 .7 .3zM21 28l-.5-.5 0-1 .5 0 .3 .5z" fill="#ccdff1"/><path d="M39.5 21.6l-1 .2-.4-.3-.1-1-1.3-1-.4-1 0-2.5-.8-2.3-1-1.4-2-1.3-.3-.5 .2-1 .6-.6 2 .7 1-.5 .6-.6 .4-1.5 .5-.1 1.5 1.4 .5 .2 1.3 0 .4 1-.1 1-1.4 1.5-.1 .5 1.8 1 .4 1-.3 .7-1.1 .8-1.4 1.6-.5 .9 .2 1 1.3 1 0 .5zM17 41.5l-.5 .1-2-.9-2 .1-.3-.3 0-.5 .6-1.5 1.7-1.1 2.3 .1 .8-2 .9-.7 1 .2 .3 .5 0 1.5 .5 1 .7 .2 .4-.2 .4-.5 0-.5-.5-1.5 0-1 .2-1.1 .6-.9 .9-.6 2-.5 1.5-1.3 3.4-1.1 0-2 1.1-.7 2-.2 2.2-.6 .3-.5 0-.5-1.2-1.5 0-.5 .7-.7 1.5 0 1.5 .9 .9 1.3 .1 1-.5 .9-1.7 .6-.4 .5 .5 2-.9 .6-.5 1.5-1.5 1-1 1-2.1-.1-.2 2-1.2 .9-3 .4-1-.4-.5-.9-.5 .3-1.3 3.2-1.6 1-2.1 .6-1 1z" fill="#abd0e6"/><path d="M37.5 15.1l-.4-.6 .4-.3 1.1 .3zM41 14.5l-1.1 0 .6-.2zM37.5 25.5l-.8 0-.4-.5 .2-1 .5-.4 .5 .1 .6 .8 0 .5zM35 27.2l-1 .1-.8-.3 1.8-.1zM23 36.4l-.5 0-.3-.9 .3-1.9 .5-.6 2-.5 2-1.7 4-1.3 1.5 .4 1.2 1.1-1.2 .9-1.5 .3-1 .8-.3 2-.7 .5-2 .2-.5-.2-1.5-1.6-.5-.1-.7 .7zM18.5 38.3l-.3-.3 0-.5 .3-1.4 .3 .4 .1 1zM17 40.2l-.5 .2-2-.7-.3-.2 .1-.5 .7-.3 2-.1 .6 .4z" fill="#82bbdb"/><path d="M28.5 34.7l-1.5 .2-1.1-1.9 1.1-1.1 1.6-.9 2.4-.5 .5 .2 .3 .3-2.3 1.2-.4 .8-.1 1.4z" fill="#58a1cf"/></g></g>
<polygon points="265.1,155.8 267.9,152.3 274.8,151.9 278.8,154.3 279.2,154.9 279.2,161.6 276.8,160.6 268.9,160.1 266.6,158.2" fill="none" stroke="#f7a41f" stroke-width="1.05" stroke-linejoin="miter"/>
<polygon points="246.1,183.6 248.0,181.1 250.5,181.6 252.8,183.6 256.2,182.1 258.2,181.1 261.6,178.7 265.1,177.2 269.4,177.7 270.4,179.7 267.9,180.6 264.1,182.1 260.6,185.5 257.8,187.5 255.8,188.9 250.5,188.9 247.1,186.5" fill="none" stroke="#f7a41f" stroke-width="1.05" stroke-linejoin="miter"/>
<polygon points="252.3,166.5 256.8,162.1 259.6,165.0 258.6,168.0 256.2,170.4" fill="none" stroke="#f7a41f" stroke-width="1.05" stroke-linejoin="miter"/>
<polygon points="260.1,164.5 262.6,162.6 264.6,164.0 262.1,166.5" fill="none" stroke="#f7a41f" stroke-width="1.05" stroke-linejoin="miter"/>
<polygon points="271.4,166.5 272.9,164.5 275.8,164.0 278.2,165.5 277.8,168.9 274.8,170.4 272.4,169.4" fill="none" stroke="#f7a41f" stroke-width="1.05" stroke-linejoin="miter"/>
<line x1="258.40" y1="147.40" x2="258.40" y2="190.00" stroke="#a8a8a8" stroke-width="1"/><line x1="237.65" y1="168.70" x2="279.15" y2="168.70" stroke="#a8a8a8" stroke-width="1"/><rect x="237.65" y="147.40" width="41.50" height="42.60" fill="none" stroke="#5c5c5c" stroke-width="1.0"/>
<g clip-path="url(#cp4_5)"><g transform="translate(237.7 207.5)"><path d="M16.5 35l-1.5 .1-1.5-.3-1.5-.6-1.5-1.1-1.7-.6-1-1-.9-2-.3-1.5 0-2.5 1.5-4 .2-1.5-.1-1.5-1.2-4 .6-6-.1-2.5 2-2.7 2-.8 7-.5 2 .5 4 .3 1 .6 .5 .6 0 3-.3 1.5-1.5 3.5 .2 2.5-2.2 6.5 .4 1 3.4 4.5 .4 1.5-.1 1.5-.8 1.6-1.5 1.2z" fill="#fff5eb"/><path d="M16.5 33.1l-1.5 .4-1.5-.3-4-2.2-.7-1.5-.4-3 1.1-2.6 2-2.2 1-.3 2 .3 4-.9 1.9 2.2 2.7 2 1.4 2.3 .2 1.7-.7 1.3-1 .9z" fill="#fee8d2"/><path d="M17.5 31.5l-3 .5-3.5-1.9-.6-.6-.4-1.5 .5-2 1-1.5 1-1 2-.1 2-.5 1.5 .1 3.5 2 .8 1 .6 2-.4 1.5-.5 .5-2.5 1.1z" fill="#fdd5ad"/><path d="M18.5 30.7l-4-.2-2.4-1.5-.3-1.5 .5-1.5 .7-1 1-.7 3-.6 1.5 .5 2.1 1.3 .9 1.5 0 1.5-1.5 1.5z" fill="#fdb97d"/><path d="M18.5 30l-3-.5-1.9-1.5-.1-1.5 .9-1.5 1.6-.6 1-.1 1 .4 2.3 1.8 .3 1-.3 1-.8 1z" fill="#fd9c51"/><path d="M19 29.1l-.5 .3-1.5-.2-1.6-1.2-.4-1.5 .4-1 .6-.5 1.1 0 2.4 2.5-.1 1z" fill="#f87d29"/></g></g>
<polygon points="246.1,234.3 247.0,231.4 249.5,230.6 252.3,230.6 254.3,229.2 256.2,230.6 258.2,233.3 262.6,236.7 261.1,238.7 258.8,237.2 256.8,238.7 254.3,241.1 252.3,241.3 250.5,239.7 247.5,239.2 246.1,237.2" fill="none" stroke="#1a1a1a" stroke-width="1.2" stroke-linejoin="miter"/>
<line x1="258.40" y1="207.47" x2="258.40" y2="249.82" stroke="#a8a8a8" stroke-width="1"/><line x1="237.65" y1="228.65" x2="279.15" y2="228.65" stroke="#a8a8a8" stroke-width="1"/><rect x="237.65" y="207.47" width="41.50" height="42.35" fill="none" stroke="#5c5c5c" stroke-width="1.0"/>
<g clip-path="url(#cp5_5)"><g transform="translate(237.7 252.4)"><path d="M23.5 40.1l-.5 .3-.5-.1-1-1.3-1-.3-2 1.8-2-.2-2-1.7-2 1.8-2.5-.5-3 .1-3.4-3-1.6-2.5-.9-3.5-1.1-2 .6-2-.6-1.9-.1-2.6 .8-8 1.2-2.5 1.5-1.5 .7-2 1.9-2.4 2-.8 2.5 .3 2-1.6 1.4-.5 .6-1.3 .1 1.8 .3 .5 1.6 .5 1.1-.5 .9-1.9 3 .5 .5-.1 .9-1 4.1-.9 1.5-1.1 5-.3 4.6 .3 .9 .8 .6 1.2-.8 3-1.3 2.8-2.6 2.2-1.4 4.5-2.1 2 .1 1.2 1.1 .8 .1 .5-.6 1.5-.1 2-1-.1-.5 2.1 .5 1.7 .8 .8-.2 2-1.3 2-1.3 4.4-2 1.2-1-.1-1-1.3-.3 .3-.5 2 0 1.5z" fill="#fff5eb"/><path d="M17 36.1l-2.5-.5-2 .2-2.5-.9-2.5-.2-3-1.9-1.6-4.3-.3-2 0-6 1.4-4.8 1.3-1.7 .7-1.5 1-.3 3 .2 2.1-.9 2.4-1.9 1-.3 6.6-1.3 2.4-.8 1.5 .1 1 1.1 .6-1.9 1.4-2 2-.1 .8-.4-1.6-.5 .2-1.5 2.6-1.6 1 0 1 .4 .7 .7 1.2 2.5-.4 .6-1.5 .5-1.2 1.4-1.8 1.4-2.5 2.8-4 3.8 .4 .5 .2 1.5-2.3 3 .4 2 .8 .9 1.2 .6 1.2 3 .2 2-.6 3-1.5 1.6-3 1.8-2 .4-2 1z" fill="#fee8d2"/><path d="M18 34.5l-1.5 .4-4-.7-2-1.3-2.5-.5-2.5-2.2-1.7-3.2 .1-6 1.4-3 2.2-2.3 2.5-1.2 4.5-3.3 4-1.5 4.5 .2 1.5 .7 .4 .9 .1 1-.8 2 .1 2-1.8 1.5-.3 1.5 .9 2.5 2.3 2.5 .8 1.5 .3 1.5-.3 2-.6 1.5-1.6 1.3-2 1z" fill="#fdd5ad"/><path d="M17 34l-1.5 .1-3-.8-1.5-1.4-2.5-.9-2-1.7-1.6-2.3-.1-4 .5-1.5 1-1-.2-1.5 .2-.5 1.2-1 .5-1 2-.7 2-2 3-2 3-1.3 1-.1 1.5 .5 2 .2 1 1.4 .2 1-.2 2-1.9 2.5-.1 2 1 2.5 2.7 3 .5 1.5 0 1-.5 2-1.4 1.5-2.8 1.4-2.5 .4z" fill="#fdb97d"/><path d="M16.5 33.5l-1.5 0-1.8-.5-1.2-1.7-2-.9-1.8-1.4-2.2-2.4-.4-3.6 1.3-2 .6-1.5 1-1 .3-1 .6-.5 1.1-.4 1.6-2.1 3.9-2.4 2.5-1.1 .5 .1 3 1.2 1.1 1.2-.1 1.8-1.5 1.3-.5 .9-.1 3 .8 2 2.8 3 .6 1.5 0 1-.6 1.7-1.2 1.3-2.3 1.2-2.5 .5z" fill="#fd9c51"/><path d="M16.5 33l-2.1 0-1.1-1-.2-1-3.1-1.5-1.3-1.5-.5-1.5 0-1.5-1.2-.5-.4-.5-.2-1 2.9-5 1.7-1.2 1.5-1.9 2-.9 1.5-1.2 2.5-1 3.5 1.4 .7 .8-.2 1-1.5 .7-.8 .8 .2 4 .6 2 3.1 3.5 .3 1.5-.4 1.1-1.1 .4-.1 1-.8 1-1.5 .8-2 .4z" fill="#f87d29"/><path d="M16.5 32.6l-1.5-.1-.7-.5-.4-1-3.9-2.3-1-1.7-.1-2-1.8-2 .9-2 1.6-2.5 1.9-1.5 1-1.3 2-.8 2-1.7 2-.5 1 .3 .5 .5 .3 1-.8 1.4-1.4 .6 1.1 .5 .6 1 .2 2.5 .5 2.1 3 3.4 .4 1-.5 1-1.8 1 0 1-.8 1z" fill="#e95e0d"/><path d="M16.5 32.2l-1-.2-1-1.3-4-2.2-.5-.5-.6-1-.1-2.5-1.4-1.5 0-.5 .6-1.3 1-1.1 .6-1.6 3.4-2.4 2.2-.6 .8-1.4 2-.7 .5 .2 .6 .9-1.1 1-2.2 .5-.2 .5 .2 1 .2 .2 .5-.3 1.5 0 .7 .6 .3 .5 .1 2 .4 2 3 3.8 .3 .7-.4 .5-2.4 1.5-.2 1-.5 .5zM14.8 19l.5-.5-.8-.3-.3 .3 .3 .7z" fill="#cd4401"/><path d="M18.5 14.6l-.5-.1 .5-.2 .2 .2zM17 31.5l-.5 .2-.7-.2-1.3-1.4-4-2.2-.7-.9 0-2.5-1.2-1.5-.1-.5 .9-1 1.1-.7 .1-1.8 .6-.5 1.3-.4 2 2.7 2-1.3 1-1.2 1-.3 .5 .5 .2 2.5 .6 2 2.8 4-3.1 1.7-1.6 2.3z" fill="#a13403"/><path d="M15.5 29.3l-1 0-4-1.9-.3-.9 .3-2-.9-1.5 .1-.5 1.3-1 1-1.9 .5-.1 1.2 1.5 .8 .4 2-.7 2-1.4 .8 3.7 2 3.5 0 .5-.8 .4-2-.1-.5 .8-1.5 .4zM17 31l-.5 .3-.5-.3-.2-1 .2-.4 1.1 .4z" fill="#7f2704"/></g></g>
<polygon points="246.5,271.4 248.5,267.8 251.6,265.3 255.1,263.2 258.1,263.2 260.1,264.7 261.1,266.8 259.1,268.3 257.6,271.3 257.6,273.9 259.1,275.9 261.8,277.0 263.2,279.5 262.8,283.1 259.1,284.6 256.6,284.6 254.1,286.1 251.6,285.1 249.0,282.6 248.0,279.5 246.5,276.5" fill="none" stroke="#1a1a1a" stroke-width="1.2" stroke-linejoin="miter"/>
<line x1="258.40" y1="252.42" x2="258.40" y2="295.47" stroke="#a8a8a8" stroke-width="1"/><line x1="237.65" y1="273.94" x2="279.15" y2="273.94" stroke="#a8a8a8" stroke-width="1"/><rect x="237.65" y="252.42" width="41.50" height="43.05" fill="none" stroke="#5c5c5c" stroke-width="1.0"/>
<g clip-path="url(#cp0_6)"><g transform="translate(281.4 11.5)"><path d="M16.5 35.5l-1.2-.5-.8-1-2-.1-2 .8-8.5-4.8-2-.2 0-1.8 .5-.9-.5-.5-.2-1.5 0-7.5 .2-2 .8-1-.8-1.1-.1-1.4 .1-.5 1.6-1 .4-1.7 .5 .1 1.5 1.2 1-.9 2-.7 .5-.5 .5-1.3 .5-.4 2-.1 .5-.8 .5-.3 2.5-.2 4.5 .2 4-1.7 .5 .1 2 1 2-.4 2 .1 .4 .3 .6 1.5 .5 .5 .5 .4 1-.2 .3 .3-.4 1 .4 .5 1.2 .2 1.5-.7 2 .7 2.6 1.3 .5 .5-.7 2 2.1 .9 1.5-.1 0 2.8-1.5 .3-.1 1.6-.8 .5 .3 1 .2 1.5 .7 1.5 .2 1.5-.1 .5-1.9 3.1-2.5 .8-2.5-.2-.7 .8 .5 2-1.8 .5-2-.8-2 2.1-2.5 .7-1.5 1.3-.5 .1-3.5-.8-2 .1zM33.5 6.6l-1 .4-.4-.5 .9-.7 .5 .2zM43 19.4l-1-.3-.4-.6 .4-1.1 1-.1z" fill="#f7fbff"/><path d="M13 30.1l-.5 .1-1.5-1.8-2.5-.7-.9-.7-.1-1 .2-1-2.3-4.5-1.1-1.5-.2-.5 .9-1.5 .7-3 .7-1 4.1-3.4 3.5-1.4 2.5-.4 6 .2 2 1.5 2.5 .7 2 .2 .9 .6 1.1 1.9 .8 .6 .6 1-.3 2 .3 2.5 2.6 1.5-.1 .5-1.9 1.5-2-2-1 2.7-1 .7-2-.1-.5 .3-.5 .9-.3 1.5-.7 .4-1.5 .4-.3 1.7-.7 .5-4 .2-2-2.7-2.4 2.5z" fill="#e1edf8"/><path d="M20 26.1l-1.5 .2-2-2.3-2-.1-6-2-1.2-1.4-1.1-2 .3-3 1.3-2 2.7-2.4 3.5-1.8 4.5-.3 1 .2 2.3 1.3 2.7 .2 2 .8 2.5 .4 .5 .6 .8 2 .2 4-2 2.8-3.4 1.7-1.6 2.1z" fill="#ccdff1"/><path d="M20 25.1l-1.5-.1-2-2-7.5-2.2-1-.8-.8-1.5-.2-2 .6-1.5 2.9-2.9 4-2.2 4-.3 2.4 1.4 2.6 .2 1.5 .9 3.5 .6 .6 .8 .5 4 0 1-.6 .9-1.6 1.6-4.4 1.9-.6 1.6z" fill="#abd0e6"/><path d="M21 24.2l-2 .1-2.5-2.1-2.5-.5-1.9-1.2-3.1-.6-.8-.9-.5-1-.1-1.5 .4-1 3-2.8 1.5-.7 1.9-1.5 1.1-.2 3-.1 2 1.4 2.5-.1 2 1.3 3 .9 .5 .7 .3 1.1-.2 3-2.1 2.3-1.5 .7-2.2 .5-.8 1.5z" fill="#82bbdb"/><path d="M21 23.6l-1 .1-1-.2-2.3-2-2.7-.4-.8-.6-.7-1.1-1.5 .4-1.5-.3-1.2-1.5-.3-1.5 .3-.5 2.2-1.5 1-1.3 3-1.9 1.5-.4 2.5-.2 2 1.5 2.5-.4 1.5 1.2 2.3 1 .7 .5 .2 1-1.4 3-.1 1.5-1.2 1-2.5 .3-.9 1.7z" fill="#58a1cf"/><path d="M20.5 23.2l-1.5-.4-1.5-1.8-1-.3-2 .2-1-.9-1-1.7-1.5 .9-1 0-.8-.7-.5-2 1.8-1.1 1.9-1.9 3.6-1.8 2.5-.3 2 1.3 1.5-.6 1 0 1.5 1.4 2 1 .1 1-.4 1.5-.6 2.5-.6 .9-3 .3-.4 .3-.3 1.5z" fill="#3787c0"/><path d="M19.5 20.1l-1 .1-2-.3-2 .4-2-2.6-2 1.1-.6-.3-.2-1 .2-.5 .6-.3 2.3-2.7 2.2-1.2 1.5-.4 2-.1 2 .9 .5-.1 1-.6 1 0 1 1.3 1.6 .7 .2 .5-.2 2-.6 2-.5 .7-2.5 .3-.5-.1-1-1-.5 .9zM20.5 22.5l-.5-.5 .5-.2z" fill="#1b69af"/><path d="M22.5 19.5l-2-1.5-2 1.3-2-.4-2 .8-1-1.5-1.9-1.7 1.6-2 2.6-1.5 2.7-.3 2.5 1 1.5-.7 .5 .5 .3 1 1.2 .2 .4 .3 .2 1-.3 1.5-.8 1.5z" fill="#084d96"/><path d="M23 19l-.6 0-1.4-1.5-.5-.1-2 1-2-.1-2 .5-1.9-2.3 .9-1.4 1.5-1.2 1.5-.7 2-.2 5 2.5 .5 .5 0 1.5-.4 1z" fill="#08306b"/></g></g>
<polygon points="289.9,26.1 295.3,22.2 302.6,22.2 304.0,23.7 309.4,24.7 310.4,28.1 309.9,31.0 305.0,32.0 302.6,36.4 300.6,34.9 298.7,32.5 291.4,32.0 289.9,30.5" fill="none" stroke="#f7a41f" stroke-width="1.05" stroke-linejoin="miter"/>
<line x1="302.15" y1="11.47" x2="302.15" y2="53.77" stroke="#a8a8a8" stroke-width="1"/><line x1="281.40" y1="32.62" x2="322.90" y2="32.62" stroke="#a8a8a8" stroke-width="1"/><rect x="281.40" y="11.47" width="41.50" height="42.30" fill="none" stroke="#5c5c5c" stroke-width="1.0"/>
<g clip-path="url(#cp1_6)"><g transform="translate(281.4 57.1)"><path d="M23 38l-4.5 .3-2-.5-2 .3-2-.7-2 0-2-1.4-2.5-.4-3.9-2.6-.9-1-.4-1-.8-.5-.2-10 .2-10.5 2-2 2 .7 .5-.2 1.8-2 1.7-.7 2-.5 1 .1 1.5 .6 1.5-.9 4.5-.9 6.5-.1 2 .7 2-.6 6 2.7 2.5 .5 2 1.9 3.5 2.3 .3 5.4-.1 6.5-.2 3.6-1.2 1.9-1.3 1.4-1.9 2.6-3.1 1.7-2.5 .7-1.5 1.1-2.3 .5-1.7 .8-2.5-.1z" fill="#f7fbff"/><path d="M22 26.7l-1.5 0-2-1.1-1.5 .3-.5 .9-.6-1.8-1.4-.5-2 .4-1-1.1-3.2-.8-2.3-1.7-1.2-2.8 0-1.5 .6-1.5 1.9-2.5 2.2-1.8 3-1.5 6.5-1.6 3.5-.6 2.5 .1 2.5 .6 5.5 2 2 1.2 4 3.1 2.5 1.3 1.4 1.7 .1 2.7-2 2.5-3 2-5 1.2-4-1.1-1 .2-1.5 .8-3.5 .1z" fill="#e1edf8"/><path d="M36.5 23l-2 .4-3.5-1.2-2 .1-4-.5-2.5-.9-1.5-.2-2.5 .1-4-.5-2 .5-1-.1-2-.8-1-.9-.6-1.5 .2-2.5 .5-1 1.4-1.2 3-1.5 3.5-1.2 6.5-1 6 1.1 2.5 1 5.5 3.3 3 2.5 .7 1.5-1 2.5-1.2 1.1z" fill="#ccdff1"/><path d="M36 22l-1.5 .1-3.5-1.6-2 .2-2-.9-2 .5-2-1.1-2-.3-6.5 .1-2 .7-.5-.1-1-.4-1.4-1.2-.4-1 0-2 .3-.7 1-.8 3.5-1.7 4.5-1.2 5-.4 5.5 1 2 .8 6 3.5 1.8 1.5 .5 1.5-.3 1.5-1 1.2z" fill="#abd0e6"/><path d="M36 21.1l-1-.1-2-.7-2-1.4-2 .1-2-.9-2.5-.5-1.5-.7-2 .6-6.5 .6-2 .8-.5-.1-1.6-1.3-.5-2 .6-1.2 2-.8 2-1.3 5-1 3.5-.3 2 .2 5.5 1.5 6.8 3.9 1 1.5-.1 1.5-.7 1z" fill="#82bbdb"/><path d="M36.5 20.1l-1 0-1.5-.4-2.5-1.5-2-.6-2.5-1.3-2 0-2-.5-2.5 .7-6 .8-2 .8-1-.5-.5-.5-.3-1.6 .3-.6 3.5-2 6-1.2 4.5-.1 2 .9 2 .3 1.5 .5 5.8 3.2 1.1 1.5-.3 1.5z" fill="#58a1cf"/><path d="M13.5 16.5l-1 .3-.5-.3-.2-.5 .3-.5 2.6-1.5 5.8-1.7 4.5-.2 .8 .4 1.1 1.5-.1 .5-.7 .5-1.1 .3-3.5-.3-1-.4-1.9 .9-1.1 0zM35.5 18.6l-2-.3-3-1.3-3-1.8-.4-1.2 .9-.5 1 0 4 2.1 2.2 .9 .9 1.5z" fill="#3787c0"/><path d="M24.5 14.2l-2-.2-.2-.5 2.2-.8 .5 .2 .2 .6-.2 .5z" fill="#1b69af"/></g></g>
<polygon points="287.8,75.2 293.6,70.0 298.8,69.2 300.8,67.5 308.0,67.5 311.9,70.0 317.7,73.7 322.0,74.3 322.9,76.5 321.0,77.8 319.0,79.8 314.5,79.8 313.2,77.8 304.1,77.5 302.8,75.9 293.6,75.7 289.1,77.5" fill="none" stroke="#f7a41f" stroke-width="1.05" stroke-linejoin="miter"/>
<ellipse cx="308.6" cy="90.8" rx="1.5" ry="1.5" fill="none" stroke="#f7a41f" stroke-width="1.3"/>
<line x1="302.15" y1="57.15" x2="302.15" y2="99.56" stroke="#a8a8a8" stroke-width="1"/><line x1="281.40" y1="78.35" x2="322.90" y2="78.35" stroke="#a8a8a8" stroke-width="1"/><rect x="281.40" y="57.15" width="41.50" height="42.41" fill="none" stroke="#5c5c5c" stroke-width="1.0"/>
<g clip-path="url(#cp2_6)"><g transform="translate(281.4 102.5)"><path d="M24 43l-2.1 0-.4-1-.5-.2-2.5 .5-1.2-2.3-.8-.5-1 .8-1 .4-2.5-.1-2.5-.8-3-2-1.9-.8-.6-1.1-.1-.9 1.6-1 .1-1-1.6-2.3-.9-2.2-.6-.6-1.5 .1-.3 1 .3 2-.5 .8-.5 .3 0-4.4 .6-.7-.6-.5-.1-.5 .1-5 1-2.5-1.1-1.5 .1-4.5 1.2-1.5 1-2.5-.1-.5-1.4-1.5 .1-.5 2-1 .6-2 .6-.5 .9 .5 .7 1.5 .4 .4 1-.4 1.5-1.5 .5-1-.5-1-2.5-.4-.7-.6 19.7-.3 8.9 .3 3.6 2.2 3 .5 .3 .3 .7 2.1 1.5 .6-.1 2.8 .4 6-.3 17.3-1.5 .2-1.3 1 .3 .7 1.5 .6 .4 .7-.9 .9-1-.1-.8-.8-2-3-.2-.2-.5 .2-.8 2-.8 1 0 .5 2.4 1.5 .3 2-.3 .5-1.3 .1-1.6-1.1-1.4 2.7-.5 .5-2-1.7-1.5 0-1.5-.5-.3-.5 .5-1.5-1.2-.6-.4 .6 .2 1.5-.3 .7-.5 .4-3.2 .9-.6 .5 2.2 1.5zM41.8 10.5l-.3-.6-.5 .6 .5 .3zM2.2 25l-.2-.6-.1 .6zM6.1 35l-.1-.2-.2 .2 .2 .4zM10.7 37.5l-.2-1.1-.5 .3-.2 .8 .2 .3 .5 .1zM34.2 38l0-1-.7-.3-1.4 .3-.2 .5 1.1 .8z" fill="#f7fbff"/><path d="M27 3.7l-.5 .1-.3-.8 .1-1 .7-.3 .7 .3zM31.5 3.2l-.5 .2-.5-.3-.8-1.1 1.3-.5 .5 .3 .3 .7zM19.5 32.6l-1 .3-.5-.4-.9-2.5-.9-1 1.1-2-.8-1-2 .8-1.4-.3-.6-.7-2 .1-.4-.4 .1-2.5-.5-1-.2-2.2-.4-.8-.7-.5 1.7-2-1.1-2 .6-.5 .5-2 .4-.6 2.5-.3 .3-3.1 1.2-.9 1.1-.1 .8-1 .8-.5 .5-1.5 .8-.6 2.5-.4 1.7 1 .3 .5 4-.3 1.5 1 2 .4 2.5 1.2 1.3-1.3 .7-.2 .6 .7 .8 2-.1 2.5 .2 .7 1.9 1.3 .2 1 .9 1.5 .4 6-.2 2-3 2-.9 2.5-1.6 1-.8 1-.4 .2-1-1.2-1-.2-2 1.7-2 .4-2-.2-2 .3-2 1.6zM22.2 6.5l.8-.5-.2-.5-2.3 .1-.8 .4 .1 .5 .7 .5zM16.7 8.5l-.2-1.3-.4 .3-.1 .5 .5 .8zM32 10.5l-.2-.5-.8-.4-.3 .4-.1 .5 .4 .4zM14.6 16l2.6-3 .1-1-.8-.9-3 .6-.9 1.8-1.4 .5-.5 .5 .3 .5 .5 .2zM14.8 23l.1-.5-.2-2 .4-2-.6-1.2-1 1.2 .8 2-1 2 .2 .5 1 .2zM37.7 20.5l-.2-1.5-.5 1.5zM29.7 23l-.3-.5-.4-.1-.4 .1-.2 .5 .6 .4zM8.5 27.1l-.2-.1 .2-.2 .4 .2zM25 33.7l-.5-.3-.2-.4 .2-.6 .5-.3 .5 .9z" fill="#e1edf8"/><path d="M23 23.5l-.5 0-1.1-1-1.4-.5-.6-1 .3-1.5 1.7-1 .1-2-1.1-.5-.8 .5-.6 .9-.5 .2-1-.1-.5-.5 0-.5 1.7-2-.2-2.2 .5-.4 1.5-.1 .8 .2 1.2 .9 1.7-.4 1.5-1 1.3-3.3 1.5 2.3 2.5 2.9 2 .6 .3 .5-.8 .9-.3 1.1 .3 1.3 .7 .7 .3 2-.4 .5-2.1 1.2-2-.4-1 .1-.5 .2-.5 1-1.5-.8-1 0zM17.5 23.1l-1 .3-.3-.4 .3-1.1 1 .6zM29.5 25.1l-.7-.1 1.1 0z" fill="#ccdff1"/><path d="M25 21.5l-1.3-.5-1.3-3-.4-1.8-1.9-1.2-.3-.5 .7-1.3 2.5 .4 4-.8 1.2 .7 .2 1-.3 1-1.5 1 .4 .4 2.7 .6 1.5 3-.4 .5-1.8 .4-1.3-.4-.7-.9zM21.5 21.1l-.5 .2-.7-.3-.2-.5 .4-.6 .5-.1 .6 .2 .2 .5z" fill="#abd0e6"/><path d="M29.5 20.6l-.5 .3-.5-.2-1.5-1.4-2 1.6-.5-.2-.9-1.7-.9-3-.7-.9-1.3-.6 .8-.3 3 0 2.5-.6 .8 .9-.2 .5-1.8 1.5 1.2 1.3 2 .4 .6 1.3 .1 1z" fill="#82bbdb"/><path d="M26.5 15.1l-.5-.2-.3-.4 1.3-.3 .2 .3-.2 .4zM25 19.9l-.5-.4-.4-1 0-1 .4-.8 .5 0 1.5 1.8z" fill="#58a1cf"/></g></g>
<polygon points="291.7,110.8 293.7,108.3 296.1,107.8 298.1,106.3 300.0,108.3 299.0,110.2 295.1,113.6 293.2,114.1 291.7,112.8" fill="none" stroke="#f7a41f" stroke-width="1.05" stroke-linejoin="miter"/>
<polygon points="308.8,115.1 310.3,112.2 312.2,111.2 314.2,112.8 316.6,114.6 316.1,116.6 312.7,117.5 310.7,118.0 309.3,117.0" fill="none" stroke="#f7a41f" stroke-width="1.05" stroke-linejoin="miter"/>
<polygon points="306.8,120.5 308.3,119.0 311.7,119.0 314.6,119.0 317.6,120.0 319.0,121.4 317.1,122.9 314.6,124.4 311.7,124.9 309.3,126.8 307.8,127.3 306.4,124.4" fill="none" stroke="#f7a41f" stroke-width="1.05" stroke-linejoin="miter"/>
<polygon points="290.3,123.4 291.7,121.4 293.2,123.4 291.7,125.3" fill="none" stroke="#f7a41f" stroke-width="1.05" stroke-linejoin="miter"/>
<polygon points="294.4,132.1 295.4,130.6 298.9,130.3 300.0,132.1 298.9,133.8 295.4,133.8" fill="none" stroke="#f7a41f" stroke-width="1.05" stroke-linejoin="miter"/>
<line x1="302.15" y1="102.55" x2="302.15" y2="144.55" stroke="#a8a8a8" stroke-width="1"/><line x1="281.40" y1="123.55" x2="322.90" y2="123.55" stroke="#a8a8a8" stroke-width="1"/><rect x="281.40" y="102.55" width="41.50" height="42.00" fill="none" stroke="#5c5c5c" stroke-width="1.0"/>
<g clip-path="url(#cp3_6)"><g transform="translate(281.4 147.4)"><path d="M41 43.1l-24.5 .3-6.5 0-2.9-.4-1.5-3.5-.4-2 .8-2.5-.1-2 .6-.5 .6-1.5 .1-2-.4-1-1.1-1-.2-2.5 .2-1.5-.6-2-.1-4.5 1-2.6 .5-.6 1 1.1 0 2.1 .5 1.7 .5 .1 1.5-1.8-1-2-.1-2-.6-2 1.8-2.5-.2-1.5 .3-.5 1.1-1 1.2-2.2 1.5-1.2 2.8-.6 1.5-1 8.2 0 2.5-.2 4.3 .2 1.7 .4 1.3-.4 2.3 0-.1 2 .5 .2 .5 .1 2-.8 1.5 .4 .4 7.6-.2 32-.2 1.2zM16.6 6l-1.6-.4-.5-1.8-.2 .7 .2 1.6zM4.5 29.8l-.5 .1-.4-.9 .4-.6 .5 0 .5 .5z" fill="#f7fbff"/><path d="M25 43.1l-14.5 .1-1.2-.2-.3-.5-.5-2-.3-2 .3-2.8 .5-1.1 3.5-2.4 1 .1 1 .8 2 .1 .8-1.7 .1-.5-1.4-1.5-.5-1.3-1.5-2.2-.3-1 .3-2.5-.2-2 .7-.7 .3 .2 .9 2 .8 1.1 1.8-2.6 .4-2-1.5-1.5-1-2.5 .9-1 1.9-.7 1-.8 1.4-.5 1.1-1.3 .5-.2 1.5 .9 1-.3 .2-.6-.5-1.5 2.7-4 1.1-1 2 .6 2-.8 2-.1 4.5 .7 3.5 3.2 .2 .9 0 3-.2 1.1-.3 .4 .3 .4 .2 1.6-.1 10-.1 1.2-.8 1.3 .4 2-1.1 1.1-.5 2.9-2 .6-2 1.6-2.2-.2-.2 .5 .3 1.5-.4 .5-2 1.1-1 1.6-3 .7zM15 17.2l-.5 .2-.5-.9 .5-.6 1 .1 .4 .5zM31.6 18.5l-.6-.3-.1 .3 .1 .4zM20.7 29l-.2-.3 0 .6zM14.5 31.7l-.4-.7 .4-.3 .7 .3z" fill="#e1edf8"/><path d="M17.5 43l-1.7 0-1.3-.6-3 0-1-.5-.4-.9-.1-1 1.5-3.6 3-1.7 2 .2 4.5-3.1 2-2.5 2-.9 1.1-.9 .6-1-.2-6 2-1.5 .5-.3 1 1.8-.1 2.5 1.1 1.7 2-1.7 2 .4 .6-.4-.1-.9-1.2-.6-.4-.5 .5-2.5 1.3-2-2.2-.8-1.4-1.7-2.1-.9-.5-.6-.1-2-.6-3.5 .2-1 2 .3 2-1.5 4.5-.1 2 .4 3.1 3.4-.1 1.5-1 .9-.2 1.6 .8 2-.7 2 1.1 1 .5 1-.6 3-.7 1.5-1.2 .8-1-.1-.3 .8 .3 6.5-2 1.3-2.5 .7-1.5 .1-1.1 1.4-1.9 1-1.5 2.6-2 0-2 1.2-1 1.3-3.5 .9-2 1.2zM25 18.7l-.9-.2 .9-.1z" fill="#ccdff1"/><path d="M39.5 21.5l-.5 0-.5-.5-.4-1.5-1.8-1 .4-1.5-.2-1.3-1.5-.6-.9-.6 .4-1 1.3-1-.8-.6-2 0-1-.4-.3-1.5-1.2-.8-.4-.7 .4-.9 2-.6 1-1.1 2.5-.4 3 .2 .6 .3 1.9 2.1 0 .9-.8 1.5 0 3-.4 2.5 .1 1.5 .8 1 0 .5-.6 2zM33.1 8l-.1-.3 0 .7zM37.6 14.5l-.6 0 .5 .2zM16.5 42.1l-4-.4-1-.5-.1-1.2 1.1-2.8 2-1.3 2 .1 .5-.3 4.5-3.1 1.2-1.6 2.2-.5 1.3-1.5 .8-.5 2 1.2 1.4-2.2 2.6-2.4 2.5-.9 1.5-1.9 .5-.2 .5 .3 .2 2.6-.3 5-.4 1-.7 0-1.1-1-.7-.3-1.9 1.3-.6 2.3-1 1.1-2 .6-1 .9-1.5 .6-2 1.3-2 2.2-2.5 0z" fill="#abd0e6"/><path d="M39.5 13.9l-1-.1-3-2.4-2.6-.9 .1-.5 1.4-1.5 .4-2 1.7-.2 2 .1 .5 .3 .2 1.8 .8 .3 .1 .7 .1 3zM39 16.6l-.6-.1 .6-.1zM37 25.4l-.4-.4 .4-.4zM36 28.1l-2 .3-1-.1-.4-.3 .4-1 1-.9 2.5-1 .3 .4-.2 1.5zM23 39.1l-.5 .3-1-.4-.4-1-.1-1.3-.6-1.2 1.1-.4 1 .2 .3-.3-.6-1 .3-1 .7-.5 1.8-.1 1-1.8 1-.9 2 1.1 2-2.5 1.5-.3 .4 .5-.8 2.5 .1 2-.3 .5-.9 .7-2-.3-1.5 .6-1.5 1.7-1.9 1.3zM17 40.6l-.5 .3-1.5-.1-1.3-.3-.2-.5 .6-1.5 2.4-1.6 1 .3 .8 1.3-.2 1z" fill="#82bbdb"/><path d="M39 13.1l-3.8-2.6-.3-.5 .6-1.4 1-.9 1 .1 1.8 2.2 .4 2.5zM31 33.8l-1.3-.3-.4-1 .3-1 .8-.5 .6-1.2 .8 2.7 0 .5zM27.5 31.7l-.5 .3-.3-1 .3-.3 .6 .3zM25 36.2l-1 .2-.5-.4 .2-1.5 .8-.8 1 .2 .5 .6 .1 .5-.3 .5zM23 37.7l-.5 .3-.2-.5 .2-.8 .5-.2 .2 .5z" fill="#58a1cf"/><path d="M38 11.1l-1.6-.6-.2-.5 .8-.9 .5 .1 .7 .8 .2 .5zM31 33.5l-1.1-.5 .4-1 .7-.5 .5 1.5zM25 35.5l-.5-.1-.1-.4 .6-.4 .3 .4z" fill="#3787c0"/><path d="M31 33.1l-.3-.1 .3-.5z" fill="#1b69af"/></g></g>
<polygon points="308.8,155.8 311.7,152.3 318.5,151.9 322.5,154.3 323.0,154.9 323.0,161.6 320.5,160.6 312.7,160.1 310.3,158.2" fill="none" stroke="#f7a41f" stroke-width="1.05" stroke-linejoin="miter"/>
<polygon points="289.8,183.6 291.7,181.1 294.2,181.6 296.6,183.6 300.0,182.1 302.0,181.1 305.4,178.7 308.8,177.2 313.2,177.7 314.2,179.7 311.7,180.6 307.8,182.1 304.4,185.5 301.5,187.5 299.5,188.9 294.2,188.9 290.8,186.5" fill="none" stroke="#f7a41f" stroke-width="1.05" stroke-linejoin="miter"/>
<polygon points="296.1,166.5 300.5,162.1 303.4,165.0 302.4,168.0 300.0,170.4" fill="none" stroke="#f7a41f" stroke-width="1.05" stroke-linejoin="miter"/>
<polygon points="303.9,164.5 306.4,162.6 308.3,164.0 305.9,166.5" fill="none" stroke="#f7a41f" stroke-width="1.05" stroke-linejoin="miter"/>
<polygon points="315.1,166.5 316.6,164.5 319.5,164.0 322.0,165.5 321.5,168.9 318.5,170.4 316.1,169.4" fill="none" stroke="#f7a41f" stroke-width="1.05" stroke-linejoin="miter"/>
<line x1="302.15" y1="147.40" x2="302.15" y2="190.00" stroke="#a8a8a8" stroke-width="1"/><line x1="281.40" y1="168.70" x2="322.90" y2="168.70" stroke="#a8a8a8" stroke-width="1"/><rect x="281.40" y="147.40" width="41.50" height="42.60" fill="none" stroke="#5c5c5c" stroke-width="1.0"/>
<g clip-path="url(#cp4_6)"><g transform="translate(281.4 207.5)"><path d="M15 35.1l-1.5-.4-4.5-2.1-1.6-1.6-.7-1.5-.1-1.5 .5-3 1.4-2.5 1.8-2 .3-1-.1-1-1.1-2 .1-1 .2-.5 .8-.5 0-.5-1.5-.4-.6-1.1 2-1 .3-2 1-3 .8-1 2.5-.1 1.5 1.5 2-.2 1.5-.8 1 0 1.5 1 .5 .9 0 .7-1.1 2-.5 1.5-.7 4.5-.6 2 .1 1.5 .3 .7 3.5 3.2 1.4 1.6 .8 1.5 .1 2-.7 1.5-1.6 1.5-5.5 2.3z" fill="#fff5eb"/><path d="M17.5 33.2l-2 .3-1.5-.4-1.5-.9-2.5-1.1-1.7-2.1 .5-3 1.2-2.2 3-1.6 3.5-1.1 2 .5 2.3 1.4 2.2 2 1.1 1.5 .4 1-.4 2-1.1 1.3z" fill="#fee8d2"/><path d="M17 32l-1 .1-1.5-.3-2-1.7-1.5-.6-.8-1-.2-1.5 .5-1.2 1-1 3-1.8 2.5-.2 2.5 .8 2.3 1.9 1.3 2.5 0 1-.6 .7-3.5 1.7z" fill="#fdd5ad"/><path d="M17.5 31.1l-1.5 .1-1.5-.5-2.7-3.2 .1-1 .6-.7 2.5-1.6 1-.3 2 0 1.5 .7 1.4 1.4 1 2 .1 .5-.5 .7z" fill="#fdb97d"/><path d="M17.5 30.1l-1.5-.1-1.5-.6-.6-.9-.2-1 1.4-2 .9-.6 1-.2 1.5 .1 1 .7 .7 1 .6 1.5-.5 1z" fill="#fd9c51"/><path d="M19 28.6l-1.5 .2-1.8-.8 1-2 1.3-.4 1 .5 .6 1.4 0 .5z" fill="#f87d29"/></g></g>
<polygon points="289.8,234.3 290.7,231.4 293.2,230.6 296.1,230.6 298.1,229.2 300.0,230.6 302.0,233.3 306.4,236.7 304.9,238.7 302.5,237.2 300.5,238.7 298.1,241.1 296.1,241.3 294.2,239.7 291.2,239.2 289.8,237.2" fill="none" stroke="#1a1a1a" stroke-width="1.2" stroke-linejoin="miter"/>
<line x1="302.15" y1="207.47" x2="302.15" y2="249.82" stroke="#a8a8a8" stroke-width="1"/><line x1="281.40" y1="228.65" x2="322.90" y2="228.65" stroke="#a8a8a8" stroke-width="1"/><rect x="281.40" y="207.47" width="41.50" height="42.35" fill="none" stroke="#5c5c5c" stroke-width="1.0"/>
<g clip-path="url(#cp5_6)"><g transform="translate(281.4 252.4)"><path d="M19.5 41.1l-1 .2-2-.7-2 .1-2-2.4-2 1.5-2.5 .4-3-2.1-1.7-1.6-1.9-3.5-.7-2 .1-2-.3-2-.5-1.1 0-9.5 .7-2.4 1.8-2.3 1-1.9 2-2.4 1-.5 1.5 0 2-1.6 4.5-.2 2 .2 1.2-.8 .8-1.2 3.5-.3 3-.7 4.5-2.3 2-.3 6.5 .3 1.2 2 0 1.5-.5 1.5-2 3.5-2.4 2-.3 2-1 2-1 1-.3 1 0 2 1.7 2-.1 .5-1.2 1.5-.2 1.5-1 .5 .1 .6 1-.1 .3 .5 .3 3.5-.7 1-1.2 1-.7 1.7-1.8 1.3-1.5 2.5-1.5 1-.7 1-3.5 .2-.9 .3-.4 .5 0 1.5zM32.5 25.1l-.3-.1 .5 0z" fill="#fff5eb"/><path d="M17 36.2l-1.5 0-5-1.2-4 .3-.7-.3-.9-1-.6-1-1.2-3.5-.7-3.5 .4-5.5 .7-4.2 1.5-1.8 1-1.8 .5-.4 1.5 0 1 .4 1 0 1.5-.6 2-1.8 2-1.1 3.3-.7 1.7-.6 2.5 0 2.5-1.8 3-1.5 1.5-1.6 1.5-1 2.5-.7 1.5 .1 .6 .6 .1 .5-.3 1.5-2 2-.9 1.7-1.6 .8-.9 1.5-1.5 1-1.3 2-1.5 1.5 .1 2-2.1 3.5-.1 1 .4 1.5 1.8 1 1 2 .4 2 0 1.5-2 3-1.2 1.1-3 1.7-3 .5z" fill="#fee8d2"/><path d="M16.5 35l-3.5-.7-4.5-1.8-1.5 .2-1-.3-.9-1.4-1.4-4.5-.1-1.5 .5-2.5-.1-2 1.2-3 4.2-2 5.8-5 1.8-.8 3-.1 4.6 1.9 .8 1-1.1 2-.3 1.5-1.2 2-.4 2 .7 2.5 2.4 2.4 .6 1.1 .4 1 0 1.5-.7 1.5-1.8 2-3 1.9-2.5 0z" fill="#fdd5ad"/><path d="M16.5 34.2l-2.5-.4-2-.8-4-3.3-1.5 1.3-.2-1 .2-1-1.4-1.5-.7-2.5 1.7-4-.3-2 .2-.6 4.5-1.9 .8-1.5 4.7-4.3 1-.4 1.5-.1 3.5 1.1 1.9 1.2-.7 3-1.4 2.5-.3 2 .6 2.5 2.5 2.5 .6 1 .4 1 .1 1.5-.4 1-1.7 2-2.6 1.7-.5 .2-2-.4z" fill="#fdb97d"/><path d="M16.5 33.5l-2.5-.4-1.4-.6-2.5-2-1.6-1.9-2-1.1-.8-1-.6-1.5 .4-1 1.1-1.5 .5-1.5 .1-2 .3-.3 3-1.5 1.2-1.7 4.8-4.4 2-.3 3.5 1.1 1 .9-.2 2.2-1.8 3.5-.1 2 .4 2 3.2 3.5 .6 2.5-.1 .5-1.7 2-2.3 1.7-.5 .2-2-.4z" fill="#fd9c51"/><path d="M17.5 32.5l-1 .4-1 0-2-.6-1.4-1.3-1.6-.9-2-2.3-1.2-.8-1.5-2 .2-.6 1.2-1.4 .7-3 .6-1 2-1.2 3.9-4.3 2.1-1.8 2-.4 3.2 1.2 .7 1-.2 1.5-1.7 3-.3 2.5 .4 2 3.4 3.5 .4 1.5-.4 1.2-1.3 .3 .3 1-.3 1-2.2 1.3-2-.2z" fill="#f87d29"/><path d="M17.5 32.1l-1 .4-1-.1-2-.7-1-1-2-1.3-2.1-2.4-.9-2 1-4.5 .6-1 1.9-1.5 3.5-3.9 1-.5 1-1.2 2-.6 1 .3 2.1 1.4 .2 1-1.5 2.5-1.1 3.5 1.2 2.5 3 3 .5 1-.4 1-1.5 1 .2 1-.4 1-1.3 .8-2-.1zM18.8 14.5l-.3-.2-.6 .2 .6 .2z" fill="#e95e0d"/><path d="M18.5 13l-.2-.5 .4 0zM16.5 32l-1.5-.1-.9-.4-3.6-2.8-1.5-1.7-.3-3.5 .2-2 .8-1.5 4.8-4.9 2 .5 2.5 .1 .5-.3 .2-1.4 .3-.5 .5 .1 .5 .4 .1 .5-.6 .9-.8 .6-.3 2.5-1.3 2 .1 .5 1.8 2.2 3 2.9 .5 .9-2 2 0 1-.6 1-.4 .2-2 .1z" fill="#cd4401"/><path d="M16.5 31.5l-2-.4-.8-1.1-1.7-.6-2-1.7-.7-1.2 .1-4 .6-1.5 2.5-2.8 2-1.3 1 .7 1 1.6 1-1.3 1-.3 .3 .9-.3 .6-1 .7 .1 1.7 1.3 1 4.1 4.5-1.7 1.5-.8 1.9-2 .4zM14.6 29.5l.2-.5-.3-.3-.5 .3 .5 .8z" fill="#a13403"/><path d="M16.5 31l-1.2-.5 0-1.5-.8-.7-2 .9-2.6-2.2 .3-4.5 1.3-1.8 1-.9 1.4 1.2 1.6 .2 .4 .3 .1 1.5 .5 .8 2-.8 3.8 4-.8 .5-1 1.1-1.7 .4-1.2 1.5z" fill="#7f2704"/></g></g>
<polygon points="290.2,271.4 292.2,267.8 295.3,265.3 298.8,263.2 301.9,263.2 303.9,264.7 304.9,266.8 302.9,268.3 301.4,271.3 301.4,273.9 302.9,275.9 305.5,277.0 307.0,279.5 306.5,283.1 302.9,284.6 300.4,284.6 297.8,286.1 295.3,285.1 292.7,282.6 291.7,279.5 290.2,276.5" fill="none" stroke="#1a1a1a" stroke-width="1.2" stroke-linejoin="miter"/>
<line x1="302.15" y1="252.42" x2="302.15" y2="295.47" stroke="#a8a8a8" stroke-width="1"/><line x1="281.40" y1="273.94" x2="322.90" y2="273.94" stroke="#a8a8a8" stroke-width="1"/><rect x="281.40" y="252.42" width="41.50" height="43.05" fill="none" stroke="#5c5c5c" stroke-width="1.0"/>
<g clip-path="url(#cp0_7)"><g transform="translate(325.1 11.5)"><path d="M13 34.6l-1 0-2-1.3-1.5-.3-1.5-.7-3-.2-1-.6-1.1-1.5-1.9-.6-.2-8.4 .4-2.5-.3-2 .1-3.4 2-.6 .2-2 .3-.3 1.5-.1 .7-1.6 1.3-.9 1 0 1 .4 1-1.9 1-.5 4.5-1.1 2 .3 2-.9 2 .3 2.5-.5 1.5 0 1 .3 1.4 1 2.1 .2 2 .8 2 1.2 4.3 .8 4.3 2.5 .9 3.3 .5 .5 0 3.7-2.8 1.5-1 1 .5 .5 2.3 1 .4 .5 .1 .5-1 1.5-1 .8-1.5 .7-1.2 1-1 2-.8 .7-3 2.2-2-.3-2 .8-2 0-1.4 .6-1.1 .8-4 0-2 .5zM37.7 10.5l-.2-.9-.5 .2 0 1 .5 .2z" fill="#f7fbff"/><path d="M14.5 30.1l-1.5-.7-1.7-1.4-.7-1-.3-2-1.3 .4-1-.2-2-1.7-.2-.5-.3-4.5-.6-2 2.6-4.3 3-2.4 6-1.6 2 .2 4-.4 1.3 1 1.7 .7 1.5 1 2-.1 2.3 2.4 .9 1.5 0 3.5-.5 .5 .7 1-.2 1.5-1.7 1.2-.8 1.3-2.2 .7-1.7 2.8-.8 .5-2.5 .9-2-.8-2 1.2-2 0-1 .9z" fill="#e1edf8"/><path d="M23 25.6l-1 .2-2.5-.1-3-.5-2-1.8-3.5-.7-3-1.1-.8-1.1-.6-4 .6-1.5 1.3-1.9 2.5-2 2.5-1.1 1.5-.3 1.5 .3 4-.6 1 .4 1 .9 2.5 .1 3.2 1.7 2.3 2.5 .5 1.6-1.3 1.9-.3 1.5-.8 1-2.6 1.4-1.8 1.6z" fill="#ccdff1"/><path d="M22.5 24.7l-1 .1-2.5-.2-4-2.2-3.5-.6-1-1.1-2 .2-.7-.9-.4-2 0-1.5 .4-1 3.4-3.5 3.3-1.7 2 .4 4-.5 2 1.1 2 .4 2.5 1.1 2.5 3.6-.1 .6-1.4 3-4.7 3z" fill="#abd0e6"/><path d="M21.5 23.7l-2 .2-4.5-2.4-3-.2-.8-.8-.7-1.4-1 .6-1-.1-.5-2.1 .4-1.5 .6-.7 1.5-.8 .3-1 .7-.8 1-.7 2.5-.9 3.5 0 2-.4 5.5 2.5 2.4 2.8 .2 .5-.3 1.5-1.3 1.9-4.5 2.5z" fill="#82bbdb"/><path d="M21 23l-1 .2-.8-.2-1.7-1.4-2-.6-1-.3-2 .2-.6-.4-.1-.5 .1-.5 .6-.5 0-.8-3.1-.2-.5-.5 0-1 1.6-1.2 .9-1.8 .6-.6 2.5-.5 .5-.6 1-.3 2.5 0 2-.3 4.5 2.3 2.5 2 .6 1-.2 1-.9 1.4-.5 .2-1.5-.4-.7 1.8-.4 .5z" fill="#58a1cf"/><path d="M20.5 22.2l-.6-.2-.4-1.5-1-.4-2 .5-3-.6-.4-.5 .1-1-.7-1.4-1.5-.2-.8-.4 .6-.5 1.2-2.5 .5-.4 2-.1 1-1 1-.3 2 .3 2-.3 1.6 .8 1.4 1.1 1.5 .6 2 1.4 .6 .9-.6 1.5-2 .1-1.5 .4 0 2-.5 .5z" fill="#3787c0"/><path d="M22.5 20.6l-1 .1-3-1.2-2 .4-2.2-.4-1.6-3-.9-1-.1-1 .8-.9 2-.1 2-1.5 2 .5 2-.3 .5 .2 1.8 2.1 2.2 .4 2.1 1.6-.6 .9-2 .2-2.1 .9 .3 1.5z" fill="#1b69af"/><path d="M21 19.2l-.5 .1-2-.4-2 .3-2-.2-2.4-4.5 .4-.4 2-.1 2-1.8 1.1 .3 .9 1.4 1-.8 1-.3 .5 .2 .9 1.5 .6 .5 2.1 .5 1.7 1-3.8 1.3-1 .7z" fill="#084d96"/><path d="M16.5 18.5l-2-.1-.8-1.4-.6-2.5 1.9-.2 .6-.3 .9-1.4 .8 .9 .2 1 1 .8 1.3-.8 .7-.8 1.6 1.8 2.5 1-2.6 .9-1.5 .9-2-.2z" fill="#08306b"/></g></g>
<polygon points="333.6,26.1 339.0,22.2 346.3,22.2 347.8,23.7 353.1,24.7 354.1,28.1 353.6,31.0 348.8,32.0 346.3,36.4 344.3,34.9 342.4,32.5 335.1,32.0 333.6,30.5" fill="none" stroke="#f7a41f" stroke-width="1.05" stroke-linejoin="miter"/>
<line x1="345.90" y1="11.47" x2="345.90" y2="53.77" stroke="#a8a8a8" stroke-width="1"/><line x1="325.15" y1="32.62" x2="366.65" y2="32.62" stroke="#a8a8a8" stroke-width="1"/><rect x="325.15" y="11.47" width="41.50" height="42.30" fill="none" stroke="#5c5c5c" stroke-width="1.0"/>
<g clip-path="url(#cp1_7)"><g transform="translate(325.1 57.1)"><path d="M28 38l-3 .2-2-.2-2.5 .4-2 0-4.5-.8-1.5-.5-2-1.1-2.5 .2-2.7-1.2-3.3-3-2-1-.2-14.5 .2-6.6 2-1.1 2 .2 1-1.1 1.5-.7 1.5-1.5 1 0 1.5 .5 1.5-1 2.5 0 6-1.3 4.3 .6 4.2 .1 4 1.7 2 .2 2.3 1.5 2.7 .6 .8 .4 .7 .8 1.5 .4 .3 11.3-.3 5.3-.5 1.5-1.1 .7-.7 2-1.2 1.4-2 .9-1 1.5-1.9 .7-1.6 1.4-2 .2-2 .8z" fill="#f7fbff"/><path d="M31 33.7l-2.5-.3-3-1.5-.5-.5-.9-1.9-1.1-.1-.9-.4 .2-1 .8-1-.3-.5-1.8-1-.5 0-2 1.4-.8-.4-1.2-1.2-2.5-.8-1 .4-1.2 2.1-2.3 1.4-3 .5-1-.2-1.2-.7-.8-1-.5-1.5 .6-6 .9-3 1.8-3.5 6.2-3.6 2-.4 4-1.3 4.5-.6 5 1 3 1.1 10 5.9 2 2.2 0 4.1-4 3-3.8 1.6-.7 1-.3 1 0 1 .7 2-1.4 1.3z" fill="#e1edf8"/><path d="M8 27.6l-1.5 .1-1-.4-.8-.8-.4-1 .7-5.5 1.2-3.5 1.6-2.5 1.7-1.6 7-2.5 3.5-.9 4.5-.3 6.5 2.1 6.5 3.7 2.2 2 1 2-.1 1.5-.9 1.5-1.7 1.2-2.5 .7-2-.1-3-.7-3.5-.3-2-.5-2.5-.1-5.5-1.1-2.5 .2-3.8 1.7-1.1 4-.6 .7zM31 31.1l-1.5-.1-.6-1 .1-.6 1-.4 1 .4 .4 1.1z" fill="#ccdff1"/><path d="M8 26.8l-1 .1-1-.4-.5-.6-.2-.9 .6-5 2.2-5 .9-1.2 1.5-1.2 4-1 2-.9 4-.8 3-.3 1.5 .1 1.5 .5 4.5 1.5 3 1.7 3.8 2.6 1.5 2 .1 1.5-.7 1.5-1.2 .9-2 .5-1.5-.3-7-2.1-4 0-2.5-.8-2-.2-3 .3-5.6 2.7-.4 1-.7 3z" fill="#abd0e6"/><path d="M7.5 25.7l-.6-.2-.7-3 1.4-4.5 1.4-3.5 1.5-1.2 4-.9 2-1 4.5-.9 3-.1 1.5 .2 5 1.6 3 1.6 3.2 2.2 1 1 .6 1 .2 1.5-.3 1-1.2 .8-1.5 .2-5-1.8-1.5-.2-2-1.3-2.5 0-4-.7-4 .3-7.1 3.7-.6 1-.8 2.7z" fill="#82bbdb"/><path d="M37 20.7l-1 .2-1-.2-4-2.1-2-.1-1-.8-3-.9-4-.5-2.5 .6-2-.3-2 1.7-2 1.1-3 1.1-1.2-.5-.2-1 1.2-4 1.2-1.2 4-.6 2-1.3 4-.7 4-.2 6 1.9 2.5 1.2 2.7 1.9 1 1 .6 1 .3 1.5z" fill="#58a1cf"/><path d="M36 20.1l-1-.2-2-1.5-3-1.3-1-.7-2 .3-2-1.1-2-.2-2.5 .1-2 .6-2-.1-2 1.8-3 1.4-2 0-.4-.7 .5-3 .9-1.2 2-.4 2 .3 2-1.7 4-.8 2 .2 2-.2 8 2.8 1.5 1.3 1.3 .7 1.1 1.5 .2 1.5z" fill="#3787c0"/><path d="M12 18.5l-1 .1-.8-.6 0-2.5 .8-.9 1-.1 3 .3 1.5-1.6 4-.9 1 .2 1.5 .8 1.4-.8 .6 0 1.1 1-.3 .5-.8 .3-1.5-.2-.5-.3-1 .5-3.5 .9-2.5 .2-1.5 1.9zM31 16l-.1-.5 .6 0zM35 18.6l-.5-.6 0-.5 .5-.1 .3 .6z" fill="#1b69af"/><path d="M12 18l-.5 0-.7-.5-.1-1.5 .3-.7 1.5-.3 2 .8 .2 .7-.2 .2z" fill="#084d96"/><path d="M13 17l-1 .5-.5-.2-.2-.8 .2-.8 1-.2 .9 .5 .3 .5z" fill="#08306b"/></g></g>
<polygon points="331.5,75.2 337.3,70.0 342.5,69.2 344.5,67.5 351.8,67.5 355.6,70.0 361.4,73.7 365.8,74.3 366.6,76.5 364.8,77.8 362.8,79.8 358.2,79.8 356.9,77.8 347.8,77.5 346.5,75.9 337.3,75.7 332.8,77.5" fill="none" stroke="#f7a41f" stroke-width="1.05" stroke-linejoin="miter"/>
<ellipse cx="352.3" cy="90.8" rx="1.5" ry="1.5" fill="none" stroke="#f7a41f" stroke-width="1.3"/>
<line x1="345.90" y1="57.15" x2="345.90" y2="99.56" stroke="#a8a8a8" stroke-width="1"/><line x1="325.15" y1="78.35" x2="366.65" y2="78.35" stroke="#a8a8a8" stroke-width="1"/><rect x="325.15" y="57.15" width="41.50" height="42.41" fill="none" stroke="#5c5c5c" stroke-width="1.0"/>
<g clip-path="url(#cp2_7)"><g transform="translate(325.1 102.5)"><path d="M19.5 43l-1 0-.4-1-1.1-1 .5-1 1.5-.5-2.5-.1-.9 .6-1.1 .2-3-3.2-3.5-1.4-2 .8-.8-1.4-2.2-1.1-.3-.9 .4-2-.6-.5-.5-1-.3-2.5-1.7-1-.1-3.5 .3-2-.3-2 .1-5 1-1-.2-.5-.8-.5 0-1.4 1-.6 .6-2 1.9-1 .4-.5-.4-2 .5-2 1.5 1.3 .5 .1 1-.3 .8-1.1 0-2 6.7-.2 10 .3 4.5-.3 1.4 .2 .6 .5 1-.5 1-.1 4.6 .1-.1 1-.6 1 .6 .1 .5-.4 1-.2 1.3 .5 .2 2.5 1 1.1 1.5-1 .2 5.9-.1 4 .2 2-.3 10.5 .1 2-.1 .8-1 .5-.3 .7 .3 1.5-1 1-1.2 2-.3 2.5-.5 .2-.8-1.2-.7-.5-1 .3-3.5 4.8-2-1.8-2 .8-2 .3-2 0-2.5-.6-1.2 .2-.8 .5-.5 1.4zM11.1 2l-.6-1.6-.5 .2-.6 1.4 1.1 .5zM6.6 31l.4-2-.5-.6-.5-.1-.3 1.7-.5 1 .8 .4zM43 33.2l-1.4-.2 .4-.5 1 .2zM24.5 37.5l.5-.5-.5-.7-.7 .7z" fill="#f7fbff"/><path d="M27 2.5l-.2-.5 .2 0zM25 33.3l-1-.3-1.5-1.3-1.5-.1-1.1-.6-2.4-.5-.5-2-.5-.8-1.2 1.8-.8 .4-.6-.4-.9-1.5-.9-1-.2-1-.4-.5-1.5-.1-.9-.4 .2-1 .9-1.5-.3-2-.8-2 .5-1 1.2-1 .6-1 1.1-.4 .5-.6-.5-.7-2.6 .2-.4-1.5 .4-1 .6-.2 2 .5 1.5-.8 .4-.5 .1-3 .7-1 1.3-.3 1.5 .6 2-.1 .7-.7 .9-2 .9-.2 .8 .2 0 .5-.8 1.2-.8 .3 .1 .5 1.2 .7 2 0 .5-.3 1-1.8 1.5-1.4 1-.2 1.4 .5 0 .5-.5 1.5 .6 1 .5 1.3 1.5-.5 2.5 .1 2 2 .3 .6-.7 2 1.4 1 1 1.9 2 0 1.1 1.1-.6 .7-.5 .1-2.5-.1-.3 .3-.2 2-.5 .5-.9-.5-.7-1 .7-1 1.3-.5 .1-.6-1-.4-2 .1-1.2 .4 .7 2-1.8 2-.2 2 1.1 1 1.4 2.8 2-.2 .5 .3 .2 .6-.7 .6-2 .5-.6 .9-.4 2-.5 .4-1 0-1.5-1.9-2-.1-.7 1.6zM13.5 7.1l-1.5-.1-.5-.5 .1-.5 .9-.5 1.5 .4 .3 .6-.3 .5zM16.6 10.5l-.1-.3-.9 .3 .9 .3zM8.5 14.8l-.3-.3 .8 0zM38.5 23.6l-1.5 .2-.8-.8 0-.5 .8-1.1 2-1 .5 .5 .2 1.6-.2 .5zM17.2 23l-.1-.5-.6-.4-.2 .4 .2 .9zM21 27l-.5-.7-.2 .7z" fill="#e1edf8"/><path d="M27.5 26.3l-.5 .1-1.1-.4-3.4-4-2-.5-2 .2-.9-.7-1.1-1.7-2.1-.3-.3-.5 .4-.5 2 .1 .6-.6 .2-1-1.3-2 1.5-.9 3.5-.6 1 .2 1 .8 1-.7 1 .1 2 1.2 .5-.6 .6-2 .4-.4 .5-.2 2 .2 1 .6 .3 .3-1.2 2 .6 1 1.1 3-1.8 3-2.5 3-.5 1.4zM20.7 19l.4-.5-.6-.5-.6 .5 .6 .7zM14.5 23.4l-.6-.4 0-.5 .6-.4 .3 .9z" fill="#ccdff1"/><path d="M19.5 16.6l-.5 .2-.5-.1-.1-2.2 2.1-.3 .7 .3-.4 1zM27 24.9l-2.4-1.9-1.6-1.8-1.2-.7 .3-2.5 1-1 .7-1.5 .7-.6 .5-.1 2 1.1 2-.8 2 1.3 .8 2.1-.8 1.4-2 0-.5 .6 .1 2z" fill="#abd0e6"/><path d="M27 23l-2.5-1.6-.9-.9-.8-1.5 0-.5 .9-1 .7-1.5 .6-.3 1.5 1 1.5 .5 .5 .8-.2 1-1.6 1.5-.1 .5 .6 1.5z" fill="#82bbdb"/><path d="M27 19.3l-1 .2-.5-.4 0-1.4 1.7 .3 .3 .5z" fill="#58a1cf"/></g></g>
<polygon points="335.4,110.8 337.4,108.3 339.8,107.8 341.8,106.3 343.8,108.3 342.8,110.2 338.8,113.6 336.9,114.1 335.4,112.8" fill="none" stroke="#f7a41f" stroke-width="1.05" stroke-linejoin="miter"/>
<polygon points="352.5,115.1 354.0,112.2 355.9,111.2 357.9,112.8 360.3,114.6 359.8,116.6 356.4,117.5 354.4,118.0 353.0,117.0" fill="none" stroke="#f7a41f" stroke-width="1.05" stroke-linejoin="miter"/>
<polygon points="350.5,120.5 352.0,119.0 355.4,119.0 358.3,119.0 361.3,120.0 362.8,121.4 360.8,122.9 358.3,124.4 355.4,124.9 353.0,126.8 351.5,127.3 350.1,124.4" fill="none" stroke="#f7a41f" stroke-width="1.05" stroke-linejoin="miter"/>
<polygon points="334.0,123.4 335.4,121.4 336.9,123.4 335.4,125.3" fill="none" stroke="#f7a41f" stroke-width="1.05" stroke-linejoin="miter"/>
<polygon points="338.1,132.1 339.1,130.6 342.6,130.3 343.8,132.1 342.6,133.8 339.1,133.8" fill="none" stroke="#f7a41f" stroke-width="1.05" stroke-linejoin="miter"/>
<line x1="345.90" y1="102.55" x2="345.90" y2="144.55" stroke="#a8a8a8" stroke-width="1"/><line x1="325.15" y1="123.55" x2="366.65" y2="123.55" stroke="#a8a8a8" stroke-width="1"/><rect x="325.15" y="102.55" width="41.50" height="42.00" fill="none" stroke="#5c5c5c" stroke-width="1.0"/>
<g clip-path="url(#cp3_7)"><g transform="translate(325.1 147.4)"><path d="M42.5 43l-5.5 .3-22.5 .1-4.5 0-3.4-.4-.6-3.5 .1-2.5-.5-2 .4-2-.8-2 0-2 .3-2-.2-2 .7-1.5 .6-.5-.1-.5-1-1-.5-1 1.6-1.5 .6-4.5-1.3-2 .7-1 1.9-.5 1 .4 1 1.1 .5-2-.5-.9-1.2-1.1 .1-.5 .6-.6 2.5-.6 .8-.8-.3-2.5-.8-1.5 2.8 0 1-.8 .5-1.2 .5 0 2.9 0 .6 1.6 .5-.2 .4-1.4 1.1-.2 4.5 .1 2 .3 2-.3 6 0 1.2 .1 .2 .5 .6 .4 2.5 .5 1.5 1.6 .4 7-.1 25-.1 6.5-.2 1.2zM17 6l-.5-1-.4 1 .4 .4zM10.8 18.5l-.3-.9-.6 .9 .6 .4z" fill="#f7fbff"/><path d="M22 43l-11.5 .2-1.2-.2-1-1.5 .3-2-.9-1.5-.2-1 .5-2.1 1.5-1.9 1-.5 1 .4 1 1 2-.6 2 0 .7-.3-.6-1-2.1-1 .2-2 1.8-3.6 2 .1 1.3-.5-.3-.7-2.5-.3-.8-.5-.5-1 .1-2-1.7-2 .4-.6 2.5-.2 1-.5 1.3-4.2 .7-1.2 1-.3 2 .5 2.1-.5 .5-1-.4-1.5-.7-.3-1.5 .5-.5-.1-.4-.6 .4-.8 2.5 .3 2-.6 1.7-2.9 .8-.8 1-.4 4.5-.5 2.5 1 2 .1 3.5 2.3 .1 .8 .2 3.5-.4 8 .3 2-.2 5.6-.3 .9-1.2 1.7-2 .3 1.5 .3 .4 1.7-2.6 1.5-1.2 2.5-1.1 1-.3 1-2.2 1.5-1 1.4-2-.1-2 2.3-2-1.3-1.1 .7-.9 1.2z" fill="#e1edf8"/><path d="M15 43l-1.2 0-1.3-.6-2 .3-.5-.4-.7-1.3 .2-2-.7-2 .7-.2 1 .6 2.5-1.9 7.9-2.5 .1-1.6 1.5 0 .7-.4-.8-1-.8-3 .9-1.2 .5-.1 1.4 1.3-.7 1.5 .3 1.2 1 .1 1.5-.8 0-1.1-.7-.9 1.5-1 1.4-3.5-.7-.9-1-.4-2 .3-1-.3-.5-.7 .2-.5 1.9-.5 1.4-1.2 2.2 1.7 .2 1-.1 1.5 .8 2.5 .9 .8 1-.7 0-2.1 1.2-2 .7-2.5-1.4-2 .8-2-2.8-.8-2.3-1.7-.9-1-.2-.5 .2-1 1.7-3.3 2-1.9 2 0 2-.5 2 1 2 .4 2 1.1 1.2 1.2 .8 2-.1 5-1.4 2 .3 2 .9 2.5-.8 2.5-1.3 3-1.6 1.3-.7 1.2 .4 2-1.7 1.7-2 .7-3 3-1 .3-1.5-.1-.4-.6-.1-.7-.1 1.2-.8 1 .4 .5-.1 .5-.4 .7-3 1.4-2 .1-1.5 1.1-3 1.2-1-.3-.5-1.2-.5-.6-.5 .6-.3 1zM23 19.5l-.9-.5-.1-.5 .5-.2 .7 .2 .1 .5zM31 18.9l-.5-.4 .5-.2 .3 .2z" fill="#ccdff1"/><path d="M18.5 42.1l-2-1.7-2 1.9-2-.8-1 .3-1-.1-.4-.7 .1-2 .8-.9 1.7-.6 1.5-1.5 4.3-1.5 2-.3 2.2-1.2 2.2-2 2.6-1.9 1.5-3 3 1.2 1 2.2 .5-.5 .2-2-.4-2.5 .2-1.5 1.4-4.5 1.3-2-2.3-3-.9-.4-2-.2-.6-.4-.4-1-1.3-1-.1-1 .4-1.4 2-1.8 1-.2 1.5 .1 1.5 .9 1-1.2 1.5-.1 3.2 1.2 .8 .7 .3 .8-.2 1-.6 1 .7 1.5 .1 1.5-.1 1-1.2 1.1-.4 .9 1.5 4 0 1-.4 1.5-1.6 2-1.6 2.8-.7 2.7-2.3 1.5-4 3.6-2-1.4-.5 .3-.9 1.5-1.8 1-.2 2-.5 .5-.6 .1-1.5-.7-.5 .1-1.5 2-.6 .5zM33.5 10.5l-.5-.7-2-.5-.9 1.2 .9 .5 2 0z" fill="#abd0e6"/><path d="M31 34.6l-2-1.3-1 .1-2.1-.9 0-1.5 2.1-1.5 1-1.4 1.5-.4 1 .3 .5 .6 .5 1.5 .5 .4 .8-.5 .7-3 .4-6.5 2.5-4 0-.5-.7-1-2.7-3 .2-2.5 .1-.5 1.5-.5 1.2-1.7 .5-.1 2 .5 1.4 .8 .2 .5-1 2 .6 2-.2 .6-1.5 .6-.8 .8-.5 1.5 1.6 1.5 .6 1-.4 .8-2.1 1.2-1 2 .6 .9 .5-.2 .4-1.7 1.6 0 .8 .5-.1 1-2 2-1 2-.7 2.7-2.5 1.6-1.2 1.7zM33.5 8.8l-1-.3-.1-.5 .6-.5 .8 .5 .2 .5zM31.5 31l-.7 0 .2 .2zM14.5 41.5l-2-.8-1 .1-.5-.3-.2-1 .3-.5 1.9-1.1 1.5-1.3 2-.8 1-.1 1.5-.7 1.5-.1 2.5-1.2 2-.4 2.5 0 .2 .7-.5 1.5-2.2 1-1 1.4-1.5 .4-1.3 .7-1.7 2-1 .4-1-1.1-1-.4-1 .4zM19.1 37.5l.1-.5-.7-.9-.4 .9 .1 .5 .3 .4z" fill="#82bbdb"/><path d="M38 13.6l-1 .2-.5-.4-1.6-2.9 .6-1 2.2-1.5 1.3-.3 .9 .3 .4 .5-1 2 0 2zM35 29.6l-.3-.6 0-.5 .3-.8 .5-.1 .4 1.4zM31 33.4l-3.3-1.4-.6-.5-.2-.5 1.1-.5 1.4-1.5 1.6-.6 .6 .6-.1 .5-1.6 1.5 .5 1 .8 .5 .2 .5zM21.5 38.1l-1 .4-.5-.3-.1-1.7 .3-.5 2.8-1.4 1.4 .4-.1 .5-.9 1.5zM14.5 40.2l-2-.2-.7-.5 .3-.5 1.5-.5 1.3-1.5 1.6-.7 .6 .2 .9 2 .8 1-.3 .4-.5-.3-1.5-.3-1.5 .3z" fill="#58a1cf"/><path d="M38 12.6l-1 .2-1.2-2.3 .9-1 1.3-.4 .6 .4-.1 2.5zM16.5 38.6l-.9-.6 0-.5 .9-.7 .6 .7-.1 .6zM21 37.2l0-.3 .3 .1z" fill="#3787c0"/></g></g>
<polygon points="352.5,155.8 355.4,152.3 362.2,151.9 366.2,154.3 366.8,154.9 366.8,161.6 364.2,160.6 356.4,160.1 354.0,158.2" fill="none" stroke="#f7a41f" stroke-width="1.05" stroke-linejoin="miter"/>
<polygon points="333.5,183.6 335.4,181.1 337.9,181.6 340.3,183.6 343.8,182.1 345.8,181.1 349.1,178.7 352.5,177.2 356.9,177.7 357.9,179.7 355.4,180.6 351.5,182.1 348.1,185.5 345.2,187.5 343.2,188.9 337.9,188.9 334.5,186.5" fill="none" stroke="#f7a41f" stroke-width="1.05" stroke-linejoin="miter"/>
<polygon points="339.8,166.5 344.2,162.1 347.1,165.0 346.1,168.0 343.8,170.4" fill="none" stroke="#f7a41f" stroke-width="1.05" stroke-linejoin="miter"/>
<polygon points="347.6,164.5 350.1,162.6 352.0,164.0 349.6,166.5" fill="none" stroke="#f7a41f" stroke-width="1.05" stroke-linejoin="miter"/>
<polygon points="358.8,166.5 360.3,164.5 363.2,164.0 365.8,165.5 365.2,168.9 362.2,170.4 359.8,169.4" fill="none" stroke="#f7a41f" stroke-width="1.05" stroke-linejoin="miter"/>
<line x1="345.90" y1="147.40" x2="345.90" y2="190.00" stroke="#a8a8a8" stroke-width="1"/><line x1="325.15" y1="168.70" x2="366.65" y2="168.70" stroke="#a8a8a8" stroke-width="1"/><rect x="325.15" y="147.40" width="41.50" height="42.60" fill="none" stroke="#5c5c5c" stroke-width="1.0"/>
<g clip-path="url(#cp4_7)"><g transform="translate(325.1 207.5)"><path d="M17 35.2l-1 .2-1.5-.1-5.5-2.3-2.1-2.5-.6-2 .5-3.5 .8-1.5 1.4-1.5 2-1.4 6-2.1 1.5 .4 .7 1.1 5.5 4.5 1.1 1.5 .6 2.5-.6 2-1.3 1.5-5.1 2z" fill="#fff5eb"/><path d="M17 33.6l-1 .1-4-.9-1.2-.8-2-2-.7-1.5 .1-2.5 .6-1.5 1.2-1 2.5-1.2 3-.6 1.5 0 4 1.6 1.6 1.2 1.3 1.5 .9 2.5 0 .5-.6 1-1.2 1.1z" fill="#fee8d2"/><path d="M17.5 32l-1.5 .3-3-.7-1-.5-1.5-1.5-.5-.6 .1-1 .6-1-.2-2 2-1.2 4-1.1 4 1.6 1.5 1.1 .7 1.1 .4 1.5-.8 2-1.3 .9z" fill="#fdd5ad"/><path d="M17.5 31l-1 .3-2-.2-1.9-1.1-1-1.5 0-2 .4-1 .5-.4 2-.5 2-.9 3 1 1.5 .8 .9 1 .2 1-.6 2-1 .8z" fill="#fdb97d"/><path d="M18.5 30l-2.5 .4-1.9-.4-.6-.5-.9-1.5-.1-1.3 .9-.7 3.1-1.2 4 1.1 .9 1.1-.1 1.5-.8 1.1z" fill="#fd9c51"/><path d="M17.5 29.5l-3-.1-.6-.9 0-1 1.6-1.3 1.5-.5 2.5 .5 1 .5 .3 .8-.3 1.2-1 .5z" fill="#f87d29"/><path d="M18.5 28.6l-1.3-.1-.5-.5 0-.5 1.3-.5 1.5 .4 0 .6z" fill="#e95e0d"/></g></g>
<polygon points="333.5,234.3 334.4,231.4 336.9,230.6 339.8,230.6 341.8,229.2 343.8,230.6 345.8,233.3 350.1,236.7 348.6,238.7 346.2,237.2 344.2,238.7 341.8,241.1 339.8,241.3 337.9,239.7 334.9,239.2 333.5,237.2" fill="none" stroke="#1a1a1a" stroke-width="1.2" stroke-linejoin="miter"/>
<line x1="345.90" y1="207.47" x2="345.90" y2="249.82" stroke="#a8a8a8" stroke-width="1"/><line x1="325.15" y1="228.65" x2="366.65" y2="228.65" stroke="#a8a8a8" stroke-width="1"/><rect x="325.15" y="207.47" width="41.50" height="42.35" fill="none" stroke="#5c5c5c" stroke-width="1.0"/>
<g clip-path="url(#cp5_7)"><g transform="translate(325.1 252.4)"><path d="M20.5 41.3l-2-.7-4 .2-2-1.1-2.5 .1-3.5-.5-2.5-1.6-.9-1.7-1.1-1.1-.9-1.9-.5-4-.7-2 .3-4-.2-4.5 1-2-.2-2 .6-2 .7-1.5 1.7-1.5 1.6-2 1.4-.5 1.7-1 4-.3 3.5-2.1 2.5-.2 1.8-1.4 6.2 .1 .5-.1 .3-1 .7-.5 2.5-.7 4-.1 4 .3 .5 2.5-.5 3.5-3 3.5-2 1.7-.9 1.8-.6 3.5 .6 4-.3 2.5-.9 2 .4 4-.7 4-2.1 1.6-4 2.3-.5 2.1-2 0-.9 .5z" fill="#fff5eb"/><path d="M17 36.1l-2.5-.3-2 .1-2.5-.9-1.5 .1-2 .5-.8-.6-.8-2-1.7-3-.6-3-.3-4 1.2-5.5 4.5-5.6 .5 0 1.5 .6 .5-.2 6.5-3.6 1.5-.4 4-.3 2-1.3 2.5-1.1 2-2.3 2-.4 2-2.5 1 .2 .6 .4 .5 1-.6 2 0 1.8-1.8 .7-1.7 3.2-4 3.7-1.5 3.1-.4 2-.5 1 .4 2.2 1.8 2.3 .4 1 .3 3.5-.5 2-.7 1.5-1.3 1.1z" fill="#fee8d2"/><path d="M16.5 35l-5-1.3-4.7-.7-.8-.6-1.6-3.4-.7-2 .5-2 .4-3.5 .4-.4 1 0 .4-.6-.4-.7-.8-.3 0-1 5.1-4.5 4.2-2.7 4-1.7 4 .5 1.9 .9 .7 1.5-.2 1.5-1.1 2.5-1.7 2 0 1.5 .8 1.5 2.9 3.5 .3 1 .4 3-.9 2-1.1 1z" fill="#fdd5ad"/><path d="M17.5 34l-1 .4-1-.2-3-1.3-2-.4-2-1.8-2-.2-1.6-3.5 .4-4 .2-.6 1.3-1.4 .3-2.5 3.4-3.6 3.1-2.4 2.4-1.2 3-.9 3.5 .7 1 .7 .4 .7-.1 1.5-.6 2-2.1 2.5-.1 1.5 .4 1 3.7 4.5 .7 3-.4 1.5-.9 1.2-3.5 1.6-2.5 .6z" fill="#fdb97d"/><path d="M17 33.7l-1.5 0-4.5-1.9-2-1.8-2-1-.9-3.5 0-2.5 1-1.5 .9-2.8 3.3-3.7 4.3-3 1.9-.7 2-.2 2.5 .6 1.1 .8 0 1-.6 2.2-2 2.5-.2 2.3 .4 1 1.6 1.5 .7 1.5 1.6 1.5 .5 2.5-.4 1.5-.7 .6-1.1 .4-1.9 1.3-2.5 .4z" fill="#fd9c51"/><path d="M17 33.2l-.5 .2-1-.2-3.8-1.7-.9-.5-1.3-1.6-1-.4-.7-1-.6-2-.3-3 1.3-3.5 3.8-4.4 4.5-3 3.5-.2 2.1 .6 .2 1-.6 2-1.2 1.4-.5 1.1-.3 1.5 .2 1.5 .6 1.3 1.5 1.4 .6 1.3 1.7 1.5 .2 2-.7 1.5-2.8 1.8-2.5 .3z" fill="#f87d29"/><path d="M17 32.7l-.5 .3-1-.3-3.8-1.7-1.5-2-1.6-1.5-1-4.5 .9-2.9 .8-.6 3.1-4 1.6-.7 2.5-2 1.6 .2 .3 .5 .1 1.1 .2-.1-.1-1 .5-.5 1.4-.2 .6 .2 .4 1-2.1 4-.1 3 .6 1.5 1.3 1 1.3 2 1.2 1 .2 .5 .1 1.5-.5 1-2.5 1.8-2.5 .2z" fill="#e95e0d"/><path d="M17 32.2l-.5 .3-1-.2-3-1.3-1.4-2-2-2-.7-4 .3-1.5 1.8-.3 .3-2.2 1.2-2.5 .5-.4 1 0 1 .9 2-2.9 1 1 1.5 .8 .3 .6-.7 2.5 .4 3.5 2.1 1.5 .9 1.8 1.1 .7 .4 1-.3 1.5-1.7 .9-.8 1.1-2.2-.2zM20.7 28l.6-1-.8-.3-.4 .3 .4 1.3z" fill="#cd4401"/><path d="M17 31.6l-.5 .4-.5-.1-2.8-.9-1.2-2-2.3-2-.2-4 1-.9 1.1-2.6 .9-.8 2 .2 2-.8 .5 .3 1.4 4.6 2.1 1 .8 1-.3 .8-1.7 1.2-.3 1.5-1 2zM22.5 28.3l-.2-.8 .2-.5 .2 .5z" fill="#a13403"/><path d="M16.5 31.3l-2.4-.3-.8-1-.2-1-2.9-2-.1-1 .6-1.5 0-1.5 1.3-2.8 .5-.5 2 .8 2 .4 .7 .6 1.3 2.3 2 .6 .3 .6-2 1.5-1.3 3.5z" fill="#7f2704"/></g></g>
<polygon points="333.9,271.4 335.9,267.8 339.0,265.3 342.5,263.2 345.6,263.2 347.6,264.7 348.6,266.8 346.6,268.3 345.1,271.3 345.1,273.9 346.6,275.9 349.2,277.0 350.8,279.5 350.2,283.1 346.6,284.6 344.1,284.6 341.5,286.1 339.0,285.1 336.4,282.6 335.4,279.5 333.9,276.5" fill="none" stroke="#1a1a1a" stroke-width="1.2" stroke-linejoin="miter"/>
<line x1="345.90" y1="252.42" x2="345.90" y2="295.47" stroke="#a8a8a8" stroke-width="1"/><line x1="325.15" y1="273.94" x2="366.65" y2="273.94" stroke="#a8a8a8" stroke-width="1"/><rect x="325.15" y="252.42" width="41.50" height="43.05" fill="none" stroke="#5c5c5c" stroke-width="1.0"/>
<g clip-path="url(#cp0_8)"><g transform="translate(368.9 11.5)"><path d="M22 34.5l-1.5 .1-2-.4-1.5 .1-2.5 .5-2-.5-2 0-2-.6-1.8-1.2-2.7-.5-1.2-1-.8-1.7-.5 .5-1.5 .4-.2-9.7 .2-1.6 .3-.4-.3-2.1 0-4.4 2-.5 1-1.5 2.4-1.5 2.1-2.5 1-.3 2 .3 4-1.1 2-1.2 2.5 .6 2.5-.9 2.5 0 5 2.1 2-.3 1.5 .3 1.5 1.3 1 2.2 3.5 .8 1.6 .7 .3 .5 .1 1.5 .5 .8 2 .9 0 .6-1.9 1.7 1.2 1 .5 1-.8 2-.9 4.5-1.6 .8-1.5 .4-1.5 .9-1.5 2.6-1.5 1.1-.5 .2-2-.4-.4 .4 .5 1.5-.1 .6-2.5-.1-1-.5-.5-.6-.5 .3-.5 .8-1.5 1zM20.6 6l-.1-.3-.2 .3z" fill="#f7fbff"/><path d="M15.5 29.5l-1 .3-.5-.1-3-2.2-.3-.5 0-.5 .6-1.5-.8-.7-.5 .2-.5 1-.5 .3-1 0-.9-.8-.4-2-.7-.8-.4-1.2-.3-3 .1-2.5 1.4-3 4.7-3.3 5-1.4 2 .7 2.5-.1 6 1.5 3 1.6 1.3 2 .7 1.7 1.6 1.3 .3 2-.9 1.2-2 .6-1 2.7-.2 2-.4 .5-.4 .4-2.5-.4-1.5 .5-2.5 1.5-4.5 .4zM15.4 27l-.9-.6-.5 .6 .5 .4z" fill="#e1edf8"/><path d="M22.5 25.7l-2.5 0-1.5-.6-2 .2-1.4-1.3-4-1.5-3.1-1.5-.6-1-.5-3.5 1.1-3 1-.8 1.5-.3 1-1.9 .7-.5 2.3-.1 2-.8 2 .3 2.5 .1 8 2.8 1.8 4.2-1.1 4-.7 1.1-2 .1-2 1-.5 .5-.9 1.8z" fill="#ccdff1"/><path d="M21.5 25l-1.5-.2-2.5-1.3-1-.8-2 .1-2-1.4-3-.8-1-.7-.4-.9-.3-2 .6-2.5 .9-1 2.2-1 1-1.9 2 .1 2-.8 4.5 .2 6 2.4 .6 1-.6-.3-.5 1.3 .5 .4 1.5-.3 .5 .2 .6 2.2-.6 3.3-.5 .2-1-.2-.4-.8 0-1-.7 0 .3 1-.2 1-2.7 2-1.3 2.2z" fill="#abd0e6"/><path d="M21.5 23.6l-1.5 0-3.5-1.6-2-.1-2-1.5-3-.5-.7-.9-.3-1 .1-2 .5-1.5 2.9-1.7 1-1.3 3.5-.8 3.5 0 5.5 1.9 .5 .5 .1 1.4 .4 .5 1.5 .5 .5 .4 .2 1.1-.2 1-2 0-2 .5 .8 1 .1 1-3.5 2.5z" fill="#82bbdb"/><path d="M20 22.6l-1 0-2-.9-2.5-.6-2-1.2-2-.1-.7-.3-.7-1-.1-1 .2-2 .6-1 2.2-.8 1.5-1.6 1-.4 2 .3 2-.6 1 .4 .4 .7 .6 .2 2-.5 2.5 .8 .5 .5 .5 1.5 2 1.4-.1 .6-.4 .4-2.5 .3-1 .5-.4 .3 .9 2-.4 .5-1.6 1z" fill="#58a1cf"/><path d="M22.5 21.5l-3.5 .4-4.5-1.5-2-.9-2-.1-1-.9-.1-1.5 .3-1.5 .8-1 2 .1 .8-1.6 1.2-.8 2 .5 2-.3 2 .8 2.5-.3 1.8 .6 1.2 2.1 1.4 .9-.6 .5-2.3 .2-1.3 .8-.4 .5 1 2z" fill="#3787c0"/><path d="M22.5 21.1l-3.5 .2-2.5-.7-3.5-1.5-2.5-.1-.6-.5-.1-.5 .2-2 .5-.7 2-.3 1-1.5 1-.9 2 .4 2-.1 2 .7 4 .4 .5 .3 .5 2 .9 .2-1.9 0-1.5 .5-.9 1.5 1.1 2z" fill="#1b69af"/><path d="M22 20.5l-3.5 .1-1.5-.6-1-.8-3.5-.6-2-.1-.1-2 .6-.8 1.5-.3 2-2.3 4 .2 3 .9 .5 .3 .1 .5-.3 1-.4 .5 .1 2.5z" fill="#084d96"/><path d="M19.5 19.8l-1 .1-2-1.6-2 0-3-.6-.5-.7 .1-.5 1.9-1.1 1.5-1.9 4 .2 2.3 .8-.4 2 .3 2-.2 .5z" fill="#08306b"/></g></g>
<polygon points="377.4,26.1 382.8,22.2 390.1,22.2 391.5,23.7 396.9,24.7 397.9,28.1 397.4,31.0 392.5,32.0 390.1,36.4 388.1,34.9 386.2,32.5 378.9,32.0 377.4,30.5" fill="none" stroke="#f7a41f" stroke-width="1.05" stroke-linejoin="miter"/>
<line x1="389.65" y1="11.47" x2="389.65" y2="53.77" stroke="#a8a8a8" stroke-width="1"/><line x1="368.90" y1="32.62" x2="410.40" y2="32.62" stroke="#a8a8a8" stroke-width="1"/><rect x="368.90" y="11.47" width="41.50" height="42.30" fill="none" stroke="#5c5c5c" stroke-width="1.0"/>
<g clip-path="url(#cp1_8)"><g transform="translate(368.9 57.1)"><path d="M25 38.5l-2.5-.2-2 .6-6-.8-2-1.1-3.5-.4-2.5-.9-1.5-1.1-3-1.6-.8-2-1.2-1.1-.2-13.4 .2-6.9 2-.3 2-1.8 2 .1 1.6-1.1 2.4-.9 2.5-.7 2 .4 2-1.5 4 .5 4-.1 2.5 .6 2-.1 2 .9 2 .3 2 .7 6 3.1 2 1.8 .4 5-.1 6.5-.3 4.6-1 1.9-.5 .7-2.2 .8-.2 2-3.6 2.6-2.5 1.1-2 .5-2 .3-2-.2z" fill="#f7fbff"/><path d="M30 33.6l-1.5 0-1.6-.6-1.1-1-1.8-2.4-1.3-.6-1.2-1.6-1-.6-2-.2-2-2-2-1-1.5 .3-.9 .6-1.1 3-1.5 1.2-1.5 .6-1.5 0-2-.9-1.1-1.4-.4-2.5 .4-2 .1-3.5 1.8-4.5 3.2-3.1 3.5-1.8 6.5-1.9 5-.5 5.5 .9 4 1.9 6.5 4.4 3.5 1.9 0 5.2-3.5 3-2.4 .5-.6 .5-2 2.3-.5 2.7-1 2-1 .6z" fill="#e1edf8"/><path d="M8.5 27.5l-1.5 .4-1-.3-1.5-1.1-.4-1 0-1 .6-2 .2-2.5 1.1-3.5 1.3-2 1.7-1.7 3-1.6 2.5-.8 4-1.1 4.5-.6 6 1 3 1.5 7 4.5 .9 .8 .7 1.5 .4 2.5-2.5 2.5-2.5 .7-5-.6-2-.7-4.5-.3-2-.8-2 .1-3.5-.4-4 .5-2 1.3-.9 1.7-.5 2zM31 30.7l-1 .1-1-.3-.6-.5-.3-1 1.4-.9 1.5-.3 .9 1.2-.3 1z" fill="#ccdff1"/><path d="M8 26.7l-1 .1-1-.4-.6-.4-.4-1 .6-2 .2-3 1-3 1.5-2.5 1.2-1.2 3-1.4 3.5-1 2.5-.7 4.5-.7 6 1.1 4 2.2 5 3.3 1.1 .9 .5 1 0 1.5-.8 1.5-1.3 1.4-1 .2-3-.2-5-1.4-3.5-.2-2-1-2.5 .2-4-.7-4 1.2-2.3 1.5-1.1 2-.4 2z" fill="#abd0e6"/><path d="M7 25.6l-.6-.6 .4-2-.4-2.5 1.1-3 1.5-2.9 1.3-1.1 1.7-.9 6.5-1.7 4.5-.7 6 1.1 4 2.2 5 3.5 .9 1.5-.3 1.5-1.1 1.3-1 .5-1 .1-2.5-.5-5-2.1-3 .1-2-.7-2.5 .1-4-.6-6.3 2.8-2.2 2-.5 2.2z" fill="#82bbdb"/><path d="M36.5 21l-1.5 .2-2-.5-4-2.7-4-.2-2-1.2-.5-.1-1.5 .2-2 .8-3.5 .1-2.5 1.6-2.5 .8-2 1.2-.5 .1-.5-.2-.2-.6 .4-2 1.3-3 .7-1 1.3-1 1.5-.6 2.5-.3 3.5-1.1 2-.1 2.5-.6 4 1 2 .1 4 2.2 2.5 2.2 2 1 .6 .7 .1 1-.4 1z" fill="#58a1cf"/><path d="M36 20.5l-1.2 0-1.8-.5-4-3.2-2.5 .1-3.5-1.7-4.5 1.5-4 0-1.3 1.8-1.7 .7-2.5 .6-.5-.2-.1-.6 1.1-3.5 2-1.8 7-1.6 2 .1 2.5-.9 2 .3 2 1 2-.1 4 2.3 2 1.9 2 1 .5 .6-.1 1.2z" fill="#3787c0"/><path d="M36 19.7l-3-.6-3.5-2.9-.5-.2-2 .1-2.5-1-1.5-1-2.5 1.4-2 .5-4 .1-.6 .4-.8 1.5-1.1 .7-1 .1-1.5-.3-.1-1 .5-2 1.1-1.1 1-.5 4.5-.7 2-.6 2.5 .2 1.7-.8 1.3 0 1 .2 2 1 2-.2 2 1.6 2 .8 2 2.1 1.8 1 0 .5z" fill="#1b69af"/><path d="M29 15l-2.2 0-2-1-.7-.5 0-.5 .9 0 1 .9 .5 0 2.5 0 .5 .6zM12 18.2l-1.5-.1-.5-.6-.1-.5 .5-1.5 1.6-1.3 4.5-.3 2.5-.6 2.1 .2 .4 .4-.1 .6-.9 .5-6 .4-1.2 1.1-.8 1.5zM33.5 18.1l-.5 0-2-1.6 0-.5 1 0 1 .5 .6 1 .1 .5z" fill="#084d96"/><path d="M12 17.6l-1.1-.1-.4-.5 .1-1 1.6-1.5 1.6 0 0 .5-1.3 2.3z" fill="#08306b"/></g></g>
<polygon points="375.3,75.2 381.1,70.0 386.3,69.2 388.3,67.5 395.5,67.5 399.4,70.0 405.2,73.7 409.5,74.3 410.4,76.5 408.5,77.8 406.5,79.8 402.0,79.8 400.7,77.8 391.6,77.5 390.3,75.9 381.1,75.7 376.6,77.5" fill="none" stroke="#f7a41f" stroke-width="1.05" stroke-linejoin="miter"/>
<ellipse cx="396.1" cy="90.8" rx="1.5" ry="1.5" fill="none" stroke="#f7a41f" stroke-width="1.3"/>
<line x1="389.65" y1="57.15" x2="389.65" y2="99.56" stroke="#a8a8a8" stroke-width="1"/><line x1="368.90" y1="78.35" x2="410.40" y2="78.35" stroke="#a8a8a8" stroke-width="1"/><rect x="368.90" y="57.15" width="41.50" height="42.41" fill="none" stroke="#5c5c5c" stroke-width="1.0"/>
<g clip-path="url(#cp2_8)"><g transform="translate(368.9 102.5)"><path d="M32 41.6l-1.5 .1-1.5-.5-4-.3-2-1.5-.5 0-.8 .6-.7 1.6-.5 .3-.7-.4-1.3-1.8-1 .4-3 .3-2-2.3-2 .8-1-.4-.9-1.5-1.1-.5-1.5-2-2-.4-1.1-1.1 .3-.5 1.3-.7 .7-.8-2-1-.3-.5-.2-4.5-2.7-1.1-.2-3.4 .2-5.4 2-.6-.8-.5-.5-2-.2-.5-.5-.2 0-2.3 .8-1.5 .7-.6 .5-.3 2 0 1.5-3.2 1.4 .1 1.1 1.3 .5 0 .5-.3 .5-.5-1.4-2 .2-2 4.2-.1 2 .3 2-.4 4-.1 17 .1 1.4 .2-.4 1.1-2.1 .9 .6 .9 .5 .1 1.5-.3 2-1 .5 0 .7 .8 .3 1.5-.2 2 .7 1.5 .3 5 0 10.5-.3 3-.4 1 .4 .2 .2 1.8-.2 1.4-.9 .6 .4 2-2 .9-1.5 .3-1.3 .8-.4 1-.9 1-.3 2-.6 .6-.9-.1-1.1-.9-2.5-1.4-.6 .3-.4 1.5 .2 1 .3 .4 1.7 .6 .1 .5zM4.5 2.9l-.5 0-.5-.3-.2-.6 .7-.5 .5 .2 .3 .3zM35.6 8.5l-.1-.2-.3 .2 .3 .2zM39.6 8.5l-.1-.3-.7 .3 .2 .5 .5 0zM2 11l.3-.5-.3-.7-.6 .2-.3 .5 .4 .4zM.5 31.1l-.5 .2 0-3.1zM39.8 29l-.6 0 .3 .2z" fill="#f7fbff"/><path d="M18.5 35.1l-.5-2.1 1.5-.7 .8-1.3-.9-2-2.9-1.3-1-1.2-1-.5-1.4 .5-.3 2.5-.6 0-.2-.5-.2-1.5 .5-2-1.5-2.5 .2-2 .9-2 .1-1 1-.6 1.5-.4-1.1-.5-.9-1.2-1 2-1.5 .3-.8 .4-.7 1.7-.5-.2-.5-1.9-.5-.6-.1-2 1.6-2.3 2.5-.7 .5-.5 .2-2.5 .3-.6 .5-.3 2 .8 .5-.3 .7-.6 .8-1.4 .9-.6 .5-1.5 .6-.5 4 .2 2.5 1.1 4 0 1-1.3 1-.5 2.5 2 .7 1 0 4.5 .5 1.5 .8 .1 2-.4 1.5 .3 .9 .5-.6 .5-1.8 .7-.7 .8-.4 2 1.6 2-.3 1-1.7 1.1-1.5 .5-.6 .9-.1 1 .3 .5 2.2 1 .4 .5-.9 2-.1 2-.7 1-.8-3-1.2-1-2.4 3 1 2-2.6 2.1-1-1.6-3.5-1.1-1.5-.9-.5 0-1.2 1.5 .2 .2 1 1 2 .1 .5 .7-.5 .4-1.5 .2-3 .1-.7 .3zM12.7 14l1.8-.4 2.2-1.1 .8-2-.5-.9-.5-.4-.5 .3-1 1.4-3.2 1.1-.1 .5 .3 1 .5 .7zM23.8 14.5l-.8-.5-.8 .5 .8 .4zM39.5 20.5l-.5 .4-.2-.4zM8.5 25.8l-.6-.3-.3-1 .4-.6 .5-.2 .7 .8 0 .5zM20.9 27l-.4-.2-.1 .2 .1 .2zM16 31.1l-1.5 .2-.5-.3 .5-1 1.7 1zM35.5 33.2l-.5 .2-.4-.4 .4-1.4 .5 .7z" fill="#e1edf8"/><path d="M22.5 13l-.5 0-.5-.5 1-1 .5 0 .6 1zM24.5 24.6l-2.7-.6-.5-1 0-2-.3-.2-.5-.2-.9 .4-.6 .9-.5 .1-.5-.7-1.6-.8 1.3-.5 .6-1.5-.6-1-1.3-1-.2-2 .3-.2 1 .1 1 .5 .5-.4 .2-1 1.3-.2 .6 .2 .2 1 1.2 1 .5 .1 1.8-1.1 .7-1.5 1.5-1.5 1 .6 1 1.3 1.9 1.6 1.2 1.5-1.1 1.1-.3 .9 1.2 1.5 .2 1-.6 1.5-1.5 1.2-1 .4-2-.5zM35 19l-.4-.5 .4-.5 .6 .5z" fill="#ccdff1"/><path d="M29 20l-4 .5-2.5-.8-2-.1-.9-1.1-.3-2 1.2-1.4 2 1.1 .5 0 2-1.1 1-1.5 1-.7 1.2 1.1 .6 2.5 1 1 .1 2-.4 .5zM31 21l-.3-.5 .3-.1zM25.5 23.1l-1 .2-.9-.3-.5-.5 .8-1 .9-.5 .2-.4 .1 .4 .9 .5 .3 1z" fill="#abd0e6"/><path d="M29 19.2l-3.5 .1-1.4-.3-.7-.5-.1-.5 .2-1.5 2-.9 .5-1.1 1-.8 .8 .8-.1 .5-.4 1-.8 .5 .5 .6 2 .6 .4 .8zM21.5 18.7l-1-.2-.3-1.5 .3-.8 1.4 .3 .2 .5-.1 1.5z" fill="#82bbdb"/><path d="M27 14.9l-.3-.4 .3-.1z" fill="#58a1cf"/></g></g>
<polygon points="379.2,110.8 381.2,108.3 383.6,107.8 385.6,106.3 387.5,108.3 386.5,110.2 382.6,113.6 380.7,114.1 379.2,112.8" fill="none" stroke="#f7a41f" stroke-width="1.05" stroke-linejoin="miter"/>
<polygon points="396.3,115.1 397.8,112.2 399.7,111.2 401.7,112.8 404.1,114.6 403.6,116.6 400.2,117.5 398.2,118.0 396.8,117.0" fill="none" stroke="#f7a41f" stroke-width="1.05" stroke-linejoin="miter"/>
<polygon points="394.3,120.5 395.8,119.0 399.2,119.0 402.1,119.0 405.1,120.0 406.5,121.4 404.6,122.9 402.1,124.4 399.2,124.9 396.8,126.8 395.3,127.3 393.9,124.4" fill="none" stroke="#f7a41f" stroke-width="1.05" stroke-linejoin="miter"/>
<polygon points="377.8,123.4 379.2,121.4 380.7,123.4 379.2,125.3" fill="none" stroke="#f7a41f" stroke-width="1.05" stroke-linejoin="miter"/>
<polygon points="381.9,132.1 382.9,130.6 386.4,130.3 387.5,132.1 386.4,133.8 382.9,133.8" fill="none" stroke="#f7a41f" stroke-width="1.05" stroke-linejoin="miter"/>
<line x1="389.65" y1="102.55" x2="389.65" y2="144.55" stroke="#a8a8a8" stroke-width="1"/><line x1="368.90" y1="123.55" x2="410.40" y2="123.55" stroke="#a8a8a8" stroke-width="1"/><rect x="368.90" y="102.55" width="41.50" height="42.00" fill="none" stroke="#5c5c5c" stroke-width="1.0"/>
<g clip-path="url(#cp3_8)"><g transform="translate(368.9 147.4)"><path d="M43 43l-32.5 .4-3.6-.4-.7-1-.6-1.5-.2-3 .4-2 .9-2.5-1.1-1-.5-1 .3-1.5 1-.5-.7-1-.1-1 .1-1 .7-1-.1-2 .6-2.5-2.5-2 2.1-.6 1-.7 .5-.7-2-1.4-.5-.6 .5-.9 1.2-1.1 .1-2 .3-.5 2.9-1.1 2-.1 .7-.3 .4-.5-.4-1-.9-.5-.1-.5 1.5-1.5 .2-2.5 .6-1 .5 .6 .5 1.5 1 .7 1.5-1.8-.9-2 .4 0 13.5-.1 2.5 .7 4-.6 .5 .1 1.5 2 1.5-.8 2 .2 0 2-.3 .5 .3 .1 .4 1.4 0 4.5-.1 27.5z" fill="#f7fbff"/><path d="M25 43.1l-3-.2-5.5 .5-5.5-.1-1.7-.3-.3-1.5-1.4-2-.3-1-.1-1.5 .2-1.5 1.1-1.4 2-.9 1.5-1.1 1 0 1.5 1 .2-.1 .8-2 1.5-1.3 .6-1.7 2.2-1-.3-.6-2.5-.7-2-1.7-1.5-2-1-3.5 1-1 1.6-3 1.4-.9 2-.2 .4-.4 0-.5 .9-.5 1.2-1.3 1.3 1.8 .7-.2 .7-2.3 1.3-.6 .4-.9-.1-1-.7-1.5 2.4-2 2 .3 2-2.2 2 .6 4-.4 2.3 1.7 3.7 1.5 .2 .5 .1 15-.3 6.5-1.5 .6-.5 .9 0 2-2.4 2-.3 4-.4 .5-.9 .4-2-.9-1.1 2.5-.9 .7-4 1.9-2-1.2-1.6 2.1zM21 7.6l-.6-.1 .1-1.4 .5 0 .2 .4zM20.6 14.5l-.1-.4-.4 .4zM20.6 25.5l.5-.5-.6-.4-.2 .4zM14.5 28.2l-1-.9-.1-.8 .9-1 1.2 0 .4 .5 .1 1-.5 .6z" fill="#e1edf8"/><path d="M18 43l-7.4 0-.4-1.5-1.8-3.5 .1-2.5 1-1 3-1.3 2 1 2-1.2 2.5-.7 1.5-1.1 2-1 1.4-2.7 0-4.5 .1-.7 .5-.7 .5 0 1.1 .9 .2 .5-.8 2 .3 1 .7 .5 .5 .1 1.4-2.6 2.2-1 1.4-3.6 .9-3.9-.4-.6-1.5-.6-2.6-2.3-1.9-3-.1-1 .4-1 1.2-.9 1.5-.6 1.5-1.5 5-.4 1.5 .3 5.2 2.6 .3 .5 0 4.9-.9 3.6 .2 .5 .7 .3 0 .8-.5 .7-.5-.3-.5-1.5-.3 1.5 .3 2.5 .5-1.1 .5 0 .5 .6 0 2.4-1 3.5-1.5 1.2-1.5 3.1-2 2.2-2 .9-2 2.7-2 0-1.1 3.5-.4 .5-.5 .3-.5-.2-1.5-1-3.5 3.1-3 .3zM18.5 23.8l-3-1.9-.7-.9-.2-1 .4-.9 1.7-.1 .4-.5-.2-1 .4-1 1.2-.3 1.6 .3 .6 .5 1.6 3.5-.8 1zM29 21.2l-.3-.7 .3-.4 .7 .4-.2 .5z" fill="#ccdff1"/><path d="M17 43l-1.5 0-1-.3-2 0-1-.6-2.4-4.1-.1-1 .4-1.5 .6-.5 1.5-.4 3 .2 2-1.1 2.8-.7 2.2-1.3 1.9-.7 .6-1 1-.8 2-.5 2.5-3.1 1.5-.5 2 .3 .6-1.4 .1-1-.5-2.5 .8-5-.5-2.3-.5-.9-.8 .7-1.2 .2-.9-.7-2.8-4 .1-.5 2.1-1.3 1.7-.2 1.1-1.5 1.7-.5 3-.1 3 1.3 2 1.6 .4 1.7 0 1.5-.6 2.5-.8 1.2-.9 .8-.3 1 .3 2.5 1.1 3.5 .3 2.7-.5 .4-1.5-.9-.9 .3-.3 .5 .6 2-1 2-.9 1-2.5 1.5-1.5 2.7-2.5 .8-1.5 2.9-2-.6-2.7 2.2-1.4 1.5-2.4 .3zM37.8 15l.6-.5-.9-.4-.7 .4 .2 .4zM18.5 22l-2-.5-.7-.5-.2-.5 .3-.5 1.5-1 .6-1.3 .5-.3 1 .6 .7 2-.4 1z" fill="#abd0e6"/><path d="M17.5 42l-1 .4-3-.2-1.5-.6-1-2.2-1-1-.4-.9 .3-1.5 .6-.5 1 .1 .3 .4 .3 1.5 .4 .3 .5-1.8 .5-.4 3-1.4 4-1.2 3.5-2 1-1 3-1 1.5-2 1-.8 1-.2 1.5 .7 .5-.5 1.1-1.7 .3-1.5-.9-2.5 .1-2 .7-3-.3-1.5-.5-1.5-.5-.5-.5-.2-2 .7-1.7-3 0-1.5 .7-.7 2.2-.8 1.3-1.1 1.5-.4 2-.2 2.6 1.2 2.2 2 .1 2-.7 2.5-1.2 1.2-1 .1-2-.2-.9 .9 .1 .5 .8 .8 1.6 .7 .6 2 1 1.5 .3 1.5-.1 1.5-.4 .4-2 .6-.5 .5-1.1 4.5-1.4 .8-1.6 .2-.5 1 .3 1-.1 1-.4 .5-3 1.5-.7 1.3-2 .1-2 1.9-2 1.1-1 1zM17.5 21l-.9-.5 1.9-1.7 .4 .7-.2 .5-.7 .8zM27.1 33.5l.1-.5-.2-.2-.3 .2z" fill="#82bbdb"/><path d="M35.5 13.7l-.5-.2-1-1.8-2.7-.7-1.1-1.5-.3-1 .6-.8 4-2 2.5-.5 1.9 .8 2.1 1.7 .5 .8 0 1-.5 2-1 1.3-1 .3-2 0zM39.5 23l-1.5 0-1-.7-1.5-.2-.5-.5-.4-1.1 0-2 .4-1.4 .5-.8 1.5 .3 1.3 1.9 1.5 1.5 .3 1.5-.2 1zM35 28.5l-.7-.5-.4-1 1.1-1.5 .5-.1 .5 .5 .2 1.1-.7 1.4zM17.5 41.5l-3.5 .2-1-.2-.6-.5-.4-1 0-.9 .7-.6 .8-2 3-1.9 4-1 1.4-1.1 3.6-2.1 4.2-1.4 .4-.5 .4-1.5 .5-.4 1 .4-.2 1-.5 1 .8 1 .4 2-.1 1-3.4 2-2 .6-2 2.2-2.4 1.2-1.1 .9-3 1.5zM27.2 34l.3-1-.5-.6-.6 .6 .6 1.3zM11 38l-.5 0-.4-.5 0-.5 .4-.6 .7 .6z" fill="#58a1cf"/><path d="M38.5 12.6l-3 0-1-1.3-2.2-.8-1.3-1.3-.4-.7 .4-.5 4.5-2.2 1.5-.2 1.2 .4 2.5 2 .3 1-.8 2.5-.7 .7zM39 22.5l-3.5-1.6-.5-1.9 .5-1.2 1 .1 1 1.1 1.5 .7 .5 .6 .1 1.2zM35 27.3l-.2-.3 .2-.4 .5 .4zM18 41l-3.5 .3-.8-.3-.5-1 .4-.5-.1-2 .6-1 2.9-1.7 1.5-.5 2-.1 1.5-1.4 6-2.9 2-.4 1.2 .5 .7 2-.1 1-2.8 1.6-.5 0-.5-.2-.3-1.4-.7-.9-.5 .2-.3 .7 .5 2-1.7 2.3-2.5 1.2-3.5 2.2z" fill="#3787c0"/><path d="M38 12.1l-2-.4-1-1.3-2-.1-1.5-1.8 .5-.5 3-1.5 1.5-.5 1 0 2.4 2 .5 1-.6 2-.8 .7zM39 21.3l-1-.3-.3-.5 .3-.2 1 .2zM18.5 40.5l-2.5-.1-.8-.4-.1-.5-1.1-1.4 .1-1.1 3.3-2 1.6-.4 1.5 .2 2-2 5.5-2.5 1.5-.3 1.2 .5 .6 1.5-.1 1-2.2 1.2-.5-.2-1.5-2.4-.5 0-.5 1.4 .2 2-1.2 1.7-3 1.5-1.6 1.3z" fill="#1b69af"/><path d="M38.5 11.2l-1.5 .2-.7-.4-.8-1.1-2.2-.4-.7-1 .5-.5 1.9-1 2.1-.5 .3 .5-.8 1 .1 .5 .3 .3 2-.3 .6 .5-.2 1.5zM29.5 33.5l-.5 .3-.4-.3-1.4-2.5 1.8-.7 1 .4 .6 .8 .1 1-.2 .5zM18.5 40l-1.5 0-1-.5-1.5-1.4 0-1 1-.2 1.7-1.4 1.3-.6 1.3 .1 .7 .6 .5-.3 1.6-2.3 2.4-1.1 .5 .1 .4 2.5-.9 1.6-1.5 .9-2 .6-1.3 1.4z" fill="#084d96"/><path d="M36 9.1l-1.5-.1-.7-.5 .3-.5 1.4-.5 .5 .5zM38.5 10.5l-1 .4-.5-.1-.5-1 1.8-.3 .4 .5zM29.5 33.2l-.5 .2-.4-.4-.5-1.5 .1-.5 .8-.2 1 .7 .1 1zM23 36.6l-1.2-.1-.2-.5 .4-1.5 1-1.5 2-.8 .5 .8-.2 2-.8 1zM18.5 39.5l-1.2 0-.8-.4-.4-1.1 1.1-1-.1-.5 .4-.5 1-.7 .5 0 .5 .2 .3 .5-.3 .6-1.4 .4 .2 .5 1.1 .5 .1 .5-.2 .5z" fill="#08306b"/></g></g>
<polygon points="396.3,155.8 399.2,152.3 406.0,151.9 410.0,154.3 410.5,154.9 410.5,161.6 408.0,160.6 400.2,160.1 397.8,158.2" fill="none" stroke="#f7a41f" stroke-width="1.05" stroke-linejoin="miter"/>
<polygon points="377.3,183.6 379.2,181.1 381.7,181.6 384.1,183.6 387.5,182.1 389.5,181.1 392.9,178.7 396.3,177.2 400.7,177.7 401.7,179.7 399.2,180.6 395.3,182.1 391.9,185.5 389.0,187.5 387.0,188.9 381.7,188.9 378.3,186.5" fill="none" stroke="#f7a41f" stroke-width="1.05" stroke-linejoin="miter"/>
<polygon points="383.6,166.5 388.0,162.1 390.9,165.0 389.9,168.0 387.5,170.4" fill="none" stroke="#f7a41f" stroke-width="1.05" stroke-linejoin="miter"/>
<polygon points="391.4,164.5 393.9,162.6 395.8,164.0 393.4,166.5" fill="none" stroke="#f7a41f" stroke-width="1.05" stroke-linejoin="miter"/>
<polygon points="402.6,166.5 404.1,164.5 407.0,164.0 409.5,165.5 409.0,168.9 406.0,170.4 403.6,169.4" fill="none" stroke="#f7a41f" stroke-width="1.05" stroke-linejoin="miter"/>
<line x1="389.65" y1="147.40" x2="389.65" y2="190.00" stroke="#a8a8a8" stroke-width="1"/><line x1="368.90" y1="168.70" x2="410.40" y2="168.70" stroke="#a8a8a8" stroke-width="1"/><rect x="368.90" y="147.40" width="41.50" height="42.60" fill="none" stroke="#5c5c5c" stroke-width="1.0"/>
<g clip-path="url(#cp4_8)"><g transform="translate(368.9 207.5)"><path d="M17 35.2l-2.5 .1-4.5-1.7-1.9-1.6-1-1.5-.4-1-.1-2 .2-1.5 .8-2.5 1.7-2.5 .9-2 0-.5-.7-2 1.3-2 0-2-.8-.7-.4-.8 0-2.5 .9-2.5 .5-.6 1-.5 2.5 .4 2.3-.3 .9 .5 .8 1 1.5 .1 .3 .4-.8 4.5-1 1 2.5 .3 .5 .7 .1 1-1.7 2 .1 2 2.2 3.5 3.1 3 1.3 3-.2 2-1.4 1.7-2 1.1-2.5 .7z" fill="#fff5eb"/><path d="M16.5 33.6l-2 .2-4-1.7-2-2.6-.2-1.5 .5-2.5 1.1-2 1.6-1.2 4.5-.7 1.5 0 1.5 .5 3 1.9 1.7 2 1 2 0 1.5-1.2 1.4z" fill="#fee8d2"/><path d="M17 32.1l-2.5 .3-3.5-1.8-1.1-1.1-.3-1.5 .4-1.9 2.5-2.4 3-.4 3 .1 2 .7 1.8 1.9 1 2.5-.3 1-1.5 1.1z" fill="#fdd5ad"/><path d="M17.5 31l-1 .3-1.5-.1-2.5-1-1.5-1.2-.2-1 .2-.9 2.5-2.6 1-.4 3.5 .1 2.5 .8 .9 1 .8 2-.1 1-1.6 1.1z" fill="#fdb97d"/><path d="M18.5 30l-2.5 .4-3.4-1.4 .1-1.5 .6-1.5 .7-1 1-.3 2.5 .1 2 .5 1.2 .7 .6 1 0 1.5-1.1 1z" fill="#fd9c51"/><path d="M18 29.6l-2 0-2.2-1.1-.2-1.5 .9-1.6 3 0 2 .7 1 .8 .2 .6-.4 1-.8 .6z" fill="#f87d29"/><path d="M18.5 28.7l-1.5 .2-1.7-.4-.9-1 .1-1 1.5-.6 2 .5 1.4 1.1-.1 .5z" fill="#e95e0d"/><path d="M17 28l-1-.3-.4-.7 .9-.4 .9 .4 .2 .5z" fill="#cd4401"/></g></g>
<polygon points="377.3,234.3 378.2,231.4 380.7,230.6 383.6,230.6 385.6,229.2 387.5,230.6 389.5,233.3 393.9,236.7 392.4,238.7 390.0,237.2 388.0,238.7 385.6,241.1 383.6,241.3 381.7,239.7 378.7,239.2 377.3,237.2" fill="none" stroke="#1a1a1a" stroke-width="1.2" stroke-linejoin="miter"/>
<line x1="389.65" y1="207.47" x2="389.65" y2="249.82" stroke="#a8a8a8" stroke-width="1"/><line x1="368.90" y1="228.65" x2="410.40" y2="228.65" stroke="#a8a8a8" stroke-width="1"/><rect x="368.90" y="207.47" width="41.50" height="42.35" fill="none" stroke="#5c5c5c" stroke-width="1.0"/>
<g clip-path="url(#cp5_8)"><g transform="translate(368.9 252.4)"><path d="M18.5 41.7l-2 .2-1.5-1.1-2-.7-.5-.7-.7 .1-1.3 .7-4-.4-2.8-2.3-1.9-2-.6-4.5-1.2-2.5 .2-8-.2-2 1-2 .2-2.5 1-1.5 .9-3 1.9-1.7 3-1.6 .8-.7 2.2-.6 1.5-1.2 2-.9 2 1.1 1-.8 1.5-.2 .9 .6 .6 1 .5-.1 .6-.9 .9-.5 2-.3 2-.7 2.2-2 5.8-.3 3.7 .3 1 3-.2 2-1.5 2.9-1.5 1.1-1 2-2 1-.3 .5-.5 2-1 2 .2 2 1 1.5 .9 2.5-.3 2.5 .1 2-.1 .3-1-.3-1-.7-.7 2.7 .4 1 1.5 1-1.2 1.4-2 .9-.7 1.2-1.3 1-3.3 4-.7 1.7-.5 .2-.8-1.9-1.2-.7-2 .6 .4 1.6z" fill="#fff5eb"/><path d="M18 36l-3.5 0-4-1.3-2.5 .6-2-1.3-2.2-2.5-.3-.5-.1-2-.8-1.5-.2-1.5 .3-5.5 .8-3 1.5-2.4 2-1.9 1-.4 2.5 0 1-.6 1-1.3 2.6-.9 2.9-1.7 1-.2 2 .5 2-.2 6-5.4 2 .3 2.5-2.2 1-.3 1 .2 .5 .5 .4 1-.4 1.7-.5 .6-2.6 1.2-.9 2.6-2 1.9-1 1.9-2 .8-2.6 6.3 0 1.5 1.9 2.5 .9 2.5 .4 3-.6 2-3 2.7-5 2.1z" fill="#fee8d2"/><path d="M18.5 34.7l-3.5 .1-4-1.4-2.5 .1-1.2-.5-1.7-2-.2-2-1.6-2 .6-2-.5-2.5 .5-3 .6-1.1 1.5-1 2-.6 .3-.3 .3-1.5 2.9-1.6 2-1.9 2.5-.6 1.5-1.1 1-.3 4 .6 2.2 1.9-.3 2-1.4 2.6-1 3.4 .7 2 1.8 1.6 .9 1.4 .6 4-.8 1.5-2.4 2.5z" fill="#fdd5ad"/><path d="M17 34.1l-1.5 0-1.5-.4-2-.8-2.7-1.9-1.8-.6-1.1-1.9-1.4-1.5 .2-2-.3-2.5 .5-2 .7-1 2.9-2.3 1.5-1.9 2-1 1.5-2 .5-.4 2-.4 2-1.1 1 0 2.8 .6 1.2 1.5 .2 1-1.6 4-.4 3 .8 2.2 2.5 1.8 .3 .5 .3 3.5-1.6 2.8-1.2 1.2-1.8 .7z" fill="#fdb97d"/><path d="M18 33.1l-2 .4-2-.4-1.3-.6-2.2-1.9-2.5-1-1.9-3.1-.2-3.5 .3-2 .6-1 4.2-4.2 2.2-1.3 1.2-2 2.1-.4 2-1 1-.1 2 .5 .5 .5 .5 1-.1 2-1 2-.4 4 .5 1.5 1 1.4 .5 .5 1.6 .6 .3 1 0 1.5-.7 2.5-1.6 2-1.6 .7z" fill="#fd9c51"/><path d="M18 32.6l-2 .4-2-.4-1.1-.6-2.4-2.1-2-1-1.6-4.9-.1-1.5 .6-2 1.2-1.5 2.9-2.9 2.6-1.6 .4-1 1.5 0-.1 1 .6 .2 .5-.2-.3-1 .5-1 1.3-.6 1.5-.2 1.1 .3 .5 .5 .4 1-.2 1.5-1.2 1.5 .2 2-.4 2 .1 1 .5 1.3 1.5 2.3 1.5 .5 .3 1.9-.7 2.5-1.3 1.5-1.8 .8z" fill="#f87d29"/><path d="M15.5 32.5l-1-.1-1-.5-4.4-3.9-.3-1-.2-2-.9-2 .1-1.5 .4-1 1.1-1.5 2.7-2.7 2.5-1.5 2 .4 1.9-.7 .2-1.5 .7-.5 1.2-.1 .7 .6 .3 1-.3 1-1 1.5 .1 2-.3 2.5 .6 2 1.7 2.5 1.2 1 .1 2-.9 2-1.7 1.2zM16.8 18.5l-.3-.3-.3 .3 .3 .5z" fill="#e95e0d"/><path d="M16 32l-1.5 0-.5-.2-4.2-3.8-.5-1-.1-2-.7-2 .1-1.5 .3-1 1.1-1.4 1.5-1.2 .9-1.4 2.1-1.1 2 .4 2.5-.9 .6-.4 .4-1 .5-.2 .4 1.2-1 1-.1 3-.4 2 1 3 1.4 2.5 1.2 1-.1 2-.5 1-1.4 1.2zM16.6 19.5l.7-1-.8-1-.9 1 .4 .8zM14.7 29l-.2-.2-.2 .2z" fill="#cd4401"/><path d="M15.5 31.6l-1 0-.5-.3-1-1.3-3-2.5-.4-1 .1-1.5-.5-2 0-1 .3-1.1 1-1.3 1-.5 1-.1 .7-.5 .4-2 .9-.4 2 .3 2-.8 .5 .2 .3 .7-.1 2-.4 2 1.2 3.2 .8 1.3 .1 .5-.4 .7-1.5 0-.4 .3-.1 .5 3.3 .5 .4 .5 .1 1-.6 1-1.2 1-4 .3zM16.9 20l.7-.5 .3-1-.6-1-.8-.8-1.1 .8-.4 1.5 .5 .9zM14.7 29.5l.4-.5-.6-.7-.9 .7 .4 .5 .5 .2z" fill="#a13403"/><path d="M18.5 17.9l-1-1.4 1-.3 .3 .3zM15.5 31.1l-1 .1-.3-.2 .1-.5 .8-.5 .5-1-1.1-1.2-2 1.2-2.4-2-.1-1 .4-1-.5-2.5 .6-1.6 1-.8 1-.2 .5 .2 1.5 1.5 1.5-.7 1.5-.1 1 .4 .8 1.3 .1 2-.9 .5-.3 2 .3 .6 2.5 .5 .5 .9-1 1.3-4 .3z" fill="#7f2704"/></g></g>
<polygon points="377.7,271.4 379.7,267.8 382.8,265.3 386.3,263.2 389.4,263.2 391.4,264.7 392.4,266.8 390.4,268.3 388.9,271.3 388.9,273.9 390.4,275.9 393.0,277.0 394.5,279.5 394.0,283.1 390.4,284.6 387.9,284.6 385.3,286.1 382.8,285.1 380.2,282.6 379.2,279.5 377.7,276.5" fill="none" stroke="#1a1a1a" stroke-width="1.2" stroke-linejoin="miter"/>
<line x1="389.65" y1="252.42" x2="389.65" y2="295.47" stroke="#a8a8a8" stroke-width="1"/><line x1="368.90" y1="273.94" x2="410.40" y2="273.94" stroke="#a8a8a8" stroke-width="1"/><rect x="368.90" y="252.42" width="41.50" height="43.05" fill="none" stroke="#5c5c5c" stroke-width="1.0"/>
<g clip-path="url(#cp0_9)"><g transform="translate(412.6 11.5)"><path d="M19 35.1l-.5 .1-2-1.1-2 0-2-.5-2.5-.1-1.5-1.1-2.5 .7-3.7-2.1-2.3-1.8 0-5.2 .9-1 0-.5-.9-.8-.1-.7 .1-7.1 2.1-1.4-.6-2 .5-1.3 1-.1 .4 1.4 .6 .4 .7-.4 .1-.5-.3-.7-1-.6 .5-.7 4 .1 1-1.1 3.5-1.7 2-.2 2 .7 4-2 2 .8 2.5 .4 4-.1 2 1.2 1-.4 1-.1 .8 .4 .6 1 .6 .6 2 .7 2-.2 .5 .2 .8 1.7 .3 2-.1 .5-1 .5-1.1 1.5 3.1 1.5 .8-.5 .7-2.1 0 .6 0 3-.7 1-.4 1.5-.5 1-.4 4.5-.6 1.5-.9 .8-2.5 .6-2 1.1-2-.3-.4 .3 0 2-1.6 1.2-2 .4-2.5 1.1-4 .2-2 .4zM43 23.4l-1.1-.4 .1-1 .5-.3 .5-.1z" fill="#f7fbff"/><path d="M16.5 30.2l-2 .1-2-4.4-2 2.2-2-1-.2-.6 .4-1.5-.1-.5-.6-.4-1.5-.2-.5-.5-.3-.9 0-2-.7-2.5 .2-2 1.3-3.5 4-2.9 2-.4 2-1.5 2 .4 2-.1 4 .4 2 .9 2.5 .2 3.8 3 1.4 3 .3 1.7 .8 1.3-.8 1-1.5 1-.2 2-.8 1.1-1 .7-2 .4-3.2 2.3 .8 2-2.3 0-1.3-1.8-.5-.2-.5 .6-1.5 .6z" fill="#e1edf8"/><path d="M19 25.7l-.5 .1-2-.7-2-1.7-2.5-.5-3.5-1.2-.7-.7-1-2-.3-2.5 1.3-3 .7-.6 2-.8 1-1.1 1-.5 2-1.6 1 .3 1 .6 4.5-.4 2 1.1 4 .8 2.5 2.4 1.3 2.8 0 2-3.3 3.9-3 1.9-2 .6-2-.2z" fill="#ccdff1"/><path d="M19 24.5l-.5 .1-2-.9-2.5-1.6-4.5-.9-1-.8-.9-1.4-.1-1.5 .4-1 .2-2 .3-.5 1.1-.8 1.7-.7 3.3-2.8 2 1 2-.1 1.5-.6 1 .1 4 2.3 2-.1 2.1 2.2-.1 2 .6 1 .1 1-.7 1.1-2 1.7-3.5 2.2-1.5 .6z" fill="#abd0e6"/><path d="M21.5 23.6l-3 .1-2-.9-2-2-2-.2-2 .3-.8-.4-1.2-1.2-.4-.8 .6-2 0-2 .8-.7 2.4-1.3 2.6-2.1 2 .7 2 0 2-.6 3 1.5 1.5 1.3 1-.3 1 0 1.5 1.5 0 2 .3 2-2.2 2-3.7 2.5z" fill="#82bbdb"/><path d="M21.5 23.2l-1.5 .2-1-.2-1.5-.9-1.8-1.8-1.2-.5-3.8 0-1.6-2 .2-3.5 2.7-1.6 2.5-1.9 2 .5 2 .1 2-.6 .5 .2 2.4 1.3 1.1 1.7 .5 .2 1-.8 1 0 .9 .9 .1 .5 0 2.5-.3 .5-1.1 .5-.8 1.5-2.4 1.5z" fill="#58a1cf"/><path d="M20.5 23l-1-.2-2.4-2.3-2.6-1.4-2 .6-1-.2-1.8-2.5 .1-2.5 3-1.5 1.7-1.4 4 .4 2-.5 2.3 1 1.1 2 .6 .4 .5 .1 1.5-.9 .5 .1 .6 1.3-.1 1.3-.3 .7-1.5 1-.7 1.1-2.6 1.4-.7 1.5zM12.8 16.5l-.3-.4-.6 .4 .6 .4z" fill="#3787c0"/><path d="M19.5 20.7l-3-.9-2-1.4-2 .9-.7-.3-.4-.5 0-1 1.1-.1 .5-.6 0-.7-.5-.6-.5 .2-.9 .8-.1 .6-.5 0-.5-1.1 .3-1.5 2.2-.7 1 0 .2 .7 .8 .4 .5-.4-.8-1.5 .3-.7 4 .1 2-.3 2 .9 .8 1.5 1.2 .9 .5 .1 1.5-.6 .5 .3 0 1.6-3 2.5-1.5 .7zM20.5 22.5l-.3-.5 .3-.5 .2 .5z" fill="#1b69af"/><path d="M21 19.5l-4.5-.2-2-1.3-1 .1-.2 .4-.8 .4-.5-.4 1.3-1 .4-2 1.8-1 0-1 .3-.5 .7-.2 3.5 .1 .6 .1 .6 .5 .2 .5-.4 .5 1.5 .2 1.5 1.1 2 .3 .4 .4-3.4 2.6z" fill="#084d96"/><path d="M22.5 18.5l-2 .2-2-.3-2 .4-2.5-1.7-.2-.6 .3-.5 1.9-1.5 .5-1 2 .2 .9 .3 1.1 1.2 1.5 .7 .7 .6 .4 .5z" fill="#08306b"/></g></g>
<polygon points="421.1,26.1 426.5,22.2 433.8,22.2 435.2,23.7 440.6,24.7 441.6,28.1 441.1,31.0 436.2,32.0 433.8,36.4 431.8,34.9 429.9,32.5 422.6,32.0 421.1,30.5" fill="none" stroke="#f7a41f" stroke-width="1.05" stroke-linejoin="miter"/>
<line x1="433.40" y1="11.47" x2="433.40" y2="53.77" stroke="#a8a8a8" stroke-width="1"/><line x1="412.65" y1="32.62" x2="454.15" y2="32.62" stroke="#a8a8a8" stroke-width="1"/><rect x="412.65" y="11.47" width="41.50" height="42.30" fill="none" stroke="#5c5c5c" stroke-width="1.0"/>
<g clip-path="url(#cp1_9)"><g transform="translate(412.6 57.1)"><path d="M27 38.2l-2-.1-2.5 .3-2-.3-2 .2-2-.7-4 .3-5.5-1.9-1.8-1-1.2-1.7-2-.4-1.1-1.9-.9-.5-.2-14 .2-6.1 1-.5 2-1.9 1-.5 2.5-.4 1.5-1.4 2.5-.2 2-.6 4-.3 4-.8 8.5 .9 1 .4 1 .8 2-.1 2 1.5 2.5 0 2 1.8 2 .2 1.5 1.7 .4 7-.4 9.9-.7 1.1-.6 2-3.8 2-4.4 3.4-2.5 .8-2 0z" fill="#f7fbff"/><path d="M30 33.5l-1 .1-1-.2-3.2-1.9-1.3-1.4-1.7-1.1 .2-1 .9-1-.4-.5-3-.8-1-1.1-2 .6-1.5-.7-2.5-.2-.6 .7-.1 2-2.3 1.7-1 .5-1 0-3-1.1-1.1-1.6-.4-2 .8-6.5 .4-1.5 1.4-2.5 2.4-2.1 2.5-1.5 8-2.8 4-.6 4.5 .5 6 2.7 10 6.1 0 5.8-4 2.5-4 1.7-.5 1.2 .2 2-.7 1.5-1.5 1.7z" fill="#e1edf8"/><path d="M8.5 27.5l-1.5 .2-1.5-.6-.6-.6-.4-1 .5-5.5 .7-1.5 .4-2 1.2-2 2.2-2 5-2.2 2-.3 2-.8 4.5-.7 4 .6 2 .8 4 1.7 4.8 2.9 2.6 2.5 .7 1.5-.2 1.5-1 1.5-1.9 1.4-2.5 .7-2.5 0-3.7-1.1-6.3-.7-4-1-4.5 .4-3.5 1.5-1.4 3.8zM29.5 29.8l-1.1-.8 1.1 0 .4 .5zM31 31.3l-.8-.3-.5-1 .3-.5 1.1 .5 .3 1z" fill="#ccdff1"/><path d="M8 26.7l-1 0-1-.5-.5-.7-.1-1 .4-4 2.5-6 1-1 1.2-.7 8.5-2.9 4.5-.5 3 .4 2 .7 4.5 2 4.5 2.9 1.6 1.6 .8 1.5-.3 1.5-1.1 1.3-1 .7-1.5 .4-3-.1-4-1.5-2 .2-2-.7-6-.9-4.5 .6-4.3 2-1.5 4z" fill="#abd0e6"/><path d="M7.5 25.6l-.5-.1-.3-.5-.4-2.5 .3-2 1.8-4 .6-2 1.5-1.2 9.5-2.9 5.5-.2 1.5 .4 2 1.1 2.5 .7 6 3.8 1.1 1.3 .5 1-.2 1-.9 1.3-1 .6-1.5 .4-2-.3-4.5-2.1-2-.6-2 .2-7-.6-4.1 1.1-3.9 1.7-.8 .8-1.2 3z" fill="#82bbdb"/><path d="M36.5 21l-1 .2-1.3-.2-5.7-3.1-5.5-.7-5 .2-10 3.9-.2-.8 1.2-5 .5-1 .6-.5 8.4-2.8 2-.4 4-.2 2.5 .6 2 1.4 2 .1 6.5 4.3 .7 1 .1 1-.5 1z" fill="#58a1cf"/><path d="M36 20.6l-1.4-.1-2-1.5-3.6-2-6-.9-5 .4-5.5 2.5-3 .4-.5-.9 .2-2.5 .4-1 .9-.8 4-.8 2-1.1 4.5-.9 4-.2 2 .6 2 1.3 2 .2 6 4.1 .4 .6 .2 1-.7 1z" fill="#3787c0"/><path d="M36 19.7l-.5 .1-1.5-1.3-2.6-1-1.9-1.2-2.5-.6-4-.5-5.5 .7-4.8 2.6-1.2 .3-1-.2-.9-.6-.1-1.5 .5-1.4 1-.7 3.5-.2 2-1.4 2-.6 6-.5 2 .5 2.5 1.5 1.5-.1 .9 .4 4.9 4 .3 1z" fill="#1b69af"/><path d="M12.5 18l-1.5 .2-1-.6-.1-1.6 .6-1 1.5-.3 3 .5 1-.4 .3-.8 .6-.5 1.2-.5 2.4-.2 2.5-.6 2.4 .3 1.3 1-.2 .5-1.5 .5-2-.2-2.5 .5-4.5 .4zM31.5 16.2l-.8-.2-1.8-1.5 2.1-.2 1 1.7z" fill="#084d96"/><path d="M12 17.6l-1.5-.1-.4-1 .4-1 1.5-.2 1 .7z" fill="#08306b"/></g></g>
<polygon points="419.0,75.2 424.8,70.0 430.0,69.2 432.0,67.5 439.2,67.5 443.1,70.0 448.9,73.7 453.2,74.3 454.1,76.5 452.2,77.8 450.2,79.8 445.8,79.8 444.4,77.8 435.3,77.5 434.0,75.9 424.8,75.7 420.3,77.5" fill="none" stroke="#f7a41f" stroke-width="1.05" stroke-linejoin="miter"/>
<ellipse cx="439.8" cy="90.8" rx="1.5" ry="1.5" fill="none" stroke="#f7a41f" stroke-width="1.3"/>
<line x1="433.40" y1="57.15" x2="433.40" y2="99.56" stroke="#a8a8a8" stroke-width="1"/><line x1="412.65" y1="78.35" x2="454.15" y2="78.35" stroke="#a8a8a8" stroke-width="1"/><rect x="412.65" y="57.15" width="41.50" height="42.41" fill="none" stroke="#5c5c5c" stroke-width="1.0"/>
<g clip-path="url(#cp2_9)"><g transform="translate(412.6 102.5)"><path d="M25.5 42.5l-.5 .1-1-.5-1-1.9-.5-.1-2 .3-4 1.1-4-.5-.6-1.5-2.4-1.2-.5-2.3-.5-.3-2 .2-.5-.3-.8-2.1-.7-1-.5-.4-2-.3-.5-.8 .2-2-1.5-1.5-.2-1-.2-10 .2-5.3 .7 .3 .5 1 .8 .5 1.5-.5-1.3-2-1.6-1-.2-1.5 1.1-1.7 2-.9 1.3-1.4 1.8-1 .7-2 .7-.7 4.5-.4 9-.1 3.1 .2 2.4 .7 .5-.7 1.5-.2 10.4 .2-1.4 1-.5 1 1.1 1 .9 .3 .5-.3 1-1.7 .5-.2 1.5 1.1 .3 16.3-.3 13.6-2 .2-1 .5-.1 2.2-.4 .8-3.6 3.2-.9 .4-2.5-.3-1 .4-.1 2-.4 .7-1.4-.7-.1-1 .7-1-.2-.3-2.2-.7-2.8-.3-.3 .8 1.3 1.3 .4 1.2-.4 .7zM6.9 7l1.4-.5 .4-.5-.2-.4-.5-.3-2 .2-.8 .5 .8 1.2zM2.2 25.5l.4-.5 0-.5-.6-1.4-.7 .9-.1 1 .5 .5zM37.8 33l-.3-.3-.2 .3zM14.5 40.5l.5-2.3 1.5-1.1 0-.2-2.2 .1-.3 2.5z" fill="#f7fbff"/><path d="M19.5 33.6l-1 .2-1-.8-.2-2 .8-.5 1.1-1.5-.9-1-1.8-.6-2 .6-1-1.7-1-.9-2 .8-.7-.7-.3-.5 .2-3-.2-.6-.9-.9 1.7-2 .8-.5 .2-1.5-.3-.6-.5-.3-2.5-1 0-1.6 .1-.5 .4-.1 1 .9 2 .7 1 .8 1-2.5 .2-2.3 .4-.5 1.4-.8 .5-2.5 1-.8 1-1.4 2.5-.7 2.5 0 .6-.3 .7-1 .7-.1 1.2 1.6 .8 .2 2-.3 .4 .6 .4 2.5-1.7 1.5 .4 .8 1 0 .6-.3 .4-.8 1.5-.4 1-.7 1.6 1.9 .4 .9 3.2 1.1-.6 1.5 .5 1 .4 2.4 .5 .5 1.6 .6-1.6 2 .6 4-.6 .4-1.5-.7-.7 .3 .1 .5 .9 .5 .1 .5 .3 2.5-.1 .5-1.7 1-1.4 .5-2-.3-2 1.3-2-.6-2.5 .8-.6-.2-.9-1.6-.5 0-.1 1.6 .9 1 .1 .5-.4 .9-.5 .1-1-1-1-.1-.7 1.1zM12.5 7.8l-.5-1.3 .5-1 .6 .5 .1 .5zM21 10.5l.3-4-.3-.9-.5-.1-.5 .5-.1 .5 .2 3.5 .4 .8zM33.9 10.5l.2-.5-1.1-.3-.4 .3-.1 .5 .5 .3zM25.1 22.5l-.1-.5-.5 0-.2 .5 .2 .5 .5 0zM33.3 24l.5-1-.1-.5-.7-.4-.3 .4 0 1 .3 .9zM23.5 27l-.5-.9-.5 .4 .1 .5zM10.5 29.4l-.5-.4 .5-1.1 .4 1.1zM12.5 31.5l-.9-.5 .4-.6 1 0 .7 .6zM29.5 33l-.5 .5-.8-.5 .8-.6z" fill="#e1edf8"/><path d="M28.5 24.1l-2.1-.1-.7-3-.7-.9-1.8 .4-.4 .5-.3 1.5-1.5 .7-.5-.1-.6-.6-1.9-.8-.7-1.7-1.2-1-.2-.5 1.6-1 .2-.5 .1-.5-.3-.9-1-1.1 1.3-1.5 .7-1.6 1 .7 3 1.2 .5-.2 .2-.6-1-2 .3-1 .5-.5 2-.8 .5 .3-.6 1.5 .3 .5 1 1 1 2 1.2 1 1.1 .5 .3 .5 1.3 7-.1 .4-1.5 .4zM29 11.2l-.9-.7 .3-.5 .6-.2 .8 .7zM14.5 16.7l-.2-.2 .2-.3zM34.5 16.6l-1.5 .3-.2-.4 .2-.3 .5 .1 1.3 .2zM25.5 25.1l-.5 .1-.5-.2 .3-.5 .7-.1 .2 .1 0 .5z" fill="#ccdff1"/><path d="M28 21.1l-1 .3-.7-1.4-1.3-.9-4 .2-.5-.3-.1-.5 1.1-2 0-1.8 1 0 1-.5 1-2.5 .5-.1 .8 .9 .2 2 1 .9 2.1 1.1-.1 1.4-.4 .6 .4 2zM21 14.6l-.4-.1 .7 0z" fill="#abd0e6"/><path d="M26 17.6l-1 .2-1.5-.1-.5-.2-.4-1 1.4-1 1-.2 1.4 1.2z" fill="#82bbdb"/></g></g>
<polygon points="422.9,110.8 424.9,108.3 427.3,107.8 429.3,106.3 431.2,108.3 430.2,110.2 426.3,113.6 424.4,114.1 422.9,112.8" fill="none" stroke="#f7a41f" stroke-width="1.05" stroke-linejoin="miter"/>
<polygon points="440.0,115.1 441.5,112.2 443.4,111.2 445.4,112.8 447.8,114.6 447.3,116.6 443.9,117.5 441.9,118.0 440.5,117.0" fill="none" stroke="#f7a41f" stroke-width="1.05" stroke-linejoin="miter"/>
<polygon points="438.0,120.5 439.5,119.0 442.9,119.0 445.8,119.0 448.8,120.0 450.2,121.4 448.3,122.9 445.8,124.4 442.9,124.9 440.5,126.8 439.0,127.3 437.6,124.4" fill="none" stroke="#f7a41f" stroke-width="1.05" stroke-linejoin="miter"/>
<polygon points="421.5,123.4 422.9,121.4 424.4,123.4 422.9,125.3" fill="none" stroke="#f7a41f" stroke-width="1.05" stroke-linejoin="miter"/>
<polygon points="425.6,132.1 426.6,130.6 430.1,130.3 431.2,132.1 430.1,133.8 426.6,133.8" fill="none" stroke="#f7a41f" stroke-width="1.05" stroke-linejoin="miter"/>
<line x1="433.40" y1="102.55" x2="433.40" y2="144.55" stroke="#a8a8a8" stroke-width="1"/><line x1="412.65" y1="123.55" x2="454.15" y2="123.55" stroke="#a8a8a8" stroke-width="1"/><rect x="412.65" y="102.55" width="41.50" height="42.00" fill="none" stroke="#5c5c5c" stroke-width="1.0"/>
<g clip-path="url(#cp3_9)"><g transform="translate(412.6 147.4)"><path d="M43 43.1l-30.5 .4-6-.5 .2-1.5-1.9-4 0-.5 .9-2-.9-2 .6-1 1.1-1-1-1.7-.7-2.3 .4-2-.2-2 .8-2 .4-2.5 1.8-.2 .4-.3 .5-1.5-.4-.6-2.5-.8-.4-.6 .9-1 2.1-1-1.2-2 1.6-2.5 2.5-1.5 .9-2.5 1.3-2 .4-2 1 0 1.4 .8 2-.8 4.5-.1 3.5 .4 2-.5 4.5 0 3.8 .2 .7 .4 1.6-.4 .9 .8 1.5 .6 .7 .6 .8 1.4 .4 3.6-.1 26zM8.6 27l-.1-.2-.5 .2 .5 .2zM39.8 41.5l-.3-.6-.5 .1 0 .6 .5 .1z" fill="#f7fbff"/><path d="M20 43.1l-7 .3-3.8-.4-.8-1-1.2-3-.1-2 .4-2 2.5-3.1 1-.2 1.5 .3 2-.6 2 0 .6-.4-2.1-.6-.9-1.4-.4-1-1.2-.4-.4-.6 .4-.7 .5 0 .9 .2 .6 .6 .2-2.1-.7-2.5 .7-2-.8-.5-.2-1 .2-1.5 1.1-2.5 .5-.6 1.7-.9 1.3-1.1 2.5-.9 1.5 .2 .5-.3 .4-.9-1.9-1.1-.7-.9 .2-.5 1-.7 1-.1 .8 .8 .7 1.1 .5-.2 1.1-3.4 .9-.8 2.2-.7 .8-.8 1-.1 2-.8 3 .4 3 .6 4 2.1 .4 5.1-.3 16.5-.1 .4-1.7 1.6-.7 2 .2 .5 1.2 .8 .4 .7-.9 .8-.5 0-1.5-1.6-.5 .4-.6 2.4-.9 1.2-1.5 .9-1 1-2.5 .4-2 1.8-.6 1.2-.9 .6-2-.2-4 .8-2-.1zM27 15.5l0-1.5-.5-.3-1.4 .8 1.9 1.4zM25.4 19l.5-.5-.9-.4-.6 .4 .6 .7zM20.8 29l-.3-.3-.2 .3z" fill="#e1edf8"/><path d="M18.5 43l-5 .3-2.5-.3-1.5-1.5-1.2-2 .3-4.5 1.9-1.8 2 .5 2.5-.3 1.5-.7 2 .1 1.4-1.8 2.2-1 .9-1.4 2.5-1.3 1.5-.3 .4-2-1.7-2 0-.5 1.3-.9 .5-.6 1-3.1 .5-.6 3-.1 1-.4 2 .2 .5-.4-.5-1.2-2 .5-2-1.3-2 .9-.5-1-.3-2-1.4-2.5-.1-2 .4-1.5 3.4-1.7 4.5-1.2 4 .7 2 .9 2 1.6 .2 3.7-.2 6.4-.3 1.6 .3 .7 0 2.7-1.7 3.1-.5 2-1.8 2.7-1.8 1.3-.2 2.3-3.6 2.2-.9 1-1.5 .3-1.1 1.2-2.9 1.7-6.5 2.1zM18.5 24.4l-1.5-.6-.8-.8-.3-1 .1-1.5-1.1-2 .7-2 .9-.9 1.5 0 1.5 .7 2 2.3 1 .6 .9 1.3 0 .5-.4 .4-1.5 .2-1.5 .9z" fill="#ccdff1"/><path d="M15.5 43l-3.7 0-2.1-2.5-.6-1.5 .5-2-.2-1.5 .6-.9 .5-.4 2 .5 3-.3 1.5-.7 3-.4 .5-.2 1-1.5 1.2-.6 3.3-2.7 2.5-.8 .5-1 .5-.3 1.5-.4 2-.1 .3-.7-.6-2 .5-2 .2-2.5 .6-.7 1.6-.8 .3-.5-.1-1-.8-1-2-.6-1.6-1.4-2.4-.5-1.4-2.5 0-1.5 .4-.8 2-1.4 1.5-.7 3.5-.8 4 .5 2 1 .8 .7 1.2 2.3 0 3.1-.7 .6-.2 .5-.4 2 0 1.5-.5 2 1.1 1.5 .2 1-.4 1-2.6 4.3-1.5 1.2-.5 1.5-3.1 4.5-2.9 2.3-1.4 .7-1.1 1.2-4 1.4-2 1.3-2 .2-2.5 1.5-2-.3zM19.5 20.2l-2 .1-1-.7-.5-1.6 .5-1.5 1.5 .2 1.5 1.1 .4 .7 .1 1z" fill="#abd0e6"/><path d="M14.5 43l-2-.1-2.6-3.4 0-1 .6-1.5-.2-1 .2-.6 .5-.1 1.5 .3 2-.5 2 .1 .7-.7 .8-.4 1.5-.1 1 .3 1.5-2.2 1.9-1.1 2.6-2.4 1-.1 1.5 .8 .4-.3 .6-1.9 1-.6 1.3 .5 .4 2 .3 .3 .5-.3 .3-1.5 1-2.5 1.4-2-.2-.5-1.5-.6-.6-1.4 .2-2 1.5-1 .7-1-.3-2-4-2.4-2.5-.8-1.1-1.8-.2-1 .3-.7 2.3-1.8 2.2-1 2.5-.1 3 .2 2.1 .9 1 1.5 .8 2.5 0 .5-1.3 2-.6 3.5 .1 2.5 1 1.5 .3 1-.4 .9-2.5 3.3-2 .6-.8 .7-.1 .5 .6 2-1.6 2-1.1 2-3 2.4-2 0-.3 1.6-3.7 1.3-2 1.6-1.5 0-1-.5-2 1.8-3.1 .3zM18.5 19.3l-.5 .1-.6-.4-.1-.5 .2-.6 1 .1 .5 .5-.1 .5z" fill="#82bbdb"/><path d="M39 23.7l-1 .2-.4-.4 0-1 .4-.9 1.4-.6 .2-.5-2.6-.2-.5 1.1-.5 .2-1-.1-.5-.8 .2-2.2 1.3-.9 .5-.8 .4-1.8-.3-1-2.6-1.2-1-.9-2.9-.9-.5-.5-.6-1.3 0-1 .5-.2 .5-.1 1 .6 .3-.5-.1-1.5 .5-.5 1.3-.6 6 .2 1.5 .9 .5 1 .5 2 0 1-1.1 3-1 1.5-.2 1 .6 1.5 .5 2 .9 1 .1 .5zM13.5 41.6l-1 .1-1.3-1.2-.6-1 .1-1 .9-2 2.9-.8 2 .1 2-1.4 1 .1 1 .7 .5-.1 1-2.2 2.5-1.6 2-2.2 .5-.2 2 .7 .9-.6 1.1-1.7 2 2.5 1-.3 1-2 .7 .5 .3 1-1.5 1.6-1.1 2.4-2.4 1.9-2-.1-.8 .2-1.2 2-2 .6-2 1.9-1 .1-1.8-.6-1.1 .5-1.1 1.3z" fill="#58a1cf"/><path d="M39 14l-1-.2-.7-1.3-.3-.1-.5 .5-1.5 0-.6-.4-1.4-1.7-2 .1-.8-.4-.1-1 1.9-1-.2-1.5 .1-.5 .5-.5 1.1-.3 1.5 .5 3-.5 1.4 .3 .6 .5 .9 3 0 1-.9 2.7-.5 .6zM35.5 21l-.6-.5 .1-1.5 1.5-1.2 .5-1.6 .5-.6 1 .9 1 1.6 .1 .9-.6 .6-2-.1zM17.5 40.6l-5 .2-1.1-1.3 .2-1.5 .9-1.1 2-.7 2 .1 2-1.6 1 .2 1 .7 .5-.1 1.5-2.6 2-1 2.5-2.6 2 .5 1-.5 1-1.2 1.5 1.8 1 .6 .3 .5-.8 1.8-2 1.5-3.5 .6-1 1.4-2 1-1.5 1.8-.5 .2-2-.7-1.5 .1-.7 1.3z" fill="#3787c0"/><path d="M39.5 13.1l-.5 .2-.5-.2-1-1.1-2.5 .5-2.2-3.5-.2-2.5 .4-.4 .5 .1 1.5 .8 2-.9 1.5 0 1 .4 .3 1-.1 1 .4 .5 .3 1zM31.5 10.5l-.6 0 .1-.7 1.2 .2zM38.5 18.8l-1.1-.3 .1-1.1 1.5 1.1zM16.5 40.6l-2.5-.2-1.2-.4-.5-1 .6-1.5 1.6-.8 2.5-.1 1.5-1.5 2 .8 .5-.1 .8-.8 .7-1.5 2.5-1.3 1-1.6 1-.9 2 .4 1.3-.6 .7-.8 1 1.3 1.2 1-.2 .8-.9 1.2-1.6 1-3.5 .5-1 1.3-1.5 1-2 2-3-.6-1-.9-.5 2.5z" fill="#1b69af"/><path d="M39 12.6l-1.5-1.2-2 .5-.5-.1-.7-1.3-.2-1.5 2.4-2.4 1.5-.2 .5 .1 .6 .5 0 1.5 .5 1 .2 1-.3 1.8zM29 34l-1.5-.2-.5-.9-1.2-.4 .2-1.5 1-.9 2 .2 2-.8 1.3 1.5-.2 1-1.4 1.5zM22.5 38.3l-3-.6-.5-1.5 1.5 0 1-.4 1.5-2.2 2-.4 .8 .3 .3 .5-.2 1zM17 40.2l-1 .1-2-.5-.6-.3-.1-1 1.2-1.2 3 0 .6 .7 0 1-.2 .5z" fill="#084d96"/><path d="M39 11l-3.5 .2-.5-.3-.2-1.4 1.7-2.4 1-.3 1 .6 .6 2.6zM30 33.5l-1 .3-1.1-.3-1.5-1.5 0-1 .6-.6 3.6 .1 .6 1.5-.5 1zM22.5 37.8l-2-.1-.6-.2-.2-.5 2.3-1.2 1-1.5 1-.3 1 .2 .2 .8-1.2 .9zM17 40l-.5 .2-1.5-.4-.9-.8 .1-.5 .4-.5 1.4-.4 1.5 .2 .3 1.2-.1 .5z" fill="#08306b"/></g></g>
<polygon points="440.0,155.8 442.9,152.3 449.8,151.9 453.8,154.3 454.2,154.9 454.2,161.6 451.8,160.6 443.9,160.1 441.5,158.2" fill="none" stroke="#f7a41f" stroke-width="1.05" stroke-linejoin="miter"/>
<polygon points="421.0,183.6 422.9,181.1 425.4,181.6 427.8,183.6 431.2,182.1 433.2,181.1 436.6,178.7 440.0,177.2 444.4,177.7 445.4,179.7 442.9,180.6 439.0,182.1 435.6,185.5 432.8,187.5 430.8,188.9 425.4,188.9 422.0,186.5" fill="none" stroke="#f7a41f" stroke-width="1.05" stroke-linejoin="miter"/>
<polygon points="427.3,166.5 431.8,162.1 434.6,165.0 433.6,168.0 431.2,170.4" fill="none" stroke="#f7a41f" stroke-width="1.05" stroke-linejoin="miter"/>
<polygon points="435.1,164.5 437.6,162.6 439.5,164.0 437.1,166.5" fill="none" stroke="#f7a41f" stroke-width="1.05" stroke-linejoin="miter"/>
<polygon points="446.3,166.5 447.8,164.5 450.8,164.0 453.2,165.5 452.8,168.9 449.8,170.4 447.3,169.4" fill="none" stroke="#f7a41f" stroke-width="1.05" stroke-linejoin="miter"/>
<line x1="433.40" y1="147.40" x2="433.40" y2="190.00" stroke="#a8a8a8" stroke-width="1"/><line x1="412.65" y1="168.70" x2="454.15" y2="168.70" stroke="#a8a8a8" stroke-width="1"/><rect x="412.65" y="147.40" width="41.50" height="42.60" fill="none" stroke="#5c5c5c" stroke-width="1.0"/>
<g clip-path="url(#cp4_9)"><g transform="translate(412.6 207.5)"><path d="M17 15.3l-.5 .1-1.1-.9 .3-1.5 .8-1 1.2 2.5zM16 35.1l-1.5-.1-2-.9-2.5-.7-2.5-2.3-.9-2.6 .3-2.5 1.2-3 3.4-2.4 2.1-1.1 .9-1.4 2 .6 2-.1 .6 .9 2.5 2.5 2.5 2 1.6 2 .5 1.5-.3 2.5-1.8 2-6.6 2.7z" fill="#fff5eb"/><path d="M16.5 33.1l-2 .2-2-1.2-2-.4-1.3-1.2-.8-1.5 0-1.5 .6-2.1 3.5-2.9 3.5-.7 2 .3 2.5 1.1 2 1.3 1.8 2.5 0 2-.4 1-.9 1z" fill="#fee8d2"/><path d="M17.5 31.6l-2.5 .2-4-2-1-1.3-.1-1 .2-1 3.2-2.5 2.2-.8 2 .1 2 .6 1.5 .9 .7 .7 1.2 2 .3 1-.2 .7-1 .8z" fill="#fdd5ad"/><path d="M18 30.5l-1.5 .5-2.5-.8-1.9-1.7-.7-1.5 1-1 3.6-2 1.5 .1 2 .7 1.1 1.2 1.1 2.5-.2 .5z" fill="#fdb97d"/><path d="M19 29.7l-1.5 .1-1-.5-.5 .4-1.5 0-.9-.7-.3-1.5 1.2-1 .5-1 .6-.5 .9-.4 1.5 .3 1.5 1.1 .8 2-.3 1z" fill="#fd9c51"/><path d="M19 29.1l-1 .1-1.5-.8-2 .1 .8-2 .7-.9 1-.2 1.2 .6 1.2 2z" fill="#f87d29"/><path d="M17.5 27.7l-1.3-.2-.2-.5 .5-.9 .8 .4 .4 1z" fill="#e95e0d"/></g></g>
<polygon points="421.0,234.3 421.9,231.4 424.4,230.6 427.3,230.6 429.3,229.2 431.2,230.6 433.2,233.3 437.6,236.7 436.1,238.7 433.8,237.2 431.8,238.7 429.3,241.1 427.3,241.3 425.4,239.7 422.4,239.2 421.0,237.2" fill="none" stroke="#1a1a1a" stroke-width="1.2" stroke-linejoin="miter"/>
<line x1="433.40" y1="207.47" x2="433.40" y2="249.82" stroke="#a8a8a8" stroke-width="1"/><line x1="412.65" y1="228.65" x2="454.15" y2="228.65" stroke="#a8a8a8" stroke-width="1"/><rect x="412.65" y="207.47" width="41.50" height="42.35" fill="none" stroke="#5c5c5c" stroke-width="1.0"/>
<g clip-path="url(#cp5_9)"><g transform="translate(412.6 252.4)"><path d="M19 41.6l-.5 .2-2-1.5-1 .4-1 .9-1.4-1.1-2.6-.6-2.5 0-3.5-.7-.5-.2-1-1.5-3-8.5 .2-2-.2-4 .5-2.5 .1-3.5 1.1-2.5 0-2 .3-.8 .5-.7 1.5-1 1.9-2 1.1-1.5 3.5-1 4.3-.5 1.1-1 .6-1.6 4 2 1.3-.9 1.7-.6 1.5-1.3 2-.6 2-1 3.5-.3 5.8 .3 .8 3.5-.5 2.5-3.6 4.4-2.2 2.1-.3 .5-.5 2.2-1.4 1.3 .9 3 2.3 1-1 2.5 .4 2-.2 1.5-1-1-1-.6-.7 1.6 .5 2.5-.8 2 .3 2-.2 .5-2.3 1.5-.8 2.4-.5 .1-1.5-1.2-.5 .7-.6 2-.9 1.3-2.5-.5zM33 29.2l-1.2-.2 1.2-1.8z" fill="#fff5eb"/><path d="M17.5 36.1l-1.5 .2-3.5-.7-2 .2-2-.3-2 .1-1-.6-1.6-2.5-.6-1.5-1-7 .1-2.5 1-3 .3-2 2.3-3.7 1-.2 1.5 .2 1.5-.3 2-1 2.5-1.8 3-1.2 3-.5 2.5 .4 1.5-.2 .5-.3 .7-1.9 1.3-1.6 2-.8 2-1.3 1.8-.8 1.2-.2 1 .3 1 1.4 0 1-.4 1-3.1 3-2.5 1.5-.5 .5-.5 2-1.9 1.5-.9 2.5-1.8 3-.2 1 .3 1 2.4 4 .6 1.5 0 1.5-.7 3-1.8 2.2z" fill="#fee8d2"/><path d="M18 34.6l-1.5 .3-2-.1-4-1.9-2.5-.1-3-2.1-.7-2.2-.4-6 .4-2 1.3-2.5 1.9-2.5 7.5-4.6 3-1.2 2-.2 4.3 1 .3 2 .6 1 .1 1-2.3 3.5-.5 1.5 0 1 3.5 5.1 .6 1.4-.7 3-1.9 2.3z" fill="#fdd5ad"/><path d="M17.5 34l-1.5 .3-1.5-.3-4.5-2.6-4-1.8-.5-.6 0-.5 .5-1.5-.7-1.5-.2-2 .3-2 .8-2 1.9-3 6.9-4.7 4-1.6 3.6 .8 .5 .5 1 2 .3 1-2.4 3.4-.5 1.6 0 1 .4 1 3.6 4.5 .4 1-.6 2.5-1.8 2.2-2.5 1.2z" fill="#fdb97d"/><path d="M17 33.6l-1.5 .1-1.5-.5-2.5-1.5-3-2.7-1.2-.5-1-3.5 0-1.5 .6-3.5 2.3-3.5 2.8-2.2 3.9-2.3 2.6-1.1 1 0 2.5 .7 .5 .4 .8 1.5 .1 1-2 3-.5 1.5-.1 1.5 .6 1.5 3.8 4.5 .1 1-.7 2-1.6 1.8z" fill="#fd9c51"/><path d="M17 33.1l-2 0-2.5-1.3-4.5-4.3-.9-3 .1-3.5 .4-1 2.4-3.5 2.5-1.8 2-.7 2-1.6 2-.7 1-.1 2 .6 1 1.3-.1 1.5-1.8 3-.3 1.5 .1 1.5 .5 1.5 1.2 1 1 1.5 1.5 1.5 .2 1-.4 1.5-1.4 1.7-2 .9-2.5 .6zM16.8 16.5l-.3-.5-1 .5 1 .2z" fill="#f87d29"/><path d="M17 32.5l-1.5 .2-3-1.3-4-4.4-.5-1.5-.2-4.5 .2-.7 2.5-3.5 2-1 .5 0 .4 .2 .2 .5 .9 .5 2 .1 .8-.6-.3-1.2-1.1-.8 .3-.5 1.3-1 2.5-.5 1.3 .5 .6 1-.3 1-1.1 1.6-.7 1.9 .3 3.5 .4 .8 1.4 1.2 1.1 1.9 1.1 1.1 0 1-.3 1-1.3 1.4-2 .7-2-.1z" fill="#e95e0d"/><path d="M16.5 32.1l-1.5-.2-2.5-.9-2-2.3-1.7-2.7-.4-5 .6-.5 1.5 .6 2-.4 0-.3-2.8-.4 .1-1.5 .7-1 1.5-.5 2.5 .8 2.5-.4 .6-.4 .5-1.5 1.3-1 .1-.5 1-.4 .5 .4 .1 .5-1.1 1.5-1 2.5 .8 4 2 2 .4 2.5 .9 .5 .2 1.5-.8 .7-.5 0-.5-.2-.5-1.2-.5 .1-.5 1.6-2.4 1z" fill="#cd4401"/><path d="M16.5 31.2l-1.5 0-2.1-.7-3.8-5-.1-1.5 .5-1.8 .5-.3 2.5-.5 .7-.9-.7-.8-1.3-.2-.7-.4 0-.8 1-.5 1-.1 2 .8 2-.6 1.5 .2 1.1 2.4 .3 2.5 1.6 1.1 .6 .9-.2 1-1.4 1-.7 2.5zM16.7 21.5l.3-1-.5-.3-.3 .3 0 .5 .3 .7z" fill="#a13403"/><path d="M12.5 18.6l-.6-.1 .8 0zM16.5 30.5l-1.5 0-1.6-.5-2.3-3-1.2-1-.5-1.5 .6-1.7 3-1.3 .5-.5 .5-1.3 1-.4 .6-.8 .9-.2 .8 .2 0 .5-.3 .3-1.2 .2-.3 .3-.1 .7 1.1 2.4 .9-.4 .6-1.7 .5-.4 .2 3.1 .3 .5 1.5 .3 .6 .7-.6 .9-1.2 .6-.3 2.5z" fill="#7f2704"/></g></g>
<polygon points="421.4,271.4 423.4,267.8 426.5,265.3 430.0,263.2 433.1,263.2 435.1,264.7 436.1,266.8 434.1,268.3 432.6,271.3 432.6,273.9 434.1,275.9 436.8,277.0 438.2,279.5 437.8,283.1 434.1,284.6 431.6,284.6 429.0,286.1 426.5,285.1 423.9,282.6 422.9,279.5 421.4,276.5" fill="none" stroke="#1a1a1a" stroke-width="1.2" stroke-linejoin="miter"/>
<line x1="433.40" y1="252.42" x2="433.40" y2="295.47" stroke="#a8a8a8" stroke-width="1"/><line x1="412.65" y1="273.94" x2="454.15" y2="273.94" stroke="#a8a8a8" stroke-width="1"/><rect x="412.65" y="252.42" width="41.50" height="43.05" fill="none" stroke="#5c5c5c" stroke-width="1.0"/>
<line x1="17.4" y1="24.4" x2="459" y2="178" stroke="#ec3535" stroke-width="1.05" stroke-dasharray="4.2 4.9" stroke-dashoffset="-1.9"/>
<line x1="312.2" y1="211.6" x2="457.4" y2="287.4" stroke="#ec3535" stroke-width="1.05" stroke-dasharray="4.2 4.9" stroke-dashoffset="1.3"/>
<rect x="459.4" y="146.50" width="11.6" height="11.55" fill="#f7fbff"/><rect x="459.4" y="135.00" width="11.6" height="11.55" fill="#e1edf8"/><rect x="459.4" y="123.50" width="11.6" height="11.55" fill="#ccdff1"/><rect x="459.4" y="112.00" width="11.6" height="11.55" fill="#abd0e6"/><rect x="459.4" y="100.50" width="11.6" height="11.55" fill="#82bbdb"/><rect x="459.4" y="89.00" width="11.6" height="11.55" fill="#58a1cf"/><rect x="459.4" y="77.50" width="11.6" height="11.55" fill="#3787c0"/><rect x="459.4" y="66.00" width="11.6" height="11.55" fill="#1b69af"/><rect x="459.4" y="54.50" width="11.6" height="11.55" fill="#084d96"/><rect x="459.4" y="43.00" width="11.6" height="11.55" fill="#08306b"/><rect x="459.4" y="43.0" width="11.6" height="115.0" fill="none" stroke="#555" stroke-width="0.9"/><line x1="471.0" y1="158.0" x2="473.0" y2="158.0" stroke="#555" stroke-width="0.8"/><text x="473.8" y="160.6" font-size="7.3" fill="#222">0</text><line x1="471.0" y1="146.5" x2="473.0" y2="146.5" stroke="#555" stroke-width="0.8"/><line x1="471.0" y1="135.0" x2="473.0" y2="135.0" stroke="#555" stroke-width="0.8"/><text x="473.8" y="137.6" font-size="7.3" fill="#222">20</text><line x1="471.0" y1="123.5" x2="473.0" y2="123.5" stroke="#555" stroke-width="0.8"/><line x1="471.0" y1="112.0" x2="473.0" y2="112.0" stroke="#555" stroke-width="0.8"/><text x="473.8" y="114.6" font-size="7.3" fill="#222">40</text><line x1="471.0" y1="100.5" x2="473.0" y2="100.5" stroke="#555" stroke-width="0.8"/><line x1="471.0" y1="89.0" x2="473.0" y2="89.0" stroke="#555" stroke-width="0.8"/><text x="473.8" y="91.6" font-size="7.3" fill="#222">60</text><line x1="471.0" y1="77.5" x2="473.0" y2="77.5" stroke="#555" stroke-width="0.8"/><line x1="471.0" y1="66.0" x2="473.0" y2="66.0" stroke="#555" stroke-width="0.8"/><text x="473.8" y="68.6" font-size="7.3" fill="#222">80</text><line x1="471.0" y1="54.5" x2="473.0" y2="54.5" stroke="#555" stroke-width="0.8"/><line x1="471.0" y1="43.0" x2="473.0" y2="43.0" stroke="#555" stroke-width="0.8"/><text x="473.8" y="45.6" font-size="7.3" fill="#222">100</text>
<rect x="459.7" y="298.90" width="11.5" height="11.55" fill="#fff5eb"/><rect x="459.7" y="287.40" width="11.5" height="11.55" fill="#fee8d2"/><rect x="459.7" y="275.90" width="11.5" height="11.55" fill="#fdd5ad"/><rect x="459.7" y="264.40" width="11.5" height="11.55" fill="#fdb97d"/><rect x="459.7" y="252.90" width="11.5" height="11.55" fill="#fd9c51"/><rect x="459.7" y="241.40" width="11.5" height="11.55" fill="#f87d29"/><rect x="459.7" y="229.90" width="11.5" height="11.55" fill="#e95e0d"/><rect x="459.7" y="218.40" width="11.5" height="11.55" fill="#cd4401"/><rect x="459.7" y="206.90" width="11.5" height="11.55" fill="#a13403"/><rect x="459.7" y="195.40" width="11.5" height="11.55" fill="#7f2704"/><rect x="459.7" y="195.4" width="11.5" height="115.0" fill="none" stroke="#555" stroke-width="0.9"/><line x1="471.2" y1="310.4" x2="473.2" y2="310.4" stroke="#555" stroke-width="0.8"/><text x="474.0" y="313.0" font-size="7.3" fill="#222">0</text><line x1="471.2" y1="298.9" x2="473.2" y2="298.9" stroke="#555" stroke-width="0.8"/><line x1="471.2" y1="287.4" x2="473.2" y2="287.4" stroke="#555" stroke-width="0.8"/><text x="474.0" y="290.0" font-size="7.3" fill="#222">20</text><line x1="471.2" y1="275.9" x2="473.2" y2="275.9" stroke="#555" stroke-width="0.8"/><line x1="471.2" y1="264.4" x2="473.2" y2="264.4" stroke="#555" stroke-width="0.8"/><text x="474.0" y="267.0" font-size="7.3" fill="#222">40</text><line x1="471.2" y1="252.9" x2="473.2" y2="252.9" stroke="#555" stroke-width="0.8"/><line x1="471.2" y1="241.4" x2="473.2" y2="241.4" stroke="#555" stroke-width="0.8"/><text x="474.0" y="244.0" font-size="7.3" fill="#222">60</text><line x1="471.2" y1="229.9" x2="473.2" y2="229.9" stroke="#555" stroke-width="0.8"/><line x1="471.2" y1="218.4" x2="473.2" y2="218.4" stroke="#555" stroke-width="0.8"/><text x="474.0" y="221.0" font-size="7.3" fill="#222">80</text><line x1="471.2" y1="206.9" x2="473.2" y2="206.9" stroke="#555" stroke-width="0.8"/><line x1="471.2" y1="195.4" x2="473.2" y2="195.4" stroke="#555" stroke-width="0.8"/><text x="474.0" y="198.0" font-size="7.3" fill="#222">100</text>
<text x="4.6" y="12.8" font-size="10.40" text-anchor="start" font-weight="bold" font-style="normal" fill="#111" textLength="11.6" lengthAdjust="spacingAndGlyphs">(a)</text>
<text x="4.8" y="208.6" font-size="10.40" text-anchor="start" font-weight="bold" font-style="normal" fill="#111" textLength="11.4" lengthAdjust="spacingAndGlyphs">(b)</text>
<text x="34.7" y="323.0" font-size="10.40" text-anchor="start" font-weight="bold" font-style="normal" fill="#111" textLength="10.3" lengthAdjust="spacingAndGlyphs">(c)</text>
<text x="255.0" y="323.0" font-size="10.40" text-anchor="start" font-weight="bold" font-style="normal" fill="#111" textLength="11.6" lengthAdjust="spacingAndGlyphs">(d)</text>
<text transform="translate(16.1 31.4) rotate(-90)" text-anchor="middle" font-size="7.3" fill="#111">t<tspan font-size="5.4" dy="1.3">cyc</tspan><tspan dy="-1.3">=132h</tspan></text>
<text transform="translate(16.1 77.2) rotate(-90)" text-anchor="middle" font-size="7.3" fill="#111">t<tspan font-size="5.4" dy="1.3">cyc</tspan><tspan dy="-1.3">=96h</tspan></text>
<text transform="translate(16.1 122.3) rotate(-90)" text-anchor="middle" font-size="7.3" fill="#111">t<tspan font-size="5.4" dy="1.3">cyc</tspan><tspan dy="-1.3">=60h</tspan></text>
<text transform="translate(16.1 167.5) rotate(-90)" text-anchor="middle" font-size="7.3" fill="#111">t<tspan font-size="5.4" dy="1.3">cyc</tspan><tspan dy="-1.3">=24h</tspan></text>
<text transform="translate(16.1 227.4) rotate(-90)" text-anchor="middle" font-size="7.3" fill="#111">t<tspan font-size="5.4" dy="1.3">cyc</tspan><tspan dy="-1.3">=168h</tspan></text>
<text transform="translate(16.1 272.7) rotate(-90)" text-anchor="middle" font-size="7.3" fill="#111">t<tspan font-size="5.4" dy="1.3">cyc</tspan><tspan dy="-1.3">=144h</tspan></text>
<text x="39.6" y="199.8" text-anchor="middle" font-size="7" fill="#222">t<tspan font-size="4.6" dy="1.8">tc</tspan><tspan dy="-1.8">=120h</tspan></text>
<text x="39.6" y="304.8" text-anchor="middle" font-size="7" fill="#222">t<tspan font-size="4.6" dy="1.8">tc</tspan><tspan dy="-1.8">=120h</tspan></text>
<text x="83.4" y="199.8" text-anchor="middle" font-size="7" fill="#222">t<tspan font-size="4.6" dy="1.8">tc</tspan><tspan dy="-1.8">=108h</tspan></text>
<text x="83.4" y="304.8" text-anchor="middle" font-size="7" fill="#222">t<tspan font-size="4.6" dy="1.8">tc</tspan><tspan dy="-1.8">=108h</tspan></text>
<text x="127.2" y="199.8" text-anchor="middle" font-size="7" fill="#222">t<tspan font-size="4.6" dy="1.8">tc</tspan><tspan dy="-1.8">=96h</tspan></text>
<text x="127.2" y="304.8" text-anchor="middle" font-size="7" fill="#222">t<tspan font-size="4.6" dy="1.8">tc</tspan><tspan dy="-1.8">=96h</tspan></text>
<text x="170.9" y="199.8" text-anchor="middle" font-size="7" fill="#222">t<tspan font-size="4.6" dy="1.8">tc</tspan><tspan dy="-1.8">=84h</tspan></text>
<text x="170.9" y="304.8" text-anchor="middle" font-size="7" fill="#222">t<tspan font-size="4.6" dy="1.8">tc</tspan><tspan dy="-1.8">=84h</tspan></text>
<text x="214.7" y="199.8" text-anchor="middle" font-size="7" fill="#222">t<tspan font-size="4.6" dy="1.8">tc</tspan><tspan dy="-1.8">=72h</tspan></text>
<text x="214.7" y="304.8" text-anchor="middle" font-size="7" fill="#222">t<tspan font-size="4.6" dy="1.8">tc</tspan><tspan dy="-1.8">=72h</tspan></text>
<text x="258.4" y="199.8" text-anchor="middle" font-size="7" fill="#222">t<tspan font-size="4.6" dy="1.8">tc</tspan><tspan dy="-1.8">=60h</tspan></text>
<text x="258.4" y="304.8" text-anchor="middle" font-size="7" fill="#222">t<tspan font-size="4.6" dy="1.8">tc</tspan><tspan dy="-1.8">=60h</tspan></text>
<text x="302.1" y="199.8" text-anchor="middle" font-size="7" fill="#222">t<tspan font-size="4.6" dy="1.8">tc</tspan><tspan dy="-1.8">=48h</tspan></text>
<text x="302.1" y="304.8" text-anchor="middle" font-size="7" fill="#222">t<tspan font-size="4.6" dy="1.8">tc</tspan><tspan dy="-1.8">=48h</tspan></text>
<text x="345.9" y="199.8" text-anchor="middle" font-size="7" fill="#222">t<tspan font-size="4.6" dy="1.8">tc</tspan><tspan dy="-1.8">=36h</tspan></text>
<text x="345.9" y="304.8" text-anchor="middle" font-size="7" fill="#222">t<tspan font-size="4.6" dy="1.8">tc</tspan><tspan dy="-1.8">=36h</tspan></text>
<text x="389.6" y="199.8" text-anchor="middle" font-size="7" fill="#222">t<tspan font-size="4.6" dy="1.8">tc</tspan><tspan dy="-1.8">=24h</tspan></text>
<text x="389.6" y="304.8" text-anchor="middle" font-size="7" fill="#222">t<tspan font-size="4.6" dy="1.8">tc</tspan><tspan dy="-1.8">=24h</tspan></text>
<text x="433.4" y="199.8" text-anchor="middle" font-size="7" fill="#222">t<tspan font-size="4.6" dy="1.8">tc</tspan><tspan dy="-1.8">=12h</tspan></text>
<text x="433.4" y="304.8" text-anchor="middle" font-size="7" fill="#222">t<tspan font-size="4.6" dy="1.8">tc</tspan><tspan dy="-1.8">=12h</tspan></text>
<text transform="translate(493.6 100.5) rotate(-90)" text-anchor="middle" font-size="8" fill="#222"><tspan font-style="italic" font-size="9.2">&#961;</tspan><tspan font-size="5.2" dy="1.8">loc</tspan><tspan dy="-1.8"> [%]</tspan></text>
<text transform="translate(493.6 252.9) rotate(-90)" text-anchor="middle" font-size="8" fill="#222"><tspan font-style="italic" font-size="9.2">&#961;</tspan><tspan font-size="5.2" dy="1.8">loc</tspan><tspan dy="-1.8"> [%]</tspan></text>
<rect x="33.7" y="327.6" width="208.6" height="103.8" fill="none" stroke="#bdbdbd" stroke-width="1.2"/><polyline points="43.0,387.3 62.9,382.9 82.9,376.3 102.8,366.4 122.8,356.5 142.7,356.5 162.6,355.8 182.6,358.7 202.5,360.9 222.5,362.0" fill="none" stroke="#cccccc" stroke-width="1.3" stroke-linejoin="round"/><polyline points="43.0,390.6 62.9,387.3 82.9,381.8 102.8,373.1 122.8,362.0 142.7,362.0 162.6,362.0 182.6,362.0 202.5,355.4 222.5,357.6 232.6,357.6" fill="none" stroke="#dcdcdc" stroke-width="1.6" stroke-dasharray="6.2 2.4" stroke-linejoin="round"/><polyline points="43.0,392.8 62.9,390.6 82.9,387.3 102.8,378.5 122.8,365.3 142.7,366.4 162.6,365.3 182.6,365.3 202.5,365.3 222.5,362.0 232.6,363.7" fill="none" stroke="#e2e2e2" stroke-width="1.6" stroke-dasharray="6.2 2.4" stroke-linejoin="round"/><polyline points="43.0,390.6 62.9,385.1 82.9,373.1 102.8,369.7 122.8,370.8 142.7,366.4 162.6,367.5 182.6,368.6 202.5,368.6 222.5,366.4 232.6,370.8" fill="none" stroke="#d0d0d0" stroke-width="1.6" stroke-dasharray="6.2 2.4" stroke-linejoin="round"/><polyline points="43.0,392.8 62.9,390.6 82.9,384.0 102.8,378.5 122.8,375.2 142.7,375.2 162.6,380.7 182.6,378.5 202.5,373.1 222.5,370.8" fill="none" stroke="#d8d8d8" stroke-width="1.3" stroke-linejoin="round"/><polyline points="43.0,385.8 62.9,385.1 82.9,387.3 102.8,384.0 122.8,385.1 142.7,387.3 162.6,387.3 182.6,386.2 202.5,382.9 222.5,380.7" fill="none" stroke="#999999" stroke-width="1.3" stroke-linejoin="round"/><polyline points="43.0,403.8 62.9,377.4 82.9,381.8 102.8,387.3 122.8,389.5 142.7,390.6 162.6,390.6 182.6,391.7 202.5,392.8 222.5,397.2" fill="none" stroke="#888888" stroke-width="1.3" stroke-linejoin="round"/><polyline points="62.9,379.6 82.9,384.0 102.8,387.3 122.8,381.8 142.7,375.2 162.6,376.3 182.6,373.1 202.5,368.6 222.5,370.8 232.6,370.8" fill="none" stroke="#999999" stroke-width="1.6" stroke-dasharray="6.2 2.4" stroke-linejoin="round"/><polyline points="43.0,410.4 62.9,406.0 82.9,401.6 102.8,400.5 122.8,395.0 142.7,396.1 162.6,398.3 182.6,397.2 202.5,387.3 222.5,380.7" fill="none" stroke="#7a7a7a" stroke-width="1.3" stroke-linejoin="round"/><polyline points="43.0,397.2 62.9,397.2 82.9,396.1 102.8,392.8 122.8,395.0 142.7,396.1 162.6,403.8 182.6,406.0 202.5,400.5 222.5,404.9 232.6,397.2" fill="none" stroke="#555555" stroke-width="1.6" stroke-dasharray="6.2 2.4" stroke-linejoin="round"/><polyline points="43.0,387.3 62.9,387.3 82.9,392.8 102.8,392.8 122.8,385.1 142.7,387.3 162.6,390.6 182.6,391.7 202.5,387.3 222.5,392.8 232.6,392.8" fill="none" stroke="#aaaaaa" stroke-width="1.6" stroke-dasharray="6.2 2.4" stroke-linejoin="round"/><polyline points="43.0,418.1 62.9,417.0 82.9,414.8 102.8,410.4 122.8,408.2 142.7,406.0 162.6,409.3 182.6,411.5 202.5,408.2 222.5,411.9 232.6,421.4" fill="none" stroke="#333333" stroke-width="1.7" stroke-dasharray="6.2 2.4" stroke-linejoin="round"/><polyline points="43.0,427.0 62.9,423.6 82.9,421.4 102.8,415.9 122.8,403.8 142.7,401.6 162.6,396.1 182.6,384.0 202.5,373.1 222.5,366.4 232.6,363.1" fill="none" stroke="#1a1a1a" stroke-width="1.7" stroke-dasharray="6.2 2.4" stroke-linejoin="round"/><polyline points="43.0,427.0 62.9,427.0 82.9,425.8 102.8,420.3 122.8,408.1 142.7,401.6 162.6,399.4 182.6,402.4 202.5,379.6 222.5,378.5" fill="none" stroke="#222222" stroke-width="1.3" stroke-linejoin="round"/><polyline points="43.0,427.0 62.9,427.0 82.9,425.8 102.8,423.6 122.8,424.7 142.7,421.4 162.6,422.5 182.6,421.4 202.5,417.0 222.5,414.8 232.6,421.3" fill="none" stroke="#111111" stroke-width="1.7" stroke-dasharray="6.2 2.4" stroke-linejoin="round"/><polyline points="43.0,427.0 62.9,423.6 82.9,421.4 102.8,414.8 122.8,413.7 142.7,410.4 162.6,412.6 182.6,411.5 202.5,413.7 222.5,414.8 232.6,419.2" fill="none" stroke="#333333" stroke-width="1.7" stroke-dasharray="6.2 2.4" stroke-linejoin="round"/><polyline points="43.0,418.1 62.9,411.5 82.9,406.0 102.8,406.0 122.8,403.8 142.7,401.6 162.6,403.8 182.6,402.7 202.5,392.8 222.5,384.0" fill="none" stroke="#333333" stroke-width="1.3" stroke-linejoin="round"/><polyline points="43.0,427.0 62.9,423.6 82.9,414.8 102.8,410.4 122.8,403.8 142.7,396.1 162.6,387.3 182.6,386.2 202.5,382.9 222.5,384.0 232.6,380.7" fill="none" stroke="#444444" stroke-width="1.7" stroke-dasharray="6.2 2.4" stroke-linejoin="round"/><polyline points="43.0,403.8 62.9,403.8 82.9,406.0 102.8,400.5 122.8,399.4 142.7,401.6 162.6,403.8 182.6,406.0 202.5,396.1 222.5,404.9 232.6,404.9" fill="none" stroke="#8a8a8a" stroke-width="1.6" stroke-dasharray="6.2 2.4" stroke-linejoin="round"/><polyline points="43.0,411.5 62.9,411.5 82.9,410.4 102.8,406.0 122.8,408.2 142.7,406.0 162.6,409.3 182.6,406.0 202.5,408.2 222.5,419.2 232.6,419.2" fill="none" stroke="#b0b0b0" stroke-width="1.6" stroke-dasharray="6.2 2.4" stroke-linejoin="round"/><polyline points="62.9,397.2 82.9,396.1 102.8,396.1 122.8,395.0 142.7,390.6 162.6,398.3 182.6,397.2 202.5,400.5 222.5,392.8 232.6,392.8" fill="none" stroke="#666666" stroke-width="1.6" stroke-dasharray="6.2 2.4" stroke-linejoin="round"/><polyline points="43.0,427.0 62.9,427.0 82.9,425.8 102.8,420.3 122.8,418.1 142.7,410.4 162.6,398.3 182.6,391.7 202.5,387.3 222.5,392.8 232.6,397.2" fill="none" stroke="#2a2a2a" stroke-width="1.7" stroke-dasharray="6.2 2.4" stroke-linejoin="round"/><polyline points="43.0,389.2 62.9,389.2 82.9,385.4 102.8,379.8 122.8,375.0 142.7,370.3 162.6,368.4 182.6,372.2 202.5,375.0 222.5,377.9" fill="none" stroke="#c4c4c4" stroke-width="1.6" stroke-dasharray="6.2 2.4" stroke-linejoin="round"/><polyline points="43.0,387.3 62.9,385.4 82.9,383.5 102.8,381.6 122.8,379.8 142.7,377.9 162.6,375.0 182.6,370.3 202.5,368.4 222.5,366.5 232.6,368.4" fill="none" stroke="#bdbdbd" stroke-width="1.6" stroke-dasharray="6.2 2.4" stroke-linejoin="round"/><polyline points="43.0,395.8 62.9,393.9 82.9,389.2 102.8,383.5 122.8,379.8 142.7,381.6 162.6,383.5 182.6,385.4 202.5,384.5 222.5,381.6 232.6,381.6" fill="none" stroke="#b8b8b8" stroke-width="1.6" stroke-dasharray="6.2 2.4" stroke-linejoin="round"/><line x1="31.7" y1="427.0" x2="33.7" y2="427.0" stroke="#666" stroke-width="0.7"/><text x="30.3" y="429.9" font-size="8.00" text-anchor="end" font-weight="normal" font-style="normal" fill="#222" >0</text><line x1="32.5" y1="417.6" x2="33.7" y2="417.6" stroke="#666" stroke-width="0.7"/><line x1="31.7" y1="408.1" x2="33.7" y2="408.1" stroke="#666" stroke-width="0.7"/><text x="30.3" y="411.0" font-size="8.00" text-anchor="end" font-weight="normal" font-style="normal" fill="#222" >20</text><line x1="32.5" y1="398.6" x2="33.7" y2="398.6" stroke="#666" stroke-width="0.7"/><line x1="31.7" y1="389.2" x2="33.7" y2="389.2" stroke="#666" stroke-width="0.7"/><text x="30.3" y="392.1" font-size="8.00" text-anchor="end" font-weight="normal" font-style="normal" fill="#222" >40</text><line x1="32.5" y1="379.8" x2="33.7" y2="379.8" stroke="#666" stroke-width="0.7"/><line x1="31.7" y1="370.3" x2="33.7" y2="370.3" stroke="#666" stroke-width="0.7"/><text x="30.3" y="373.2" font-size="8.00" text-anchor="end" font-weight="normal" font-style="normal" fill="#222" >60</text><line x1="32.5" y1="360.9" x2="33.7" y2="360.9" stroke="#666" stroke-width="0.7"/><line x1="31.7" y1="351.4" x2="33.7" y2="351.4" stroke="#666" stroke-width="0.7"/><text x="30.3" y="354.3" font-size="8.00" text-anchor="end" font-weight="normal" font-style="normal" fill="#222" >80</text><line x1="32.5" y1="341.9" x2="33.7" y2="341.9" stroke="#666" stroke-width="0.7"/><line x1="31.7" y1="332.5" x2="33.7" y2="332.5" stroke="#666" stroke-width="0.7"/><text x="30.3" y="335.4" font-size="8.00" text-anchor="end" font-weight="normal" font-style="normal" fill="#222" >100</text><line x1="43.0" y1="431.4" x2="43.0" y2="433.4" stroke="#666" stroke-width="0.7"/><line x1="53.0" y1="431.4" x2="53.0" y2="432.8" stroke="#666" stroke-width="0.7"/><text x="43.0" y="441.8" font-size="8.00" text-anchor="middle" font-weight="normal" font-style="normal" fill="#222" >120</text><line x1="62.9" y1="431.4" x2="62.9" y2="433.4" stroke="#666" stroke-width="0.7"/><line x1="72.9" y1="431.4" x2="72.9" y2="432.8" stroke="#666" stroke-width="0.7"/><text x="62.9" y="441.8" font-size="8.00" text-anchor="middle" font-weight="normal" font-style="normal" fill="#222" >108</text><line x1="82.9" y1="431.4" x2="82.9" y2="433.4" stroke="#666" stroke-width="0.7"/><line x1="92.8" y1="431.4" x2="92.8" y2="432.8" stroke="#666" stroke-width="0.7"/><text x="82.9" y="441.8" font-size="8.00" text-anchor="middle" font-weight="normal" font-style="normal" fill="#222" >96</text><line x1="102.8" y1="431.4" x2="102.8" y2="433.4" stroke="#666" stroke-width="0.7"/><line x1="112.8" y1="431.4" x2="112.8" y2="432.8" stroke="#666" stroke-width="0.7"/><text x="102.8" y="441.8" font-size="8.00" text-anchor="middle" font-weight="normal" font-style="normal" fill="#222" >84</text><line x1="122.8" y1="431.4" x2="122.8" y2="433.4" stroke="#666" stroke-width="0.7"/><line x1="132.7" y1="431.4" x2="132.7" y2="432.8" stroke="#666" stroke-width="0.7"/><text x="122.8" y="441.8" font-size="8.00" text-anchor="middle" font-weight="normal" font-style="normal" fill="#222" >72</text><line x1="142.7" y1="431.4" x2="142.7" y2="433.4" stroke="#666" stroke-width="0.7"/><line x1="152.7" y1="431.4" x2="152.7" y2="432.8" stroke="#666" stroke-width="0.7"/><text x="142.7" y="441.8" font-size="8.00" text-anchor="middle" font-weight="normal" font-style="normal" fill="#222" >60</text><line x1="162.6" y1="431.4" x2="162.6" y2="433.4" stroke="#666" stroke-width="0.7"/><line x1="172.6" y1="431.4" x2="172.6" y2="432.8" stroke="#666" stroke-width="0.7"/><text x="162.6" y="441.8" font-size="8.00" text-anchor="middle" font-weight="normal" font-style="normal" fill="#222" >48</text><line x1="182.6" y1="431.4" x2="182.6" y2="433.4" stroke="#666" stroke-width="0.7"/><line x1="192.6" y1="431.4" x2="192.6" y2="432.8" stroke="#666" stroke-width="0.7"/><text x="182.6" y="441.8" font-size="8.00" text-anchor="middle" font-weight="normal" font-style="normal" fill="#222" >36</text><line x1="202.5" y1="431.4" x2="202.5" y2="433.4" stroke="#666" stroke-width="0.7"/><line x1="212.5" y1="431.4" x2="212.5" y2="432.8" stroke="#666" stroke-width="0.7"/><text x="202.5" y="441.8" font-size="8.00" text-anchor="middle" font-weight="normal" font-style="normal" fill="#222" >24</text><line x1="222.5" y1="431.4" x2="222.5" y2="433.4" stroke="#666" stroke-width="0.7"/><line x1="232.4" y1="431.4" x2="232.4" y2="432.8" stroke="#666" stroke-width="0.7"/><text x="222.5" y="441.8" font-size="8.00" text-anchor="middle" font-weight="normal" font-style="normal" fill="#222" >12</text>
<rect x="254.9" y="327.6" width="209.5" height="103.8" fill="none" stroke="#bdbdbd" stroke-width="1.2"/><polyline points="264.2,404.9 284.1,396.1 304.1,386.2 324.0,377.4 344.0,355.8 363.9,360.9 383.8,357.6 403.8,366.4 423.7,347.7 443.7,352.1" fill="none" stroke="#d0d0d0" stroke-width="1.3" stroke-linejoin="round"/><polyline points="264.2,406.2 284.1,398.2 304.1,390.2 324.0,370.6 344.0,360.5 363.9,361.8 383.8,356.1 403.8,361.3 423.7,350.0 443.7,348.6 453.8,346.7" fill="none" stroke="#dedede" stroke-width="1.6" stroke-dasharray="6.2 2.4" stroke-linejoin="round"/><polyline points="264.2,424.7 284.1,414.8 304.1,398.3 324.0,408.2 344.0,415.9 363.9,415.9 383.8,417.6 403.8,419.4 423.7,418.1 443.7,422.6 453.8,415.9" fill="none" stroke="#7a7a7a" stroke-width="1.6" stroke-dasharray="6.2 2.4" stroke-linejoin="round"/><polyline points="284.1,400.5 304.1,413.7 324.0,415.9 344.0,418.1 363.9,418.5 383.8,418.5 403.8,417.6 423.7,412.8 443.7,408.1" fill="none" stroke="#b0b0b0" stroke-width="1.3" stroke-linejoin="round"/><polyline points="264.2,408.1 284.1,408.1 304.1,406.2 324.0,403.4 344.0,400.5 363.9,398.6 383.8,400.5 403.8,398.3 423.7,353.3 443.7,345.7 453.8,344.8" fill="none" stroke="#999999" stroke-width="1.6" stroke-dasharray="6.2 2.4" stroke-linejoin="round"/><polyline points="264.2,426.7 284.1,426.7 304.1,426.7 324.0,425.8 344.0,423.6 363.9,424.7 383.8,424.2 403.8,422.6 423.7,415.9 443.7,404.9 453.8,391.7" fill="none" stroke="#111111" stroke-width="1.7" stroke-dasharray="6.2 2.4" stroke-linejoin="round"/><polyline points="264.2,426.5 284.1,426.5 304.1,426.5 324.0,426.5 344.0,425.1 363.9,425.1 383.8,424.2 403.8,422.1 423.7,414.8 443.7,410.4" fill="none" stroke="#222222" stroke-width="1.7" stroke-dasharray="6.2 2.4" stroke-linejoin="round"/><polyline points="264.2,410.0 284.1,408.1 304.1,404.3 324.0,397.3 344.0,384.1 363.9,366.5 383.8,368.4 403.8,372.7 423.7,362.7 443.7,361.8" fill="none" stroke="#aaaaaa" stroke-width="1.6" stroke-dasharray="6.2 2.4" stroke-linejoin="round"/><polyline points="264.2,403.4 284.1,401.5 304.1,398.6 324.0,393.0 344.0,379.8 363.9,377.3 383.8,379.3 403.8,378.2 423.7,377.2 443.7,376.0 453.8,374.1" fill="none" stroke="#cccccc" stroke-width="1.6" stroke-dasharray="6.2 2.4" stroke-linejoin="round"/><polyline points="264.2,417.6 284.1,413.8 304.1,410.0 324.0,406.2 344.0,400.5 363.9,393.5 383.8,390.1 403.8,375.0 423.7,367.5 443.7,369.4" fill="none" stroke="#999999" stroke-width="1.6" stroke-dasharray="6.2 2.4" stroke-linejoin="round"/><polyline points="264.2,406.2 284.1,404.3 304.1,402.4 324.0,398.6 344.0,395.8 363.9,395.0 383.8,395.0 403.8,393.9 423.7,390.6 443.7,386.4 453.8,390.6" fill="none" stroke="#e0e0e0" stroke-width="1.6" stroke-dasharray="6.2 2.4" stroke-linejoin="round"/><polyline points="264.2,408.1 284.1,410.0 304.1,411.9 324.0,413.8 344.0,413.8 363.9,410.4 383.8,408.1 403.8,412.5 423.7,399.3 443.7,405.9 453.8,410.4" fill="none" stroke="#b0b0b0" stroke-width="1.6" stroke-dasharray="6.2 2.4" stroke-linejoin="round"/><polyline points="264.2,415.7 284.1,414.7 304.1,415.7 324.0,414.7 344.0,413.8 363.9,412.5 383.8,411.5 403.8,421.4 423.7,415.9 443.7,396.1 453.8,393.9" fill="none" stroke="#555555" stroke-width="1.6" stroke-dasharray="6.2 2.4" stroke-linejoin="round"/><polyline points="264.2,414.7 284.1,414.7 304.1,413.8 324.0,412.8 344.0,413.8 363.9,414.7 383.8,415.7 403.8,415.7 423.7,413.8 443.7,410.0 453.8,408.1" fill="none" stroke="#999999" stroke-width="1.6" stroke-dasharray="6.2 2.4" stroke-linejoin="round"/><polyline points="264.2,403.4 284.1,407.2 304.1,409.0 324.0,410.9 344.0,412.8 363.9,413.8 383.8,414.7 403.8,415.7 423.7,408.1 443.7,402.4" fill="none" stroke="#c8c8c8" stroke-width="1.3" stroke-linejoin="round"/><polyline points="264.2,427.0 284.1,427.0 304.1,427.0 324.0,426.5 344.0,426.1 363.9,426.1 383.8,425.6 403.8,424.2 423.7,418.5 443.7,410.9" fill="none" stroke="#666666" stroke-width="1.3" stroke-linejoin="round"/><polyline points="264.2,404.3 284.1,402.4 304.1,398.6 324.0,393.9 344.0,389.2 363.9,381.6 383.8,376.9 403.8,379.8 423.7,372.2 443.7,373.1" fill="none" stroke="#e4e4e4" stroke-width="1.6" stroke-dasharray="6.2 2.4" stroke-linejoin="round"/><polyline points="264.2,408.1 284.1,406.2 304.1,403.4 324.0,396.8 344.0,381.6 363.9,364.6 383.8,359.0 403.8,362.7 423.7,353.3 443.7,349.5" fill="none" stroke="#d8d8d8" stroke-width="1.6" stroke-dasharray="6.2 2.4" stroke-linejoin="round"/><line x1="252.9" y1="427.0" x2="254.9" y2="427.0" stroke="#666" stroke-width="0.7"/><line x1="253.7" y1="417.6" x2="254.9" y2="417.6" stroke="#666" stroke-width="0.7"/><line x1="252.9" y1="408.1" x2="254.9" y2="408.1" stroke="#666" stroke-width="0.7"/><line x1="253.7" y1="398.6" x2="254.9" y2="398.6" stroke="#666" stroke-width="0.7"/><line x1="252.9" y1="389.2" x2="254.9" y2="389.2" stroke="#666" stroke-width="0.7"/><line x1="253.7" y1="379.8" x2="254.9" y2="379.8" stroke="#666" stroke-width="0.7"/><line x1="252.9" y1="370.3" x2="254.9" y2="370.3" stroke="#666" stroke-width="0.7"/><line x1="253.7" y1="360.9" x2="254.9" y2="360.9" stroke="#666" stroke-width="0.7"/><line x1="252.9" y1="351.4" x2="254.9" y2="351.4" stroke="#666" stroke-width="0.7"/><line x1="253.7" y1="341.9" x2="254.9" y2="341.9" stroke="#666" stroke-width="0.7"/><line x1="252.9" y1="332.5" x2="254.9" y2="332.5" stroke="#666" stroke-width="0.7"/><line x1="264.2" y1="431.4" x2="264.2" y2="433.4" stroke="#666" stroke-width="0.7"/><line x1="274.2" y1="431.4" x2="274.2" y2="432.8" stroke="#666" stroke-width="0.7"/><text x="264.2" y="441.8" font-size="8.00" text-anchor="middle" font-weight="normal" font-style="normal" fill="#222" >120</text><line x1="284.1" y1="431.4" x2="284.1" y2="433.4" stroke="#666" stroke-width="0.7"/><line x1="294.1" y1="431.4" x2="294.1" y2="432.8" stroke="#666" stroke-width="0.7"/><text x="284.1" y="441.8" font-size="8.00" text-anchor="middle" font-weight="normal" font-style="normal" fill="#222" >108</text><line x1="304.1" y1="431.4" x2="304.1" y2="433.4" stroke="#666" stroke-width="0.7"/><line x1="314.1" y1="431.4" x2="314.1" y2="432.8" stroke="#666" stroke-width="0.7"/><text x="304.1" y="441.8" font-size="8.00" text-anchor="middle" font-weight="normal" font-style="normal" fill="#222" >96</text><line x1="324.0" y1="431.4" x2="324.0" y2="433.4" stroke="#666" stroke-width="0.7"/><line x1="334.0" y1="431.4" x2="334.0" y2="432.8" stroke="#666" stroke-width="0.7"/><text x="324.0" y="441.8" font-size="8.00" text-anchor="middle" font-weight="normal" font-style="normal" fill="#222" >84</text><line x1="344.0" y1="431.4" x2="344.0" y2="433.4" stroke="#666" stroke-width="0.7"/><line x1="353.9" y1="431.4" x2="353.9" y2="432.8" stroke="#666" stroke-width="0.7"/><text x="344.0" y="441.8" font-size="8.00" text-anchor="middle" font-weight="normal" font-style="normal" fill="#222" >72</text><line x1="363.9" y1="431.4" x2="363.9" y2="433.4" stroke="#666" stroke-width="0.7"/><line x1="373.9" y1="431.4" x2="373.9" y2="432.8" stroke="#666" stroke-width="0.7"/><text x="363.9" y="441.8" font-size="8.00" text-anchor="middle" font-weight="normal" font-style="normal" fill="#222" >60</text><line x1="383.8" y1="431.4" x2="383.8" y2="433.4" stroke="#666" stroke-width="0.7"/><line x1="393.8" y1="431.4" x2="393.8" y2="432.8" stroke="#666" stroke-width="0.7"/><text x="383.8" y="441.8" font-size="8.00" text-anchor="middle" font-weight="normal" font-style="normal" fill="#222" >48</text><line x1="403.8" y1="431.4" x2="403.8" y2="433.4" stroke="#666" stroke-width="0.7"/><line x1="413.8" y1="431.4" x2="413.8" y2="432.8" stroke="#666" stroke-width="0.7"/><text x="403.8" y="441.8" font-size="8.00" text-anchor="middle" font-weight="normal" font-style="normal" fill="#222" >36</text><line x1="423.7" y1="431.4" x2="423.7" y2="433.4" stroke="#666" stroke-width="0.7"/><line x1="433.7" y1="431.4" x2="433.7" y2="432.8" stroke="#666" stroke-width="0.7"/><text x="423.7" y="441.8" font-size="8.00" text-anchor="middle" font-weight="normal" font-style="normal" fill="#222" >24</text><line x1="443.7" y1="431.4" x2="443.7" y2="433.4" stroke="#666" stroke-width="0.7"/><line x1="453.6" y1="431.4" x2="453.6" y2="432.8" stroke="#666" stroke-width="0.7"/><text x="443.7" y="441.8" font-size="8.00" text-anchor="middle" font-weight="normal" font-style="normal" fill="#222" >12</text>
<text x="41.5" y="342.0" font-size="10.50" text-anchor="start" font-weight="normal" font-style="italic" fill="#111" >&#961;</text>
<text x="261" y="344.7" font-size="10.4" font-style="italic" fill="#111">G<tspan font-size="5.6" fill="#555">10</tspan></text>
<text transform="translate(13.9 380) rotate(-90)" text-anchor="middle" font-size="7.6" fill="#222"><tspan font-style="italic" font-size="8.5">&#961;</tspan><tspan font-size="5" dy="1.6">obj</tspan><tspan dy="-1.6"> [%]</tspan></text>
<text x="124.2" y="452.9" font-size="8.6" fill="#222">t<tspan font-size="5.6" dy="2.2" dx="0.5">tc</tspan><tspan dy="-2.2" dx="0.3">[h]</tspan></text>
<text x="345.0" y="452.9" font-size="8.6" fill="#222">t<tspan font-size="5.6" dy="2.2" dx="0.5">tc</tspan><tspan dy="-2.2" dx="0.3">[h]</tspan></text>
<rect x="470.2" y="420.37" width="7.8" height="4.58" fill="#0e0e0e"/><rect x="470.2" y="415.84" width="7.8" height="4.58" fill="#1d1d1d"/><rect x="470.2" y="411.31" width="7.8" height="4.58" fill="#2c2c2c"/><rect x="470.2" y="406.78" width="7.8" height="4.58" fill="#3f3f3f"/><rect x="470.2" y="402.25" width="7.8" height="4.58" fill="#505050"/><rect x="470.2" y="397.72" width="7.8" height="4.58" fill="#5e5e5e"/><rect x="470.2" y="393.19" width="7.8" height="4.58" fill="#6a6a6a"/><rect x="470.2" y="388.66" width="7.8" height="4.58" fill="#787878"/><rect x="470.2" y="384.13" width="7.8" height="4.58" fill="#868686"/><rect x="470.2" y="379.60" width="7.8" height="4.58" fill="#939393"/><rect x="470.2" y="375.07" width="7.8" height="4.58" fill="#a3a3a3"/><rect x="470.2" y="370.54" width="7.8" height="4.58" fill="#b2b2b2"/><rect x="470.2" y="366.01" width="7.8" height="4.58" fill="#c0c0c0"/><rect x="470.2" y="361.48" width="7.8" height="4.58" fill="#cbcbcb"/><rect x="470.2" y="356.95" width="7.8" height="4.58" fill="#d6d6d6"/><rect x="470.2" y="352.42" width="7.8" height="4.58" fill="#dfdfdf"/><rect x="470.2" y="347.89" width="7.8" height="4.58" fill="#e9e9e9"/><rect x="470.2" y="343.36" width="7.8" height="4.58" fill="#f1f1f1"/><rect x="470.2" y="338.83" width="7.8" height="4.58" fill="#f7f7f7"/><rect x="470.2" y="334.30" width="7.8" height="4.58" fill="#fdfdfd"/><rect x="470.2" y="334.3" width="7.8" height="90.6" fill="none" stroke="#555" stroke-width="0.9"/>
<line x1="478" y1="334.3" x2="480" y2="334.3" stroke="#555" stroke-width="0.8"/>
<line x1="478" y1="424.9" x2="480" y2="424.9" stroke="#555" stroke-width="0.8"/>
<text transform="translate(489.0 334.3) rotate(-90)" text-anchor="middle" font-size="7.4" fill="#222">cyclolysis</text>
<text transform="translate(489.0 424.9) rotate(-90)" text-anchor="middle" font-size="7.4" fill="#222">cyclogenesis</text>
</svg></body></html>
